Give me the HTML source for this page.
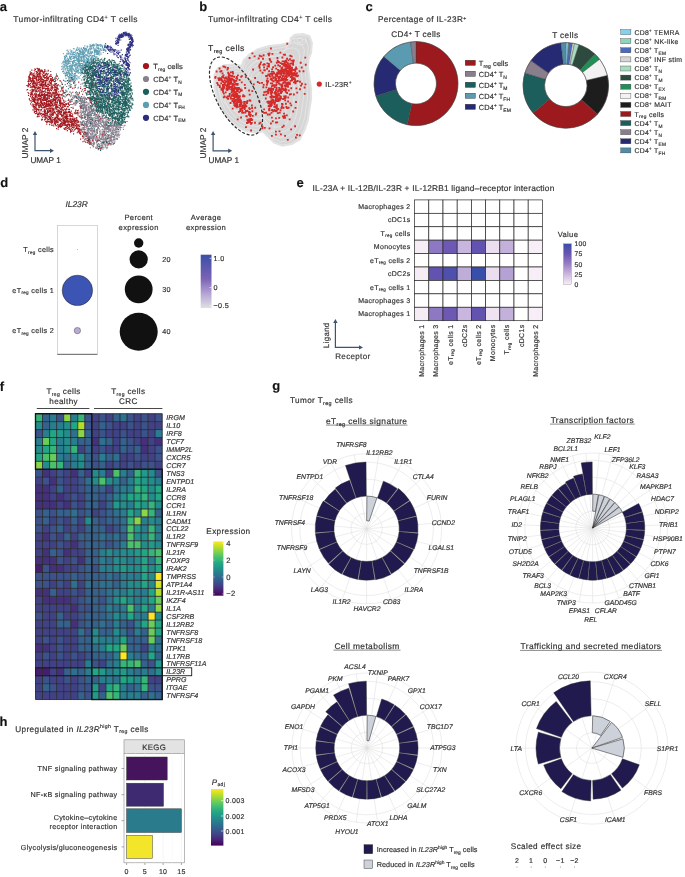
<!DOCTYPE html>
<html><head><meta charset="utf-8"><title>Figure</title>
<style>html,body{margin:0;padding:0;background:#fff;}svg{display:block;will-change:transform;text-rendering:geometricPrecision;}text{letter-spacing:0.045em;stroke:#333;stroke-width:0.18px;}text[font-style=italic]{letter-spacing:0;}</style></head>
<body><svg width="685" height="877" viewBox="0 0 685 877" font-family='"Liberation Sans", sans-serif' fill="#333333">
<rect width="685" height="877" fill="#fff"/>
<path d="M115.4 132.0h0M99.5 137.6h0M96.2 134.4h0M84.4 134.8h0M102.6 145.0h0M109.8 140.8h0M86.9 126.4h0M93.7 146.2h0M112.2 125.7h0M98.9 116.3h0M92.9 143.2h0M117.7 136.2h0M107.6 138.7h0M85.8 127.8h0M90.6 117.7h0M70.7 100.4h0M91.2 138.4h0M106.8 139.3h0M86.6 99.4h0M80.3 124.0h0M106.1 127.8h0M104.5 127.7h0M91.1 111.2h0M101.0 143.4h0M113.5 143.6h0M74.2 95.8h0M77.2 102.5h0M114.1 138.0h0M102.4 118.1h0M87.6 118.4h0M85.2 101.0h0M91.3 108.7h0M102.6 121.3h0M113.6 131.0h0M96.7 137.1h0M97.1 135.7h0M102.9 118.0h0M93.5 109.5h0M103.0 121.0h0M108.5 137.8h0M84.7 126.2h0M118.3 135.0h0M88.3 103.9h0M84.7 104.2h0M84.6 100.4h0M108.3 126.2h0M97.8 148.0h0M117.7 134.7h0M107.3 134.6h0M118.4 123.8h0M110.1 120.2h0M76.0 100.6h0M110.3 130.1h0M100.9 138.4h0M94.1 142.7h0M84.7 115.1h0M109.5 143.0h0M94.1 137.9h0M91.8 138.0h0M94.8 126.4h0M104.9 122.3h0M113.2 144.5h0M106.3 139.4h0M101.2 139.5h0M102.9 145.2h0M86.9 115.6h0M93.2 137.0h0M96.6 141.7h0M112.5 120.9h0M109.4 130.0h0M122.2 123.6h0M103.7 133.6h0M84.4 118.3h0M88.9 128.9h0M99.7 136.1h0M91.4 115.4h0M108.6 141.4h0M84.3 128.3h0M88.3 116.7h0M90.0 141.0h0M106.0 121.2h0M80.2 112.1h0M115.9 135.2h0M99.0 135.8h0M107.1 128.4h0M106.7 131.3h0M84.6 126.6h0M97.5 132.0h0M91.1 130.1h0M108.6 130.9h0M117.2 125.1h0M97.5 130.3h0M103.1 143.2h0M115.9 130.0h0M112.4 130.4h0M89.8 112.0h0M84.3 118.4h0" stroke="#8b7f8e" stroke-width="1.1" stroke-linecap="square" fill="none"/><path d="M98.2 64.7h0M121.2 111.9h0M98.1 140.3h0M117.9 82.3h0M108.7 70.7h0M80.8 117.8h0M112.2 78.6h0M124.9 117.8h0M114.8 103.6h0M131.4 98.1h0M103.9 113.4h0M126.0 108.9h0M103.2 126.4h0M81.5 96.5h0M92.9 83.3h0M111.4 79.6h0M114.9 121.8h0M118.5 101.2h0M88.7 65.1h0M123.4 102.4h0M113.3 100.3h0M125.9 105.6h0M126.7 94.1h0M107.8 68.9h0M95.0 92.7h0M90.5 98.6h0M110.4 106.6h0M100.9 80.6h0M108.5 93.0h0M104.1 115.4h0M117.7 77.7h0M128.2 101.6h0M106.9 98.5h0M98.1 79.6h0M91.5 98.9h0M89.7 92.5h0M100.9 102.2h0M124.7 109.9h0M107.5 143.2h0M118.8 119.1h0M114.5 118.1h0M127.1 104.4h0M120.7 116.7h0M95.3 110.8h0M98.9 146.4h0M105.3 129.0h0M114.0 113.5h0M128.5 91.9h0M123.8 85.4h0M132.5 98.8h0M88.3 73.4h0M91.3 64.5h0M100.0 95.8h0M118.4 90.6h0M121.0 71.1h0M109.6 110.1h0M64.9 92.6h0M92.6 92.4h0M109.1 97.1h0M101.5 96.7h0M126.5 98.9h0M113.7 81.4h0M120.0 116.2h0M90.5 77.5h0M119.0 118.3h0M120.9 75.8h0M87.7 117.9h0M103.0 80.3h0M98.7 143.8h0M106.7 94.4h0M103.1 74.3h0M120.2 75.2h0M124.3 119.6h0M92.4 86.9h0M87.0 79.5h0M88.5 75.5h0M102.5 103.5h0M127.1 75.4h0M98.0 86.4h0M56.5 75.2h0M121.4 70.2h0M97.8 94.7h0M104.9 58.7h0M102.7 103.0h0M113.8 70.2h0M92.4 60.0h0M123.7 108.5h0M122.3 113.4h0M87.1 64.5h0M105.5 105.9h0M89.6 77.3h0M112.0 102.2h0M116.3 92.4h0M119.8 69.9h0M122.9 68.5h0M112.8 69.4h0M95.3 86.9h0M98.0 99.2h0M92.6 105.9h0M115.5 121.1h0M99.4 64.9h0M82.3 73.3h0M120.2 74.1h0M93.3 104.6h0M122.1 92.6h0M118.7 121.2h0M113.0 96.5h0M118.3 72.9h0M106.3 69.7h0M122.0 91.3h0M130.7 97.2h0M91.7 59.8h0M87.5 69.6h0M94.7 65.9h0M76.3 97.7h0M123.7 92.7h0M110.4 114.0h0M99.2 64.7h0M110.2 98.5h0M106.9 77.6h0M113.5 64.7h0M104.0 115.1h0M131.3 96.0h0M122.7 100.3h0M98.0 66.0h0M91.0 68.8h0M126.4 76.1h0M128.2 90.0h0M99.4 79.5h0M124.3 98.2h0M120.7 114.9h0M91.7 86.3h0M117.9 75.5h0M120.3 112.3h0M98.6 73.7h0M114.9 118.8h0M112.3 115.6h0M124.7 108.4h0M92.0 91.4h0M82.4 68.6h0M92.3 67.4h0M67.4 83.6h0M99.4 107.7h0M130.2 106.6h0M124.2 94.6h0M110.0 92.3h0M100.4 65.5h0M110.9 111.3h0M100.2 94.8h0M120.2 104.5h0M104.9 86.3h0M109.9 115.0h0" stroke="#1d5f5e" stroke-width="1.1" stroke-linecap="square" fill="none"/><path d="M129.0 44.4h0M115.8 89.2h0M119.3 82.5h0M128.7 45.0h0M108.7 93.2h0M126.1 34.2h0M103.5 50.1h0M130.3 46.6h0M109.7 96.8h0M123.4 63.1h0M114.9 74.5h0M102.5 66.5h0M126.7 49.5h0M99.7 80.0h0M122.7 36.2h0M116.1 44.5h0M102.3 62.5h0M118.3 92.6h0M130.6 37.8h0M122.6 35.6h0M128.3 44.4h0M99.4 82.6h0M98.9 75.0h0M122.2 59.7h0M121.8 85.3h0M128.9 64.9h0M118.8 50.9h0M119.1 88.9h0M109.4 68.6h0M108.1 46.4h0M106.5 81.3h0M98.4 82.0h0M123.4 35.7h0M127.6 48.1h0M130.7 45.3h0M118.6 35.2h0M119.7 37.8h0M117.8 57.5h0M118.0 43.0h0M128.5 34.7h0M127.5 59.0h0M116.3 74.6h0M123.5 32.8h0M97.6 70.9h0M121.8 59.2h0M119.4 73.4h0M127.4 50.2h0M111.4 47.8h0M109.6 81.0h0M124.6 33.9h0M112.5 49.3h0M131.9 35.7h0" stroke="#2b2e80" stroke-width="1.1" stroke-linecap="square" fill="none"/><path d="M73.3 60.8h0M83.7 53.1h0M98.8 53.0h0M93.8 45.7h0M82.4 50.7h0M80.5 52.5h0M90.3 58.7h0M79.1 61.2h0M97.8 51.6h0M80.1 51.4h0M79.9 60.4h0M75.4 51.9h0M80.9 71.7h0M74.3 52.3h0M68.4 53.9h0M69.9 69.3h0M94.3 48.9h0M63.6 73.2h0M73.2 78.6h0M90.7 46.6h0M89.0 60.2h0M75.7 68.9h0M74.2 61.0h0M63.8 66.9h0M81.5 57.4h0M64.7 58.5h0M88.2 50.4h0M66.0 62.1h0M91.4 53.8h0M81.0 54.1h0M68.7 76.6h0M76.0 64.9h0M77.9 68.3h0M72.0 78.5h0M93.9 58.5h0M70.6 79.0h0M75.3 64.6h0M85.7 68.6h0M84.8 45.9h0M86.0 65.1h0M75.1 57.3h0M66.0 64.6h0M100.4 49.2h0M78.6 60.9h0M70.9 53.1h0" stroke="#5d9db2" stroke-width="1.1" stroke-linecap="square" fill="none"/><path d="M65.7 124.8h0M71.8 113.2h0M80.0 129.8h0M48.5 86.2h0M39.0 73.6h0M70.5 132.1h0M78.3 110.3h0M57.1 106.7h0M41.2 113.6h0M48.0 95.9h0M52.2 80.6h0M61.9 119.5h0M64.6 123.1h0M54.7 119.8h0M81.1 115.1h0M49.3 93.0h0M30.8 92.2h0M39.9 107.5h0M56.4 117.3h0M56.8 95.4h0M35.1 98.2h0M45.2 107.8h0M50.6 101.1h0M58.9 110.8h0M55.0 93.8h0M35.9 97.0h0M46.9 115.5h0M57.6 118.4h0M36.4 94.1h0M57.5 97.4h0M54.9 103.0h0M60.9 120.0h0M103.7 112.0h0M97.4 95.7h0M57.1 101.4h0M34.4 112.6h0M48.0 78.8h0M76.7 117.6h0M77.2 128.1h0M44.8 109.4h0M41.8 120.2h0M68.7 129.0h0M38.3 100.2h0M48.8 95.7h0M55.3 100.0h0M49.6 85.0h0M46.1 114.8h0M47.9 84.2h0M52.8 109.8h0M97.1 94.7h0M60.6 120.7h0M40.1 99.3h0M63.9 105.2h0M74.2 121.5h0M77.8 125.2h0M48.5 84.4h0M45.6 74.9h0M43.2 114.5h0M56.7 88.2h0M49.9 114.0h0M57.7 124.5h0M52.4 114.1h0M66.8 119.9h0M42.5 74.2h0M37.6 74.6h0M35.1 71.1h0M63.9 113.1h0M82.5 100.1h0M102.3 82.0h0M37.5 103.2h0M35.9 76.1h0M75.4 111.2h0M53.8 126.0h0M38.6 114.4h0M54.0 90.5h0M53.2 112.5h0M38.4 77.7h0M51.4 80.2h0M63.4 104.4h0M41.5 81.8h0M70.0 115.7h0M42.9 91.6h0M61.3 119.3h0M32.9 77.4h0M50.6 115.9h0M32.3 93.7h0M42.4 94.5h0M44.3 98.8h0M60.0 118.7h0M27.6 89.5h0M49.2 98.8h0M88.8 98.7h0M42.6 79.8h0M37.6 76.6h0M47.8 79.1h0M72.0 130.9h0M75.7 121.6h0M34.7 100.0h0M58.2 110.1h0M94.5 91.8h0M35.9 87.0h0M49.3 104.3h0M32.3 80.4h0M38.6 82.3h0M66.0 109.9h0M68.0 121.4h0M48.2 104.9h0M105.2 134.9h0M57.5 76.1h0M71.8 125.5h0M62.0 105.7h0M86.5 136.4h0M35.6 102.8h0M42.2 89.1h0M47.7 94.4h0M47.3 109.2h0M37.6 88.5h0M40.9 102.2h0M35.4 95.4h0M41.1 83.1h0M35.8 83.9h0M34.8 81.7h0M67.3 122.1h0M79.8 131.7h0M45.3 115.8h0M53.8 100.3h0M56.6 106.8h0M75.2 120.5h0M56.9 99.8h0M52.1 108.4h0M62.0 116.6h0M42.9 100.6h0M73.4 127.9h0M77.2 132.8h0M26.9 90.0h0M80.9 134.2h0M42.3 114.9h0M47.6 111.5h0M56.7 97.5h0M33.3 85.1h0M39.1 96.6h0M53.3 92.3h0M55.0 124.0h0M88.2 116.7h0M65.6 125.1h0M61.4 115.2h0M84.2 141.1h0M101.3 81.1h0M82.5 136.5h0M102.5 92.1h0M50.2 88.3h0M43.5 100.7h0M56.0 109.8h0M44.6 103.9h0" stroke="#a1161c" stroke-width="1.1" stroke-linecap="square" fill="none"/><path d="M90.9 122.4h0M88.8 141.5h0M86.1 110.9h0M107.2 136.7h0M82.3 102.2h0M117.5 128.5h0M80.5 104.7h0M103.9 131.1h0M85.3 134.9h0M97.9 137.7h0M81.9 122.1h0M85.4 112.3h0M112.0 137.2h0M86.6 132.2h0M85.4 132.4h0M102.4 131.3h0M90.2 138.1h0M102.5 136.7h0M93.3 140.5h0M108.3 123.4h0M116.2 122.6h0M119.9 128.8h0M84.2 104.1h0M86.6 108.0h0M89.6 132.4h0M118.3 122.0h0M93.5 125.9h0M98.2 140.7h0M111.0 123.1h0M98.0 126.1h0M89.3 126.1h0M89.3 117.4h0M107.9 139.9h0M88.8 109.8h0M90.9 113.1h0M101.9 122.1h0M92.4 124.2h0M97.3 147.5h0M91.8 131.8h0M99.1 116.9h0M76.4 101.5h0M93.1 111.7h0M91.4 114.1h0M83.7 128.8h0M99.3 117.0h0M117.4 138.9h0M88.0 131.9h0M102.6 120.9h0M91.7 124.6h0M91.2 134.6h0M105.9 123.6h0M94.2 113.3h0M117.5 125.5h0M82.3 101.0h0M85.9 133.4h0M102.9 149.1h0M115.8 138.9h0M82.1 100.2h0M91.6 117.4h0M75.9 104.7h0M104.9 118.5h0M88.8 107.4h0M118.9 127.3h0M118.9 131.0h0M104.6 124.5h0M83.6 104.1h0M89.3 110.7h0M82.2 128.3h0M113.6 125.9h0M92.7 119.3h0M99.3 116.7h0M99.6 123.3h0M107.9 126.7h0M113.4 128.8h0M88.0 129.6h0M87.3 105.8h0M106.6 122.3h0M80.9 98.9h0M120.4 129.9h0M83.0 98.1h0M82.6 115.6h0M94.3 123.1h0M105.7 139.5h0M85.8 108.9h0M92.4 123.6h0M90.2 130.7h0M91.1 134.3h0M115.2 130.2h0M106.1 143.1h0M99.4 146.3h0M99.0 121.1h0M84.3 101.9h0M110.5 140.5h0M93.8 136.4h0M100.1 138.7h0M104.6 139.0h0" stroke="#8b7f8e" stroke-width="1.1" stroke-linecap="square" fill="none"/><path d="M128.1 89.9h0M115.4 104.3h0M122.9 65.6h0M83.9 69.9h0M123.2 79.4h0M99.5 93.0h0M128.3 88.9h0M90.4 74.9h0M98.8 84.7h0M114.1 136.2h0M125.9 89.1h0M130.7 94.3h0M92.4 84.4h0M99.9 103.7h0M114.8 91.1h0M93.0 65.2h0M100.7 83.3h0M121.6 112.0h0M90.2 69.1h0M108.9 80.5h0M103.3 92.3h0M106.0 90.0h0M91.8 96.8h0M89.7 62.9h0M115.5 112.5h0M102.7 111.5h0M115.2 93.0h0M114.0 65.4h0M118.2 123.1h0M122.6 119.3h0M117.6 74.9h0M93.3 82.7h0M91.6 79.8h0M101.8 94.6h0M111.6 85.7h0M84.2 98.9h0M60.0 85.9h0M84.9 72.4h0M128.1 81.9h0M85.5 90.1h0M119.7 68.2h0M123.3 102.2h0M101.2 102.0h0M62.4 87.8h0M104.8 100.5h0M87.1 69.8h0M127.0 92.0h0M111.3 85.0h0M121.7 78.1h0M112.0 66.9h0M125.5 74.2h0M110.4 137.2h0M126.2 91.2h0M124.0 72.2h0M108.4 104.7h0M90.2 88.1h0M124.9 121.9h0M100.0 76.9h0M132.3 104.6h0M98.9 75.1h0M124.8 67.8h0M121.0 79.1h0M91.1 94.0h0M82.7 104.9h0M97.3 105.4h0M98.4 75.1h0M127.7 80.6h0M94.9 74.7h0M109.7 111.6h0M114.3 113.5h0M108.2 117.8h0M122.6 86.1h0M122.2 73.6h0M124.9 81.9h0M115.7 99.2h0M102.3 108.8h0M94.6 101.0h0M99.3 107.8h0M122.5 120.9h0M97.6 90.4h0M87.4 134.7h0M118.9 122.7h0M121.4 94.4h0M125.5 108.1h0M100.4 78.8h0M91.1 98.9h0M92.5 72.6h0M131.4 86.3h0M103.7 99.0h0M92.4 110.7h0M95.8 94.5h0M107.6 87.1h0M110.6 114.5h0M118.1 108.8h0M128.0 91.1h0M105.3 83.4h0M123.9 116.0h0M110.7 79.2h0M120.7 96.9h0M101.3 92.8h0M102.3 106.3h0M121.4 65.6h0M124.8 99.5h0M107.0 96.7h0M91.7 84.8h0M88.4 91.5h0M86.7 73.6h0M125.7 92.5h0M87.3 92.9h0M112.4 113.4h0M86.2 73.4h0M100.3 107.0h0M100.5 99.5h0M111.9 102.4h0M105.9 65.4h0M125.4 70.7h0M124.0 102.4h0M88.5 80.8h0M119.4 102.2h0M68.5 82.3h0M104.0 101.6h0M90.5 122.9h0M96.1 99.7h0M118.0 70.7h0M91.4 67.1h0M94.9 73.5h0M102.9 101.8h0M90.2 90.4h0M119.0 101.3h0M106.0 92.6h0M110.9 67.5h0M96.0 106.0h0M109.3 59.5h0M126.5 85.0h0M106.6 106.9h0M89.1 129.4h0M118.1 107.7h0M104.2 86.8h0M96.1 72.6h0M95.0 101.7h0M114.3 122.3h0M103.8 106.5h0M111.8 110.0h0M114.8 86.5h0M105.7 80.6h0M125.5 81.6h0M111.9 99.9h0M92.3 67.0h0M96.9 87.9h0" stroke="#1d5f5e" stroke-width="1.1" stroke-linecap="square" fill="none"/><path d="M101.6 76.9h0M118.8 39.6h0M113.0 50.1h0M104.2 89.3h0M113.4 76.5h0M119.3 37.6h0M106.9 80.8h0M99.8 70.9h0M95.8 75.4h0M128.3 60.2h0M95.9 78.3h0M124.1 62.2h0M127.1 54.1h0M120.2 36.6h0M121.2 50.1h0M111.1 69.5h0M132.3 44.9h0M115.6 41.7h0M102.8 92.5h0M104.6 83.8h0M94.9 69.6h0M122.3 81.1h0M128.2 67.5h0M118.4 39.3h0M125.4 59.5h0M118.0 42.8h0M131.1 36.5h0M124.7 35.0h0M130.6 49.5h0M100.5 65.7h0M113.3 91.0h0M127.9 33.8h0M99.7 89.2h0M128.8 56.9h0M117.0 55.5h0M126.6 74.0h0M117.4 72.9h0M121.1 56.1h0M126.9 35.6h0M109.4 87.2h0M115.8 89.6h0M110.5 85.8h0M126.4 69.5h0M120.2 36.7h0" stroke="#2b2e80" stroke-width="1.1" stroke-linecap="square" fill="none"/><path d="M100.9 53.0h0M90.4 59.6h0M97.1 54.2h0M91.2 58.1h0M77.5 53.3h0M94.8 54.6h0M72.8 58.2h0M67.8 50.2h0M96.4 50.8h0M94.2 50.7h0M88.6 62.0h0M87.0 64.5h0M91.5 53.7h0M77.3 52.5h0M78.6 73.1h0M86.5 64.7h0M94.8 58.3h0M74.2 77.3h0M77.2 67.6h0M67.9 74.0h0M80.8 60.4h0M79.9 54.0h0M64.9 57.4h0M71.1 56.6h0M70.2 50.0h0M81.0 67.6h0M64.6 81.0h0M70.0 66.0h0M65.6 57.8h0M90.4 49.7h0M83.0 56.4h0M80.6 53.8h0M92.4 45.9h0M68.0 62.4h0M87.7 66.0h0M69.6 56.6h0M83.1 69.1h0M100.9 48.7h0M77.2 71.3h0M83.4 51.7h0M94.4 53.2h0M71.7 51.0h0M77.2 53.1h0M71.5 75.5h0M86.8 49.9h0M88.5 63.2h0M82.5 60.8h0M65.4 73.5h0M80.2 72.7h0M73.0 79.5h0M65.5 60.2h0M64.9 57.4h0M83.0 100.6h0M63.5 71.3h0M74.1 61.5h0M70.8 74.4h0M91.1 48.9h0M65.2 68.2h0M77.9 58.7h0M96.2 47.8h0M98.6 47.7h0M77.5 70.3h0M76.3 50.0h0M86.4 49.7h0M101.0 54.2h0M86.1 64.0h0M65.7 69.0h0" stroke="#5d9db2" stroke-width="1.1" stroke-linecap="square" fill="none"/><path d="M36.3 76.1h0M37.3 116.6h0M44.9 110.5h0M83.2 121.5h0M45.8 113.2h0M34.3 86.9h0M50.9 79.9h0M85.7 134.2h0M107.8 98.7h0M49.0 100.6h0M39.9 104.3h0M44.1 107.8h0M49.3 95.9h0M54.7 97.6h0M46.8 88.5h0M35.1 87.2h0M38.3 74.7h0M56.2 92.3h0M34.3 107.0h0M54.9 102.7h0M33.2 85.9h0M38.4 80.2h0M71.9 121.9h0M32.5 99.2h0M52.3 93.1h0M96.4 83.9h0M55.1 100.7h0M54.5 118.9h0M46.2 105.6h0M63.2 93.2h0M71.2 126.9h0M46.5 105.9h0M53.4 109.8h0M56.7 106.8h0M39.2 77.5h0M55.8 97.8h0M36.5 90.8h0M66.6 95.8h0M38.4 90.9h0M29.6 81.2h0M61.7 89.0h0M42.3 99.7h0M32.0 90.8h0M33.6 86.4h0M61.8 88.9h0M64.3 121.3h0M34.9 106.5h0M39.5 79.0h0M43.0 99.9h0M53.7 99.9h0M48.5 77.8h0M63.7 114.8h0M63.6 107.3h0M43.8 84.6h0M45.9 113.8h0M41.8 92.3h0M74.7 124.9h0M109.2 83.4h0M108.1 144.9h0M40.6 71.6h0M68.6 127.6h0M71.0 121.7h0M41.5 94.5h0M93.0 82.7h0M56.4 104.4h0M55.7 113.1h0M50.7 75.2h0M53.0 101.5h0M45.6 77.5h0M49.9 115.0h0M54.2 120.2h0M45.0 99.7h0M44.5 71.7h0M38.5 95.1h0M36.8 85.6h0M36.1 74.1h0M68.8 123.8h0M62.4 107.0h0M46.8 106.3h0M55.6 117.3h0M74.3 122.8h0M48.9 110.7h0M55.7 80.4h0M73.0 117.1h0M39.8 106.5h0M48.7 100.4h0M48.5 103.1h0M36.1 107.9h0M52.5 77.5h0M59.5 102.8h0M71.8 78.8h0M40.7 95.6h0M108.6 143.8h0M63.8 123.4h0M39.8 112.7h0M56.1 78.5h0M36.6 109.3h0M85.7 102.7h0M54.0 87.7h0M33.1 106.6h0M41.9 90.8h0M111.2 141.2h0M70.1 115.7h0M38.9 116.2h0M47.4 99.2h0M59.9 118.1h0M43.5 84.6h0M49.8 121.8h0M51.2 84.8h0M63.1 118.0h0M57.2 102.9h0M29.4 99.2h0M67.1 112.8h0M42.5 71.1h0M33.7 100.4h0M43.2 97.0h0M54.3 81.7h0M57.8 117.1h0M29.4 77.5h0M40.4 100.0h0M32.2 84.8h0M43.4 105.3h0M27.9 85.4h0M43.6 107.6h0M43.5 105.1h0M42.6 104.1h0M49.8 108.0h0M59.4 101.4h0M44.7 91.3h0M31.8 92.1h0M64.9 122.6h0M58.4 116.0h0M110.1 118.8h0M54.6 81.5h0M44.6 112.4h0M84.5 90.3h0M49.0 89.7h0M68.3 111.9h0M31.9 73.1h0M33.9 83.2h0M67.8 107.0h0M43.4 105.7h0M102.1 79.3h0M39.3 79.5h0" stroke="#a1161c" stroke-width="1.1" stroke-linecap="square" fill="none"/><path d="M111.8 142.8h0M114.4 139.4h0M102.7 129.2h0M86.6 107.2h0M92.1 104.6h0M95.5 120.1h0M81.5 123.1h0M85.4 117.4h0M104.4 132.0h0M112.2 130.4h0M122.4 122.6h0M89.6 112.3h0M84.8 114.3h0M93.4 109.1h0M113.5 137.3h0M97.7 129.9h0M94.2 106.6h0M102.4 136.0h0M112.2 123.1h0M82.7 111.7h0M71.8 99.2h0M112.2 131.7h0M90.2 107.9h0M121.0 124.6h0M90.4 119.2h0M106.7 129.8h0M78.2 101.9h0M81.3 119.0h0M94.0 142.7h0M91.3 127.5h0M101.9 122.2h0M118.5 134.1h0M109.5 141.6h0M115.7 132.8h0M86.8 128.3h0M105.0 147.7h0M89.4 138.3h0M81.9 116.9h0M83.7 101.6h0M74.8 96.6h0M86.5 99.4h0M99.7 134.3h0M98.1 111.7h0M106.9 148.6h0M90.3 138.3h0M92.8 145.7h0M114.0 129.0h0M89.4 119.3h0M94.7 122.1h0M85.3 117.0h0M93.7 108.2h0M99.5 140.1h0M88.3 107.1h0M111.5 132.8h0M115.8 122.1h0M101.1 118.7h0M103.7 124.8h0M88.7 139.5h0M84.9 123.5h0M116.5 132.9h0M89.9 139.7h0M68.4 94.0h0M85.5 114.4h0M121.7 125.5h0M98.9 123.7h0M115.0 124.3h0M95.8 138.5h0M89.7 119.0h0M104.4 132.8h0M105.0 141.0h0M87.0 134.0h0M106.2 140.4h0M114.5 130.2h0M91.5 110.2h0M91.3 142.4h0M123.5 129.5h0M92.3 109.4h0M90.4 144.4h0M84.1 122.2h0M112.1 120.9h0M106.9 147.7h0M114.5 122.2h0M108.4 126.1h0M96.9 116.4h0M107.2 142.9h0M102.2 137.0h0M112.4 133.6h0M107.4 145.8h0" stroke="#8b7f8e" stroke-width="1.1" stroke-linecap="square" fill="none"/><path d="M93.4 59.9h0M118.3 112.8h0M124.4 79.3h0M118.7 118.9h0M106.4 74.3h0M125.0 79.2h0M118.5 129.4h0M94.9 63.8h0M96.6 111.0h0M104.5 95.8h0M101.8 105.0h0M120.3 80.7h0M125.8 99.4h0M96.0 81.0h0M101.1 71.4h0M104.8 73.1h0M127.1 108.7h0M91.5 60.4h0M93.3 111.0h0M82.6 89.8h0M102.4 61.0h0M104.3 79.5h0M120.7 83.6h0M119.8 92.9h0M115.4 88.4h0M120.7 101.8h0M125.5 85.3h0M127.9 94.2h0M75.5 92.7h0M78.2 96.1h0M103.3 107.6h0M122.4 116.5h0M124.8 75.0h0M96.3 101.1h0M125.0 89.7h0M113.7 115.2h0M124.1 110.5h0M117.8 95.1h0M102.1 82.6h0M98.2 58.4h0M90.4 83.3h0M125.8 80.9h0M95.0 66.3h0M101.5 102.2h0M100.5 98.0h0M90.8 79.3h0M108.9 100.9h0M103.5 115.8h0M98.4 60.8h0M97.2 110.0h0M109.6 115.6h0M117.3 78.2h0M109.5 112.0h0M90.0 71.5h0M114.0 105.5h0M127.8 78.3h0M115.4 72.4h0M122.3 103.9h0M109.4 99.4h0M107.8 62.8h0M101.0 105.7h0M127.3 84.7h0M126.0 79.7h0M87.9 70.7h0M116.3 74.7h0M122.5 114.2h0M87.7 65.3h0M116.8 90.0h0M128.5 105.3h0M122.4 87.3h0M100.5 110.1h0M100.0 98.4h0M97.4 145.1h0M92.5 75.5h0M115.8 81.3h0M119.9 78.4h0M88.1 97.5h0M94.0 100.7h0M114.2 113.1h0M122.3 98.0h0M88.4 94.2h0M113.2 72.9h0M106.3 79.8h0M99.8 67.5h0M87.5 72.5h0M66.8 104.1h0M104.1 102.5h0M91.9 70.6h0M116.5 95.9h0M125.6 93.8h0M92.7 81.1h0M127.9 108.8h0M118.5 79.8h0M109.4 93.9h0M92.2 91.8h0M99.8 61.3h0M81.8 70.7h0M97.6 69.7h0M98.0 101.6h0M114.2 102.0h0M119.3 63.7h0M122.4 86.5h0M85.1 78.3h0M122.8 93.4h0M125.1 92.0h0M126.0 97.4h0M117.6 124.5h0M124.6 102.3h0M118.5 70.9h0M110.8 61.5h0M117.7 65.1h0M125.5 100.9h0M88.1 83.3h0M88.6 82.7h0M128.5 111.3h0M126.8 107.5h0M85.1 70.2h0M97.9 72.5h0M102.1 73.6h0M99.8 99.4h0M110.9 88.2h0M110.0 83.8h0M95.0 105.2h0M115.0 108.8h0M122.5 84.4h0M95.7 73.0h0M104.2 62.9h0M96.0 71.0h0M76.5 100.5h0M104.6 62.6h0M102.9 147.6h0M104.6 108.3h0M104.3 106.7h0M132.6 98.4h0M117.4 113.1h0M99.9 107.1h0M91.8 76.1h0M109.3 141.8h0M106.7 117.4h0M122.2 115.0h0M104.7 100.4h0M115.0 65.1h0M93.4 96.5h0M97.4 93.1h0M96.5 72.7h0M110.4 61.3h0M118.7 107.2h0M115.7 134.3h0M94.7 79.9h0M109.3 108.6h0M71.1 84.5h0M108.6 115.0h0M126.7 89.5h0M92.2 83.5h0M125.1 90.0h0M114.9 98.2h0M112.0 61.0h0M97.6 112.4h0M93.0 85.7h0M79.6 103.5h0M82.1 72.6h0M96.0 107.1h0M120.9 96.7h0M97.3 89.9h0M95.9 66.0h0M128.4 88.7h0M108.1 112.9h0M123.8 114.4h0M85.3 83.9h0M106.8 82.7h0M106.7 86.9h0M116.1 108.9h0M103.4 94.0h0M95.9 98.5h0" stroke="#1d5f5e" stroke-width="1.1" stroke-linecap="square" fill="none"/><path d="M123.6 62.8h0M117.9 95.8h0M107.6 67.1h0M129.2 37.7h0M114.3 91.9h0M129.0 44.6h0M127.2 64.2h0M111.7 88.5h0M103.1 68.7h0M115.8 94.7h0M106.3 80.2h0M105.4 79.6h0M116.9 86.9h0M129.3 39.4h0M127.6 34.1h0M114.7 91.2h0M118.4 42.1h0M108.7 50.5h0M96.9 82.9h0M116.8 40.7h0M114.3 96.7h0M126.6 62.7h0M106.4 47.0h0M127.3 51.7h0M112.0 92.9h0M102.1 92.4h0M132.4 38.3h0M120.4 89.1h0M107.9 86.1h0M99.5 86.6h0M119.8 36.1h0M131.9 45.4h0M100.6 75.8h0M116.9 82.4h0M108.5 74.9h0M110.3 47.6h0M130.5 44.9h0M116.8 42.2h0M122.4 87.9h0M98.8 64.9h0M130.5 41.6h0M126.1 33.7h0M127.8 45.1h0M100.4 89.8h0M118.3 53.4h0M108.5 88.2h0M110.2 74.3h0M113.3 97.2h0M112.8 49.0h0M114.3 51.4h0M121.2 91.0h0" stroke="#2b2e80" stroke-width="1.1" stroke-linecap="square" fill="none"/><path d="M67.2 72.3h0M69.9 73.7h0M70.9 58.8h0M64.6 65.9h0M105.0 46.4h0M95.7 57.1h0M74.7 60.0h0M67.4 75.4h0M80.5 51.1h0M96.1 43.8h0M67.0 75.2h0M90.9 48.2h0M78.2 59.0h0M97.2 45.5h0M86.5 49.7h0M91.4 48.1h0M81.4 61.4h0M92.9 56.0h0M91.0 62.8h0M77.9 48.3h0M86.3 66.2h0M84.7 52.8h0M65.9 55.2h0M93.4 47.7h0M92.8 44.9h0M77.7 61.2h0M102.0 45.4h0M72.7 53.7h0M97.5 50.6h0M78.3 49.5h0M69.0 78.1h0M77.2 64.9h0M78.6 53.6h0M70.8 68.9h0M79.8 64.7h0M87.7 61.2h0M75.0 64.4h0M61.5 66.8h0M71.7 71.4h0M66.6 60.7h0M83.5 61.1h0M72.5 61.8h0M79.7 66.8h0M105.8 47.2h0M79.1 60.4h0M78.1 56.4h0M69.8 80.0h0M85.9 66.6h0M65.5 70.0h0M87.8 52.0h0M98.4 45.4h0M86.7 60.1h0M72.9 62.6h0M78.1 55.9h0M79.7 64.9h0M89.0 64.2h0M79.1 63.4h0M81.1 58.6h0M84.4 49.4h0" stroke="#5d9db2" stroke-width="1.1" stroke-linecap="square" fill="none"/><path d="M46.6 79.1h0M45.6 85.4h0M34.1 110.2h0M32.8 99.6h0M39.2 98.9h0M35.9 87.4h0M80.2 121.9h0M39.2 68.9h0M46.9 104.4h0M48.7 90.7h0M64.7 117.8h0M37.2 91.9h0M43.5 75.6h0M50.1 80.6h0M34.4 111.5h0M53.7 100.4h0M41.6 92.9h0M69.5 124.5h0M69.6 112.7h0M57.5 112.0h0M109.7 125.8h0M47.1 97.9h0M55.0 95.3h0M60.6 106.5h0M110.3 111.9h0M68.4 121.9h0M65.8 118.5h0M66.0 121.7h0M80.7 132.5h0M31.5 98.0h0M50.2 100.1h0M53.5 98.3h0M65.6 122.0h0M60.8 102.1h0M38.8 107.3h0M40.7 79.8h0M40.7 87.3h0M79.3 125.0h0M63.9 109.9h0M36.8 104.7h0M100.2 90.7h0M47.9 111.8h0M50.4 111.6h0M83.6 134.0h0M64.3 121.4h0M61.2 126.2h0M65.0 124.2h0M61.4 112.4h0M47.1 92.2h0M30.5 83.5h0M66.8 112.2h0M33.3 90.1h0M48.4 104.4h0M68.2 100.5h0M29.1 79.8h0M75.9 125.3h0M53.6 103.0h0M49.6 98.1h0M90.7 108.6h0M35.3 78.2h0M47.0 121.9h0M88.7 92.3h0M47.6 114.7h0M46.9 99.8h0M30.7 94.7h0M44.0 97.5h0M77.3 112.2h0M78.9 129.9h0M50.8 102.7h0M54.3 96.4h0M44.9 81.0h0M59.3 105.2h0M60.1 126.0h0M65.4 117.0h0M41.0 100.7h0M44.7 77.8h0M44.4 75.3h0M67.3 106.5h0M61.1 103.4h0M39.1 111.3h0M41.1 91.1h0M54.8 97.0h0M51.1 82.5h0M80.0 133.8h0M70.6 102.0h0M57.4 94.1h0M61.7 123.6h0M35.3 96.6h0M32.9 90.8h0M61.5 111.7h0M35.7 105.0h0M80.0 122.0h0M64.2 116.1h0M89.4 98.3h0M58.6 94.4h0M60.2 120.7h0M51.6 114.7h0M43.7 114.4h0M63.8 100.6h0M83.6 125.0h0M41.0 81.0h0M53.4 119.3h0M51.4 83.8h0M64.6 129.1h0M41.1 101.7h0M41.9 84.1h0M45.4 94.7h0M35.2 109.5h0M37.1 68.4h0M55.2 104.5h0M58.6 95.5h0M35.4 107.9h0M33.5 82.5h0M48.2 116.1h0M33.2 100.0h0M111.7 89.7h0M47.5 112.6h0M63.6 112.2h0M45.5 88.9h0M64.3 129.0h0M46.9 98.5h0M64.7 119.8h0M42.2 104.3h0M40.6 96.5h0M57.7 117.7h0M55.7 99.5h0M41.5 103.9h0M74.4 113.0h0" stroke="#a1161c" stroke-width="1.1" stroke-linecap="square" fill="none"/><path d="M81.9 107.3h0M119.6 123.5h0M105.1 134.9h0M91.7 115.7h0M85.5 119.4h0M93.3 136.5h0M98.9 139.0h0M87.6 121.7h0M82.5 112.4h0M117.8 126.4h0M109.2 125.2h0M86.9 133.2h0M99.3 119.6h0M92.3 110.1h0M114.7 124.5h0M82.1 101.7h0M97.0 110.3h0M124.9 125.4h0M87.2 110.8h0M91.8 104.2h0M98.0 140.5h0M81.6 102.6h0M109.8 134.8h0M112.5 122.5h0M84.6 107.5h0M110.3 137.2h0M114.2 136.2h0M75.1 101.1h0M101.0 119.7h0M98.4 127.9h0M96.9 148.2h0M87.2 115.6h0M76.1 101.9h0M76.4 96.9h0M111.9 127.3h0M117.2 134.6h0M99.4 136.3h0M100.6 126.9h0M100.1 130.2h0M102.1 120.6h0M110.8 138.9h0M110.3 144.2h0M92.6 128.2h0M100.2 133.3h0M88.4 135.0h0M93.0 133.2h0M93.3 146.8h0M115.7 123.4h0M90.6 128.5h0M94.3 125.3h0M85.4 116.3h0M102.2 117.9h0M92.2 134.1h0M82.7 98.4h0M81.2 124.9h0M105.2 146.0h0M84.8 131.3h0M90.2 136.9h0M91.4 128.1h0M80.1 106.0h0M98.6 116.2h0M116.6 131.5h0M102.8 133.3h0M102.2 147.4h0M104.5 133.1h0M71.5 93.1h0M94.4 136.6h0M113.4 132.5h0M111.5 132.8h0M83.5 107.8h0M96.2 131.7h0M95.3 122.0h0M94.9 127.3h0M87.7 120.7h0M98.7 148.6h0M97.5 146.7h0M112.3 136.5h0M81.1 100.0h0M87.7 137.9h0M95.6 134.1h0M79.7 96.2h0" stroke="#8b7f8e" stroke-width="1.1" stroke-linecap="square" fill="none"/><path d="M104.1 96.4h0M91.1 100.1h0M104.7 108.2h0M106.9 105.3h0M105.6 103.3h0M89.8 91.5h0M120.0 96.7h0M128.4 81.5h0M114.2 110.5h0M124.5 83.5h0M103.2 113.1h0M103.9 66.2h0M117.9 119.8h0M110.9 79.4h0M69.0 85.8h0M107.3 99.7h0M85.2 75.8h0M123.3 93.9h0M106.7 88.3h0M126.6 96.4h0M97.6 106.9h0M94.0 62.9h0M99.5 146.6h0M97.7 90.8h0M81.2 113.9h0M69.4 105.5h0M84.9 65.6h0M101.1 112.1h0M89.7 67.1h0M96.0 97.9h0M110.0 105.5h0M86.3 81.5h0M96.3 109.0h0M130.3 93.5h0M90.2 97.3h0M112.7 67.2h0M126.3 89.6h0M103.0 106.8h0M91.6 103.5h0M111.2 106.6h0M105.0 109.2h0M100.2 67.2h0M94.3 80.8h0M95.0 101.2h0M106.0 66.4h0M130.1 80.3h0M114.3 112.4h0M93.5 94.8h0M121.9 120.1h0M126.9 104.4h0M95.8 83.8h0M117.0 105.1h0M106.1 141.6h0M93.8 73.0h0M122.6 114.8h0M82.4 67.7h0M92.7 97.7h0M118.5 91.2h0M108.2 132.0h0M102.8 98.4h0M123.8 106.4h0M105.5 113.3h0M121.3 93.0h0M102.5 77.1h0M128.3 84.6h0M123.4 82.9h0M111.3 113.9h0M107.0 79.3h0M98.7 101.3h0M119.0 104.1h0M84.0 137.1h0M62.2 95.9h0M101.3 70.6h0M109.6 114.1h0M111.7 76.2h0M63.3 86.8h0M97.6 97.9h0M113.4 66.0h0M74.7 97.1h0M113.3 113.4h0M109.1 104.9h0M115.6 101.7h0M119.8 65.8h0M127.3 116.3h0M123.5 97.7h0M107.0 89.0h0M99.2 147.0h0M94.6 85.2h0M114.7 100.5h0M87.4 66.7h0M126.9 102.5h0M125.4 101.6h0M99.8 64.2h0M87.6 75.9h0M104.5 86.0h0M104.4 94.3h0M121.5 65.0h0M122.8 92.5h0M90.0 79.0h0M100.5 71.3h0M118.0 64.4h0M74.5 81.2h0M125.6 73.7h0M93.9 73.7h0M90.2 64.7h0M73.0 97.2h0M122.1 117.5h0M119.1 96.1h0M115.7 112.8h0M91.4 77.9h0M119.9 71.9h0M129.7 87.9h0M122.9 83.6h0M104.5 81.6h0M96.2 92.8h0M119.7 122.8h0M91.9 98.3h0M124.5 88.5h0M99.1 93.9h0M98.6 91.7h0M114.2 71.3h0M91.1 62.7h0M128.2 82.9h0M118.9 109.4h0M87.0 71.7h0M89.1 69.4h0M104.0 95.4h0M131.2 96.5h0M85.8 83.9h0M104.2 97.0h0M96.6 88.3h0M104.4 77.0h0M123.5 94.9h0M110.3 77.4h0M118.8 118.4h0M105.4 97.5h0M110.5 85.9h0M107.5 87.0h0M110.1 62.6h0M92.5 89.7h0M109.9 109.8h0M122.1 71.0h0M87.1 79.3h0M115.3 122.3h0M102.3 113.1h0M128.6 106.0h0M91.9 105.8h0M126.2 102.9h0M82.9 77.8h0M119.3 109.7h0M125.5 97.1h0M118.0 122.2h0M106.8 62.7h0M96.3 90.6h0M96.9 108.9h0M128.2 100.8h0M93.0 68.1h0M96.5 75.2h0M85.2 71.4h0M86.6 70.2h0M97.9 59.9h0M104.2 59.7h0M87.0 82.8h0M97.3 110.0h0M88.8 87.2h0" stroke="#1d5f5e" stroke-width="1.1" stroke-linecap="square" fill="none"/><path d="M97.2 77.4h0M115.1 49.8h0M109.3 78.7h0M102.7 84.4h0M100.5 84.7h0M102.7 68.8h0M126.7 32.2h0M115.7 78.6h0M126.7 71.3h0M115.5 81.5h0M121.0 88.7h0M127.0 65.3h0M102.1 92.7h0M95.5 66.9h0M122.4 54.6h0M119.9 55.9h0M97.7 82.9h0M104.5 84.8h0M131.9 43.5h0M105.0 92.7h0M117.8 79.1h0M129.0 65.8h0M104.4 82.6h0M121.8 81.1h0M115.9 54.1h0M116.7 96.0h0M117.0 56.2h0M119.3 73.6h0M104.8 63.8h0M127.9 35.0h0M131.8 45.6h0M118.2 90.7h0M114.6 94.0h0M106.3 80.1h0M100.7 72.7h0M128.0 57.6h0M127.8 67.4h0M128.8 68.5h0M126.5 33.8h0M99.6 81.0h0M117.7 79.8h0M133.1 40.0h0M115.0 71.9h0M114.4 73.0h0M126.5 72.3h0M113.7 72.6h0M107.9 90.8h0M114.1 75.9h0M128.6 50.7h0M96.8 72.8h0M110.5 49.7h0M107.0 91.8h0M128.0 57.8h0M116.0 43.2h0M108.1 85.3h0M98.5 86.5h0" stroke="#2b2e80" stroke-width="1.1" stroke-linecap="square" fill="none"/><path d="M76.9 60.1h0M72.2 75.1h0M92.9 44.9h0M84.3 69.1h0M98.4 53.2h0M101.3 50.5h0M90.5 55.4h0M87.6 55.9h0M92.1 55.5h0M72.5 65.4h0M87.2 47.8h0M62.8 68.0h0M72.6 62.6h0M78.4 57.8h0M100.8 44.6h0M104.7 47.0h0M70.5 69.6h0M64.4 61.8h0M79.3 53.3h0M70.7 77.3h0M84.1 61.3h0M69.6 66.4h0M73.8 60.5h0M104.3 45.3h0M85.4 63.2h0M94.0 58.0h0M88.8 53.5h0M105.1 46.2h0M79.8 78.3h0M74.4 70.7h0M71.5 66.8h0M92.5 56.0h0M74.3 71.1h0M80.6 73.3h0M79.2 48.1h0M84.4 55.5h0M83.2 53.2h0M92.1 52.4h0M73.0 63.7h0M75.4 67.8h0M75.7 64.1h0M83.5 56.6h0M63.5 53.7h0M72.0 67.2h0M81.3 70.5h0M65.4 61.1h0M78.0 78.2h0M77.1 63.6h0M74.8 75.5h0M69.3 77.4h0M70.5 59.8h0M70.4 86.5h0M75.3 55.5h0M81.0 69.0h0" stroke="#5d9db2" stroke-width="1.1" stroke-linecap="square" fill="none"/><path d="M71.2 131.4h0M87.7 142.0h0M50.1 85.5h0M62.3 94.3h0M71.0 120.1h0M63.5 123.6h0M96.8 95.9h0M32.8 76.0h0M33.6 83.7h0M73.4 123.3h0M55.6 100.3h0M58.1 118.6h0M40.6 78.1h0M41.8 84.4h0M36.1 79.4h0M66.0 115.0h0M51.9 105.7h0M70.0 116.4h0M64.9 92.6h0M84.4 129.8h0M44.4 95.3h0M81.6 105.3h0M36.9 99.0h0M40.8 76.7h0M59.3 112.9h0M33.9 83.6h0M49.4 118.4h0M43.0 91.8h0M34.9 82.7h0M36.9 112.6h0M32.7 83.5h0M50.8 101.8h0M31.2 81.9h0M58.9 96.2h0M47.0 121.4h0M55.6 106.9h0M38.2 94.9h0M61.1 107.9h0M50.3 122.0h0M28.2 85.9h0M41.8 84.2h0M67.7 126.2h0M74.0 121.4h0M48.4 116.7h0M39.6 84.9h0M67.4 128.4h0M66.4 104.5h0M48.2 97.2h0M35.0 94.1h0M103.5 122.3h0M41.5 109.6h0M50.7 78.5h0M49.3 104.5h0M53.3 108.6h0M43.7 100.4h0M35.8 91.9h0M67.5 118.4h0M52.5 87.2h0M46.4 88.6h0M69.8 111.8h0M41.5 107.2h0M38.6 103.8h0M39.2 103.3h0M30.2 71.8h0M55.1 85.0h0M80.6 88.4h0M72.0 118.6h0M58.4 99.6h0M40.9 97.8h0M43.8 85.2h0M51.5 94.0h0M37.9 88.2h0M51.5 103.3h0M62.8 103.8h0M51.1 100.1h0M77.9 129.8h0M54.7 112.6h0M45.1 78.1h0M47.0 99.4h0M39.9 91.7h0M85.7 138.7h0M96.7 129.7h0M39.7 81.9h0M51.3 120.7h0M69.7 119.7h0M38.7 109.8h0M74.8 129.7h0M32.1 105.1h0M36.7 79.5h0M43.9 82.2h0M74.3 120.7h0M44.1 97.9h0M54.3 123.7h0M38.0 104.6h0M43.7 94.5h0M41.3 84.3h0M34.7 83.0h0M47.3 95.8h0M37.5 82.2h0M49.0 117.5h0M77.9 112.0h0M37.3 109.5h0M42.7 81.9h0M44.9 100.4h0M42.1 85.7h0M56.0 125.6h0M54.6 104.0h0M84.3 104.9h0M56.6 102.2h0M78.2 126.3h0M71.8 121.4h0M39.6 98.4h0M85.4 142.2h0M40.1 98.9h0M32.9 78.0h0M44.7 84.7h0M71.0 124.3h0M53.1 80.2h0M44.6 112.8h0M40.8 76.2h0M40.0 70.2h0M34.9 104.3h0M52.0 122.9h0M47.1 115.3h0M94.8 98.4h0M56.8 105.7h0M56.2 120.8h0M37.3 72.3h0M57.5 115.5h0M58.4 119.0h0M69.7 125.6h0M57.0 109.6h0M82.6 94.3h0M110.5 99.0h0M60.5 109.4h0M36.1 103.1h0M65.1 113.9h0M88.4 137.6h0M50.0 93.2h0M32.9 76.3h0M72.8 124.1h0M63.9 96.0h0M34.6 78.5h0M39.3 105.4h0" stroke="#a1161c" stroke-width="1.1" stroke-linecap="square" fill="none"/><path d="M96.1 132.7h0M117.2 139.5h0M93.6 131.0h0M78.7 94.3h0M85.4 124.1h0M103.1 139.9h0M108.8 134.8h0M96.5 141.4h0M106.1 118.8h0M91.2 121.3h0M112.8 142.0h0M86.8 109.0h0M75.3 96.5h0M85.2 108.1h0M95.5 124.8h0M87.1 140.3h0M104.1 132.8h0M92.3 145.4h0M110.1 129.1h0M87.1 109.6h0M105.2 123.6h0M98.9 116.4h0M100.1 121.9h0M105.6 141.2h0M83.0 101.0h0M105.8 124.2h0M74.7 83.2h0M70.0 95.2h0M96.7 132.8h0M77.8 100.4h0M86.4 107.9h0M95.1 115.3h0M104.7 135.4h0M93.8 118.0h0M116.8 129.5h0M88.4 119.9h0M89.2 107.9h0M105.7 126.1h0M107.3 121.6h0M97.4 128.9h0M117.1 132.0h0M116.0 134.0h0M100.2 138.6h0M93.2 138.7h0M80.2 99.6h0M98.3 149.8h0M98.3 139.6h0M105.5 123.6h0M87.9 102.7h0M100.6 141.5h0M85.0 98.5h0M90.3 121.3h0M69.6 94.5h0M86.1 123.6h0M88.3 112.1h0M95.4 114.1h0M86.5 122.9h0M89.4 114.1h0M104.5 118.0h0M97.2 141.0h0M93.7 121.9h0M95.9 123.2h0M111.0 138.4h0M98.1 143.9h0M87.5 116.8h0M105.0 128.2h0M114.0 130.6h0M84.1 96.9h0M97.1 139.4h0" stroke="#8b7f8e" stroke-width="1.1" stroke-linecap="square" fill="none"/><path d="M122.1 106.7h0M48.1 71.3h0M98.7 74.6h0M127.7 88.6h0M122.1 108.3h0M90.1 105.7h0M112.1 90.1h0M110.8 72.0h0M100.4 73.8h0M98.1 101.8h0M102.3 86.6h0M106.1 112.6h0M131.0 106.6h0M111.0 81.1h0M108.3 111.0h0M64.5 93.0h0M109.9 80.2h0M89.4 136.8h0M111.9 119.2h0M120.5 71.9h0M98.1 90.6h0M116.1 106.0h0M111.5 63.1h0M128.8 90.2h0M96.3 101.6h0M103.0 66.4h0M84.8 116.4h0M111.4 99.9h0M89.9 62.5h0M129.0 108.8h0M111.5 84.1h0M93.8 64.3h0M94.6 135.0h0M71.2 107.5h0M93.3 75.4h0M93.9 110.8h0M100.3 107.1h0M94.5 72.3h0M91.5 123.3h0M90.6 119.2h0M120.3 109.2h0M117.5 68.5h0M98.5 110.7h0M110.0 70.6h0M85.6 71.5h0M126.2 89.6h0M112.8 120.0h0M122.8 95.6h0M101.7 105.7h0M128.7 107.1h0M124.3 77.4h0M101.8 85.2h0M121.3 78.6h0M112.3 68.6h0M93.1 81.0h0M129.1 94.4h0M123.3 91.2h0M127.1 94.2h0M102.3 71.7h0M119.4 119.9h0M122.8 103.8h0M124.3 73.3h0M105.2 73.7h0M96.1 102.5h0M93.8 84.3h0M132.0 90.1h0M103.0 79.2h0M103.3 100.6h0M94.6 70.7h0M87.9 83.1h0M99.6 88.5h0M126.2 112.4h0M105.9 106.2h0M115.5 117.1h0M106.5 101.0h0M102.7 94.2h0M128.0 99.1h0M107.3 103.6h0M68.6 99.3h0M88.1 69.1h0M65.2 84.7h0M92.1 101.3h0M94.0 86.7h0M125.8 86.3h0M99.7 88.9h0M92.0 81.4h0M131.9 103.7h0M95.4 85.3h0M107.4 103.0h0M103.9 77.9h0M125.7 105.4h0M85.2 76.3h0M85.5 82.2h0M123.1 110.7h0M114.7 64.8h0M90.8 84.0h0M91.1 66.6h0M107.6 90.6h0M108.1 108.2h0M92.1 119.3h0M119.5 116.6h0M122.4 120.6h0M106.1 73.4h0M120.1 104.3h0M89.9 70.6h0M105.5 99.3h0M120.8 121.8h0M129.4 84.5h0M118.3 96.0h0M108.6 86.5h0M92.3 139.7h0M98.2 98.6h0M93.4 136.7h0M122.7 91.7h0M93.6 86.0h0M114.1 67.8h0M111.6 63.4h0M92.6 113.1h0M100.7 74.4h0M107.5 80.7h0M118.3 87.6h0M81.9 72.4h0M106.7 78.9h0M100.8 105.9h0M130.3 97.6h0M118.1 97.5h0M96.8 102.4h0M106.9 61.6h0M99.3 107.1h0M92.8 85.3h0M95.5 92.0h0M123.2 84.2h0M94.3 128.7h0M94.7 65.6h0M123.2 111.5h0M118.6 73.5h0M109.5 104.3h0M98.6 91.4h0M101.9 106.4h0M128.9 83.3h0M104.0 102.4h0M94.9 91.3h0M110.4 115.6h0M113.3 90.2h0M89.2 76.4h0M94.0 78.9h0M128.8 80.4h0M97.0 110.5h0M117.5 113.8h0M93.4 70.7h0M109.1 113.6h0M91.9 64.0h0M112.0 110.1h0M115.8 112.5h0M96.0 118.4h0M111.2 113.7h0M104.7 104.7h0M113.5 105.9h0M125.8 99.1h0M91.0 76.7h0M95.3 74.9h0M107.1 110.6h0M125.8 102.0h0M128.2 86.5h0M98.9 104.3h0M127.3 93.9h0M98.5 101.5h0M101.2 107.9h0M118.0 117.8h0M102.7 98.1h0M116.4 70.7h0" stroke="#1d5f5e" stroke-width="1.1" stroke-linecap="square" fill="none"/><path d="M107.6 95.0h0M105.6 72.3h0M131.7 42.6h0M128.8 48.2h0M112.6 90.3h0M123.7 63.4h0M107.3 88.4h0M116.2 93.8h0M105.9 80.9h0M132.6 39.0h0M107.2 81.0h0M114.3 86.4h0M107.2 67.5h0M115.8 38.3h0M129.5 53.0h0M127.9 35.0h0M129.8 43.0h0M104.7 77.8h0M107.5 46.4h0M124.8 61.6h0M111.4 85.2h0M104.0 67.0h0M128.4 37.0h0M127.6 50.8h0M98.8 88.6h0M100.4 77.7h0M115.8 71.3h0M131.8 43.9h0M125.4 32.3h0M128.6 45.7h0M125.5 59.7h0M118.0 39.2h0M130.7 38.1h0M132.7 41.3h0M106.7 72.7h0M130.5 72.9h0M103.8 91.6h0M126.2 72.2h0M113.9 53.0h0M130.9 38.0h0M103.4 84.9h0M115.6 74.4h0M128.2 49.0h0M123.4 36.8h0M120.1 61.6h0M117.8 40.0h0M120.6 34.9h0M127.5 74.5h0M105.7 67.5h0M131.6 37.6h0M124.8 35.7h0M122.2 37.3h0M113.6 50.3h0M118.7 89.5h0M130.0 47.6h0M117.8 53.7h0M111.2 80.3h0M119.2 36.3h0" stroke="#2b2e80" stroke-width="1.1" stroke-linecap="square" fill="none"/><path d="M76.9 59.1h0M86.3 55.7h0M82.6 49.8h0M91.7 58.5h0M90.6 61.3h0M72.4 66.9h0M88.9 63.1h0M79.7 69.1h0M92.2 61.7h0M67.1 66.4h0M85.4 60.0h0M70.0 57.7h0M83.9 62.2h0M94.2 55.2h0M67.9 76.7h0M79.1 58.9h0M90.8 58.9h0M76.2 64.6h0M70.0 74.2h0M88.3 58.5h0M74.4 57.6h0M84.1 57.2h0M95.2 50.0h0M81.6 58.0h0M61.6 69.2h0M89.2 46.3h0M76.6 71.7h0M86.2 58.2h0M103.3 52.5h0M90.6 46.8h0M82.4 72.6h0M83.2 57.4h0M72.7 78.7h0M91.1 62.8h0M72.2 56.0h0M104.7 49.9h0M76.3 57.4h0M69.2 78.3h0M71.9 54.4h0M86.1 55.4h0M81.4 57.4h0M85.1 48.7h0M100.0 50.8h0M67.0 53.4h0M66.9 59.7h0M72.2 72.2h0M69.5 75.4h0M74.4 76.9h0M67.5 68.7h0M88.8 50.4h0M69.3 53.0h0M87.3 62.5h0M72.2 56.3h0M75.2 57.0h0M64.9 59.7h0M91.5 60.6h0M104.0 50.1h0M93.4 60.4h0M76.2 66.0h0M78.0 63.1h0M67.6 60.6h0" stroke="#5d9db2" stroke-width="1.1" stroke-linecap="square" fill="none"/><path d="M79.3 129.7h0M75.2 87.5h0M105.4 134.8h0M55.4 81.7h0M48.2 73.8h0M56.9 122.8h0M36.3 78.3h0M57.3 97.2h0M43.3 116.8h0M38.1 86.9h0M55.1 95.6h0M51.7 103.5h0M57.2 115.8h0M58.9 97.3h0M51.9 78.6h0M41.2 81.1h0M57.4 107.1h0M42.9 95.3h0M96.5 102.8h0M91.6 84.1h0M48.6 109.7h0M56.2 114.7h0M57.2 115.3h0M50.6 79.3h0M45.6 106.5h0M40.9 110.9h0M63.4 113.0h0M42.6 86.5h0M31.3 81.4h0M65.3 112.1h0M76.4 127.0h0M61.6 126.6h0M43.6 96.3h0M86.7 133.4h0M47.9 96.6h0M41.2 98.2h0M62.0 110.2h0M45.2 84.9h0M41.2 81.5h0M45.7 98.9h0M35.8 113.5h0M61.8 108.7h0M61.8 116.3h0M69.9 102.2h0M45.8 106.5h0M39.0 114.2h0M47.0 80.5h0M53.8 110.2h0M49.3 83.0h0M49.5 116.6h0M43.0 75.9h0M50.6 118.9h0M98.9 76.7h0M30.3 96.2h0M49.2 104.9h0M71.8 125.4h0M55.1 104.1h0M43.4 73.2h0M82.6 117.5h0M40.1 87.9h0M55.7 121.4h0M78.9 130.5h0M28.5 95.4h0M57.4 94.5h0M48.0 93.9h0M38.7 71.3h0M45.8 82.6h0M58.4 110.5h0M64.6 113.6h0M45.6 113.4h0M44.5 94.3h0M79.9 133.1h0M63.0 87.5h0M69.9 121.0h0M34.2 106.5h0M38.9 94.4h0M65.3 118.8h0M80.3 129.8h0M46.6 107.0h0M45.1 110.8h0M40.1 109.7h0M47.7 88.5h0M54.7 93.9h0M52.9 92.3h0M56.8 89.4h0M35.3 99.7h0M47.4 119.9h0M57.6 88.6h0M64.8 106.2h0M105.2 117.5h0M39.2 87.2h0M78.3 131.4h0M48.2 70.4h0M28.5 83.9h0M56.0 120.4h0M40.3 85.4h0M47.7 89.7h0M87.0 135.3h0M48.2 78.3h0M47.4 74.9h0M53.7 111.0h0M67.1 125.7h0M31.4 102.2h0M43.2 91.8h0M40.2 75.0h0M45.2 119.1h0M48.1 112.4h0M47.6 106.4h0M44.4 102.7h0M44.6 88.2h0M55.1 99.9h0M61.0 103.0h0M52.2 110.4h0M62.6 124.2h0M39.4 82.9h0M50.7 110.4h0M56.4 121.9h0M46.5 80.7h0M31.0 74.3h0M38.7 82.2h0M32.2 86.7h0M77.3 110.5h0M42.4 82.5h0M42.6 94.7h0M30.7 96.8h0M47.9 74.0h0M51.2 120.1h0M60.2 97.3h0M72.3 126.1h0M52.4 113.9h0M44.2 75.2h0M54.7 122.8h0M30.1 85.5h0M71.1 116.4h0M50.8 111.4h0M52.0 107.3h0M45.4 83.6h0M46.3 109.2h0M89.8 142.2h0M70.4 115.7h0M86.1 140.0h0" stroke="#a1161c" stroke-width="1.1" stroke-linecap="square" fill="none"/><path d="M111.6 124.1h0M87.6 130.5h0M103.4 143.7h0M110.9 126.1h0M91.6 144.4h0M100.4 134.1h0M85.4 107.1h0M102.1 119.7h0M96.4 137.9h0M84.4 133.0h0M94.2 113.5h0M92.6 128.8h0M86.9 123.4h0M94.9 112.7h0M111.8 135.5h0M92.4 125.2h0M92.1 138.8h0M119.4 125.1h0M116.8 135.9h0M84.5 105.0h0M88.1 116.4h0M110.8 130.9h0M90.3 130.6h0M113.2 127.3h0M89.6 121.6h0M99.6 120.5h0M90.5 111.5h0M85.1 132.0h0M91.0 115.2h0M87.8 124.5h0M90.2 106.6h0M85.4 111.9h0M90.7 115.9h0M91.5 114.1h0M109.5 138.8h0M103.8 135.2h0M110.3 130.3h0M83.7 121.1h0M98.9 115.1h0M88.6 112.5h0M98.6 125.0h0M71.4 93.7h0M88.8 121.0h0M91.7 111.0h0M97.0 137.0h0M103.6 118.9h0M120.5 127.2h0M84.4 101.7h0M86.3 135.9h0M80.1 97.9h0M103.1 147.0h0M87.9 138.4h0M80.7 103.2h0M88.9 113.9h0M89.7 111.7h0M89.2 139.3h0M103.7 123.8h0M83.9 111.7h0M92.5 122.7h0M91.2 111.3h0M91.4 135.9h0M110.7 133.2h0M102.1 129.6h0M81.7 101.9h0M115.6 126.3h0M113.2 136.7h0M93.0 134.7h0M89.0 123.1h0M90.4 133.6h0M89.6 140.6h0M99.4 113.8h0M109.8 126.6h0M101.8 118.5h0M89.0 119.1h0M117.9 130.0h0M96.9 130.8h0M111.3 137.4h0M71.2 87.3h0M105.8 131.1h0M102.9 139.5h0M116.5 138.6h0M84.1 121.2h0M110.8 125.8h0M116.4 136.0h0M80.5 99.3h0" stroke="#8b7f8e" stroke-width="1.1" stroke-linecap="square" fill="none"/><path d="M117.5 102.7h0M113.1 66.3h0M104.8 95.7h0M93.4 79.9h0M98.9 110.4h0M125.0 74.6h0M107.1 99.5h0M113.2 134.5h0M89.0 82.1h0M105.5 112.0h0M120.9 101.9h0M118.9 120.3h0M93.6 100.6h0M116.3 127.1h0M123.2 121.8h0M68.4 88.8h0M89.4 68.0h0M94.3 100.7h0M123.8 82.3h0M114.0 98.0h0M113.7 140.0h0M97.1 58.7h0M128.7 107.0h0M97.3 95.6h0M93.3 83.8h0M99.0 95.0h0M114.1 113.6h0M116.1 66.6h0M123.7 113.4h0M93.4 89.6h0M96.3 96.5h0M96.1 98.4h0M96.9 68.4h0M129.0 116.7h0M109.4 101.1h0M103.3 72.2h0M86.4 70.8h0M122.5 66.4h0M117.2 88.9h0M125.3 114.1h0M98.5 103.2h0M100.7 64.2h0M116.1 90.4h0M92.4 99.2h0M117.4 118.6h0M89.7 84.7h0M113.8 105.1h0M124.7 96.0h0M86.5 62.6h0M111.5 77.4h0M107.2 98.1h0M92.4 126.3h0M115.8 63.7h0M91.0 68.8h0M100.8 82.1h0M113.8 107.1h0M90.8 88.2h0M117.3 100.6h0M98.3 96.9h0M93.2 76.7h0M89.4 91.6h0M126.0 94.5h0M118.8 66.3h0M108.4 84.5h0M88.5 69.4h0M92.2 83.4h0M116.6 106.1h0M106.2 128.2h0M114.4 71.3h0M100.7 101.9h0M107.3 61.2h0M120.2 97.6h0M122.3 100.1h0M108.9 77.8h0M117.5 93.3h0M92.8 70.8h0M118.8 113.4h0M95.4 62.1h0M90.3 108.0h0M101.8 81.1h0M102.4 125.7h0M126.3 103.9h0M107.8 63.3h0M100.7 64.1h0M122.4 109.6h0M115.9 121.4h0M107.7 98.2h0M128.7 88.9h0M105.7 65.0h0M118.9 72.1h0M121.9 112.5h0M104.3 110.0h0M106.6 64.2h0M118.3 100.4h0M95.7 82.4h0M95.1 104.6h0M103.8 88.3h0M63.4 90.2h0M92.9 71.7h0M106.6 107.3h0M93.9 97.9h0M88.4 74.6h0M61.4 87.3h0M105.1 103.2h0M114.7 96.2h0M103.4 63.5h0M98.4 96.1h0M120.8 118.2h0M111.6 80.2h0M87.5 66.0h0M104.8 76.5h0M116.3 101.4h0M124.8 72.6h0M125.9 102.5h0M116.7 108.3h0M110.2 104.3h0M102.0 110.1h0M118.0 100.9h0M121.4 121.1h0M112.3 76.9h0M73.0 107.3h0M86.5 86.0h0M130.7 106.0h0M107.7 94.7h0M108.1 74.7h0M85.5 64.3h0M112.0 113.9h0M124.0 69.3h0M110.4 72.7h0M129.3 107.5h0M123.3 92.3h0M102.8 106.1h0M122.2 94.1h0M110.2 115.8h0M127.7 75.7h0M89.4 73.0h0M111.8 72.9h0M102.1 111.5h0M87.2 72.5h0M125.8 98.4h0M85.8 73.6h0M93.4 79.2h0M105.1 87.9h0M89.2 85.3h0M118.2 105.1h0M112.0 89.4h0M84.7 82.4h0M122.4 117.2h0M93.4 109.9h0M121.2 116.0h0M93.0 66.2h0M92.5 99.5h0M91.5 86.1h0M112.8 116.9h0M102.4 77.1h0" stroke="#1d5f5e" stroke-width="1.1" stroke-linecap="square" fill="none"/><path d="M119.3 39.3h0M99.9 68.5h0M114.4 87.0h0M126.1 65.2h0M114.0 53.8h0M115.3 73.1h0M126.4 33.8h0M124.9 33.9h0M118.6 37.8h0M126.4 64.1h0M115.1 70.1h0M129.9 47.2h0M123.1 33.6h0M128.3 34.9h0M121.5 76.2h0M129.1 73.1h0M111.8 49.4h0M116.7 92.7h0M115.6 74.8h0M129.3 46.2h0M125.7 34.1h0M99.2 75.0h0M132.2 41.3h0M104.5 47.1h0M115.1 79.7h0M131.6 40.1h0M98.9 69.5h0M118.8 82.4h0M120.3 56.2h0M106.1 84.1h0M108.0 96.8h0M96.8 70.9h0M103.6 90.7h0M115.6 87.8h0M125.0 32.4h0M107.6 46.9h0M125.4 73.7h0M111.0 52.3h0M129.3 75.1h0M101.3 71.2h0M127.2 62.6h0M108.1 75.0h0M99.0 75.6h0M127.8 75.1h0M116.3 70.4h0M96.9 76.2h0M110.9 79.2h0M94.9 75.5h0M108.1 47.6h0M103.5 78.7h0M127.2 54.5h0M124.9 62.8h0M101.9 82.1h0M119.5 35.9h0M130.8 38.4h0" stroke="#2b2e80" stroke-width="1.1" stroke-linecap="square" fill="none"/><path d="M68.7 59.3h0M68.4 76.6h0M87.5 59.6h0M83.3 68.6h0M85.2 62.4h0M83.1 51.1h0M66.9 50.3h0M70.0 55.1h0M73.1 52.1h0M75.1 79.3h0M83.8 47.5h0M70.8 67.0h0M72.7 68.2h0M71.6 77.9h0M74.3 65.9h0M72.0 71.3h0M76.2 50.4h0M83.3 58.8h0M96.5 50.6h0M65.9 63.5h0M79.0 55.9h0M102.5 46.6h0M71.6 72.9h0M86.0 48.7h0M75.1 66.5h0M79.2 51.8h0M67.1 67.2h0M67.5 61.2h0M85.0 56.5h0M68.4 59.5h0M87.6 64.9h0M74.2 79.8h0M74.2 48.7h0M80.4 54.0h0M102.1 46.7h0M73.2 69.9h0M87.1 58.3h0M73.3 54.3h0M90.0 53.6h0M86.7 54.8h0M66.2 66.7h0M83.0 56.3h0M97.1 45.3h0M72.7 73.6h0M79.1 76.8h0M82.8 69.0h0M74.4 78.2h0M83.8 51.8h0M88.3 51.7h0M67.1 54.4h0M76.9 54.5h0M67.4 64.2h0M74.6 58.3h0" stroke="#5d9db2" stroke-width="1.1" stroke-linecap="square" fill="none"/><path d="M89.2 141.4h0M49.9 94.0h0M61.9 103.9h0M50.8 80.5h0M81.3 131.0h0M36.3 94.3h0M35.2 78.1h0M73.8 119.7h0M33.1 89.6h0M44.6 112.3h0M108.1 125.9h0M44.3 114.8h0M58.4 113.2h0M65.8 113.0h0M39.9 100.0h0M57.6 118.7h0M50.6 118.7h0M46.8 76.1h0M57.2 85.7h0M66.9 119.5h0M39.5 72.9h0M63.4 119.1h0M36.6 111.4h0M50.5 105.1h0M63.5 96.0h0M44.9 86.4h0M68.3 106.8h0M48.7 112.3h0M28.1 86.8h0M65.9 109.7h0M71.5 125.8h0M99.0 101.2h0M51.0 120.3h0M66.1 129.8h0M36.4 77.4h0M78.2 128.2h0M48.0 83.0h0M39.6 76.0h0M45.0 104.0h0M47.6 90.6h0M50.4 103.1h0M57.0 114.7h0M42.7 95.4h0M60.6 114.2h0M57.4 114.0h0M58.1 100.3h0M59.1 110.3h0M36.8 72.8h0M46.6 73.3h0M44.9 70.0h0M99.3 116.6h0M45.8 103.9h0M76.2 113.0h0M44.9 114.5h0M30.4 78.6h0M29.5 76.9h0M42.8 71.5h0M38.6 88.5h0M43.1 94.7h0M84.4 132.3h0M55.5 118.4h0M65.7 117.1h0M56.1 92.3h0M33.6 105.1h0M97.4 72.8h0M44.0 76.9h0M83.7 133.6h0M46.1 115.8h0M60.9 111.3h0M35.0 106.2h0M48.8 104.6h0M39.9 87.9h0M79.9 116.9h0M75.1 120.9h0M65.8 105.0h0M36.9 91.0h0M60.1 102.3h0M74.3 130.0h0M74.1 127.6h0M28.5 83.0h0M51.4 116.1h0M59.8 105.6h0M34.9 90.7h0M84.2 88.5h0M64.1 123.9h0M33.9 100.6h0M87.5 142.8h0M65.7 122.8h0M49.8 76.2h0M55.9 87.2h0M60.8 125.6h0M64.8 112.3h0M64.4 112.8h0M42.2 95.3h0M36.5 71.5h0M49.9 111.3h0M60.6 123.6h0M61.3 109.0h0M47.7 80.8h0M34.6 93.9h0M66.0 121.2h0M52.0 108.7h0M41.5 85.3h0M68.6 104.7h0M53.9 85.0h0M78.7 128.2h0M44.8 77.9h0M38.8 73.3h0M32.4 91.1h0M49.6 111.7h0M58.5 96.8h0M42.6 87.8h0M43.3 85.9h0M73.1 120.2h0M80.7 134.1h0M70.2 118.2h0M44.6 93.6h0M56.7 90.1h0M53.3 113.2h0M47.4 84.7h0M36.6 79.8h0M36.0 105.3h0M67.6 124.7h0M87.6 71.1h0M54.8 99.4h0M41.8 84.7h0M40.9 73.8h0M46.3 74.0h0M73.3 124.5h0M42.0 102.9h0M99.3 74.9h0M73.3 131.2h0M62.1 103.3h0M85.4 98.0h0M37.8 115.7h0M57.3 117.7h0M60.9 100.9h0M59.7 103.1h0M77.2 128.8h0M60.5 103.5h0M34.1 85.8h0M52.1 104.8h0M78.0 132.1h0M46.9 103.6h0M56.8 114.9h0M56.1 104.8h0M35.1 107.8h0M78.6 125.2h0M39.9 113.6h0M64.8 104.5h0M37.7 103.7h0M43.8 98.7h0" stroke="#a1161c" stroke-width="1.1" stroke-linecap="square" fill="none"/><path d="M100.6 147.1h0M91.0 117.6h0M101.7 143.3h0M106.1 119.9h0M95.3 135.5h0M104.3 131.5h0M84.8 99.0h0M110.0 139.8h0M88.3 136.8h0M104.2 130.0h0M102.6 116.4h0M98.2 115.9h0M120.9 125.8h0M91.3 109.1h0M87.9 129.2h0M91.1 126.2h0M85.7 129.5h0M108.8 131.4h0M82.4 117.5h0M103.7 115.0h0M97.1 120.6h0M84.9 117.5h0M104.6 134.6h0M104.6 144.8h0M89.6 103.0h0M86.1 135.2h0M99.7 148.0h0M98.8 128.7h0M105.5 122.8h0M108.4 137.4h0M85.0 98.0h0M82.7 121.1h0M87.3 117.1h0M119.8 134.3h0M96.8 142.2h0M94.9 112.5h0M102.9 142.7h0M117.0 138.1h0M99.9 147.3h0M118.8 125.5h0M105.2 140.5h0M98.3 116.2h0M92.6 111.3h0M97.2 116.9h0M99.3 119.0h0M94.8 121.4h0M106.2 125.4h0M103.9 121.0h0M98.4 118.4h0M102.8 125.6h0M93.6 138.8h0M92.0 123.7h0M93.0 118.0h0M87.7 137.8h0M93.4 141.8h0M70.3 85.7h0M83.3 125.0h0M101.8 126.2h0M81.4 107.4h0M98.0 120.1h0M95.8 111.0h0M82.5 106.3h0M114.1 136.8h0M122.0 125.2h0M100.8 124.0h0M100.8 119.0h0M85.2 113.0h0M106.4 133.1h0M95.1 126.6h0M86.4 114.4h0M113.1 143.9h0M81.1 124.1h0M103.5 143.2h0M114.8 139.6h0M103.1 144.0h0M111.9 136.6h0M83.2 102.9h0M82.9 117.5h0" stroke="#8b7f8e" stroke-width="1.1" stroke-linecap="square" fill="none"/><path d="M91.6 82.7h0M112.1 60.0h0M98.9 101.7h0M103.3 104.2h0M126.2 101.7h0M105.5 101.4h0M93.3 76.3h0M116.8 104.1h0M125.7 108.7h0M106.5 90.9h0M98.8 72.6h0M88.0 73.6h0M112.7 120.4h0M112.8 108.6h0M95.1 82.9h0M112.2 121.8h0M97.5 87.0h0M86.2 72.9h0M114.6 67.5h0M124.1 95.9h0M103.8 85.9h0M80.8 69.9h0M110.3 68.4h0M112.7 85.7h0M104.1 101.1h0M99.2 67.8h0M85.8 92.7h0M109.3 94.9h0M117.8 116.0h0M114.0 97.5h0M91.1 94.0h0M117.9 95.0h0M102.2 108.2h0M113.1 87.3h0M90.3 85.3h0M99.9 112.1h0M131.0 89.2h0M111.0 118.3h0M124.2 117.8h0M129.5 78.7h0M121.0 88.0h0M121.0 123.0h0M123.2 113.7h0M106.9 102.2h0M99.4 106.2h0M100.2 109.1h0M126.2 116.6h0M79.4 92.2h0M115.7 112.3h0M93.6 80.4h0M89.9 100.0h0M122.3 72.1h0M118.9 83.4h0M89.1 77.6h0M69.7 81.7h0M90.6 88.8h0M86.7 95.0h0M124.8 112.1h0M104.6 92.8h0M112.3 114.6h0M90.2 67.8h0M119.8 103.9h0M65.7 101.3h0M123.8 74.6h0M123.7 75.5h0M104.3 71.7h0M126.3 82.4h0M119.0 120.9h0M113.6 60.5h0M103.4 142.6h0M101.4 105.4h0M113.2 99.9h0M94.8 101.1h0M81.7 80.0h0M106.8 109.9h0M102.2 107.6h0M100.6 89.7h0M96.0 103.9h0M95.6 83.6h0M114.7 84.5h0M93.9 93.1h0M83.3 69.3h0M123.4 112.6h0M110.8 99.3h0M122.3 105.8h0M123.7 79.9h0M114.3 83.5h0M96.6 93.5h0M122.3 92.7h0M108.1 89.7h0M82.3 72.1h0M95.0 103.4h0M116.0 89.1h0M119.8 117.3h0M103.0 68.4h0M98.9 107.7h0M105.8 116.1h0M88.8 91.3h0M93.3 68.6h0M112.1 115.5h0M108.6 104.2h0M95.7 89.1h0M112.7 106.3h0M114.0 134.0h0M115.8 75.9h0M129.5 105.7h0M106.6 79.2h0M109.2 107.6h0M117.2 118.2h0M113.9 89.8h0M93.5 60.2h0M118.9 97.9h0M100.4 91.6h0M128.3 85.8h0M97.3 96.8h0M86.7 119.7h0M116.3 97.0h0M108.9 96.3h0M123.8 84.6h0M109.3 109.3h0M96.7 62.3h0M87.2 66.3h0M117.0 104.3h0M93.8 62.9h0M94.3 78.6h0M124.0 75.3h0M112.4 81.2h0M89.8 67.9h0M106.6 110.7h0M107.2 93.3h0M128.6 98.2h0M87.7 97.7h0M104.8 105.3h0M91.6 78.9h0M111.5 113.0h0M93.1 94.0h0M123.0 103.9h0M108.4 103.4h0M115.7 66.1h0M117.5 74.6h0M115.2 97.6h0M93.0 89.6h0M104.7 65.8h0M123.0 70.7h0M100.4 104.8h0M92.8 75.0h0M93.7 65.6h0M89.4 63.2h0M109.8 116.1h0M131.4 107.7h0M126.4 90.9h0M112.8 74.5h0M123.2 84.5h0M123.8 103.5h0M117.8 115.0h0M70.0 92.1h0M132.0 108.2h0M123.0 101.4h0M113.3 93.3h0M85.1 83.0h0M120.8 83.7h0M98.2 62.8h0M124.7 102.8h0M107.1 105.5h0M131.1 95.6h0M125.4 104.9h0M90.1 114.6h0M121.7 112.3h0M116.4 127.5h0M96.8 93.0h0M106.3 92.2h0M116.8 114.5h0M94.2 61.3h0M91.3 100.2h0M119.0 70.2h0M116.2 117.3h0M97.0 92.6h0M122.9 104.9h0M119.0 86.1h0" stroke="#1d5f5e" stroke-width="1.1" stroke-linecap="square" fill="none"/><path d="M102.7 77.9h0M130.0 42.9h0M114.2 82.7h0M104.1 84.5h0M120.3 36.6h0M100.6 72.1h0M110.3 46.3h0M125.0 70.9h0M98.9 77.4h0M101.1 68.0h0M130.5 35.6h0M129.2 36.7h0M125.3 59.3h0M101.4 89.0h0M132.1 39.5h0M96.3 66.3h0M107.6 80.7h0M120.9 74.7h0M94.2 69.5h0M107.1 75.5h0M106.7 84.6h0M119.6 72.3h0M130.1 50.2h0M116.0 80.0h0M115.9 94.5h0M126.2 54.8h0M117.6 85.9h0M107.2 95.5h0M118.1 45.4h0M130.8 34.8h0M123.7 60.2h0M130.7 36.3h0M119.0 52.6h0M130.0 47.0h0M116.9 50.3h0M103.9 71.3h0M106.0 47.8h0M107.8 48.2h0M129.4 74.9h0M116.5 89.9h0M120.3 77.7h0M118.3 36.8h0M125.2 61.6h0M114.8 92.7h0M131.0 34.7h0M120.0 37.0h0M115.3 91.4h0M108.3 72.1h0" stroke="#2b2e80" stroke-width="1.1" stroke-linecap="square" fill="none"/><path d="M62.6 71.6h0M79.6 56.1h0M84.9 50.7h0M67.9 58.7h0M83.1 56.9h0M63.1 69.7h0M71.0 57.3h0M92.3 52.4h0M91.4 58.3h0M70.6 58.4h0M86.2 48.9h0M79.1 59.7h0M93.8 44.4h0M80.6 75.3h0M67.0 75.6h0M86.0 57.5h0M72.3 54.7h0M97.3 44.6h0M83.6 54.4h0M78.6 63.1h0M99.7 51.6h0M74.8 82.8h0M71.1 81.2h0M68.7 71.9h0M66.8 56.2h0M89.1 56.2h0M62.4 66.0h0M65.8 73.7h0M81.9 58.7h0M66.0 74.1h0M96.2 53.7h0M78.7 62.3h0M80.8 51.6h0M83.1 66.4h0M81.1 56.1h0M80.2 64.6h0M70.5 54.1h0M76.8 70.0h0M65.0 73.9h0M98.7 54.6h0M73.2 80.0h0M89.0 57.2h0M98.6 45.0h0M91.7 45.9h0M74.2 52.6h0M68.6 73.1h0M77.4 66.2h0M86.6 63.6h0M83.7 59.9h0M90.4 66.2h0M69.6 63.1h0M82.6 65.0h0M71.7 51.1h0M64.6 64.2h0M66.2 71.9h0M95.3 52.2h0M67.2 58.1h0M94.4 52.1h0" stroke="#5d9db2" stroke-width="1.1" stroke-linecap="square" fill="none"/><path d="M37.9 88.0h0M76.5 127.5h0M61.6 95.0h0M64.5 120.1h0M49.0 101.0h0M74.8 122.6h0M57.8 100.7h0M40.2 92.6h0M40.7 71.0h0M102.0 134.4h0M65.4 112.0h0M56.1 87.6h0M47.5 78.5h0M46.9 86.1h0M48.8 104.7h0M51.1 87.1h0M107.2 105.4h0M55.8 91.8h0M76.7 118.1h0M59.2 124.7h0M41.2 106.5h0M55.8 118.9h0M61.2 121.3h0M56.3 111.5h0M43.4 84.1h0M72.8 92.3h0M63.3 100.0h0M79.0 131.9h0M54.0 93.7h0M33.5 106.7h0M50.7 89.6h0M87.5 78.5h0M77.2 122.9h0M45.2 107.3h0M90.6 142.8h0M76.4 124.6h0M69.0 100.2h0M46.9 118.1h0M36.8 89.2h0M100.1 120.0h0M40.5 104.5h0M37.1 108.8h0M46.1 99.6h0M52.4 104.7h0M50.6 101.9h0M42.6 79.6h0M98.0 107.6h0M32.7 79.2h0M46.6 117.8h0M57.1 104.3h0M48.0 121.2h0M40.6 114.2h0M65.9 120.9h0M41.1 83.8h0M48.0 104.8h0M82.0 124.5h0M40.8 95.3h0M101.1 107.4h0M59.4 126.4h0M49.9 121.1h0M55.8 77.8h0M38.0 75.0h0M36.9 73.4h0M72.0 123.8h0M73.9 124.3h0M36.1 84.0h0M59.9 99.9h0M48.6 92.6h0M56.9 125.7h0M52.0 84.8h0M45.0 104.9h0M30.8 73.4h0M59.2 120.0h0M55.0 93.7h0M59.0 105.1h0M59.7 113.0h0M36.5 91.5h0M50.3 93.2h0M60.6 114.2h0M52.8 80.6h0M34.5 99.1h0M44.2 114.2h0M110.9 143.5h0M44.5 107.4h0M47.0 116.7h0M37.6 75.8h0M39.1 76.4h0M29.4 98.9h0M47.5 101.6h0M54.0 105.5h0M35.9 93.7h0M51.5 96.0h0M32.8 90.4h0M41.3 109.7h0M55.2 84.6h0M66.0 103.8h0M50.3 110.1h0M51.9 86.1h0M51.7 97.5h0M41.8 99.9h0M72.6 119.1h0M56.7 90.7h0M41.0 105.7h0M74.8 119.2h0M45.3 80.6h0M29.8 75.4h0M55.0 123.2h0M37.9 76.5h0M31.9 89.2h0M54.7 86.9h0M41.5 97.0h0M38.7 95.4h0M48.3 88.9h0M78.3 122.1h0M78.8 113.1h0M49.6 124.8h0M106.8 77.8h0M32.5 91.7h0M59.0 111.1h0M51.8 112.2h0M30.2 77.6h0M58.3 127.5h0M38.0 101.9h0M57.2 104.0h0M90.9 143.6h0M71.3 111.1h0M55.5 84.0h0M45.3 95.7h0M35.5 90.1h0M49.1 104.1h0M60.6 109.6h0M40.4 99.9h0M74.0 123.4h0M64.8 113.6h0M73.6 83.1h0M76.7 113.8h0M60.3 124.1h0" stroke="#a1161c" stroke-width="1.1" stroke-linecap="square" fill="none"/><path d="M86.6 134.7h0M94.6 117.7h0M105.0 128.2h0M88.6 115.9h0M95.5 116.8h0M91.1 130.8h0M91.9 143.5h0M103.4 122.9h0M109.8 141.1h0M98.3 111.3h0M87.6 120.5h0M103.7 138.8h0M90.4 140.8h0M109.2 137.4h0M89.6 139.4h0M92.5 140.1h0M92.1 124.6h0M88.0 122.6h0M112.7 125.6h0M88.7 129.4h0M102.9 135.9h0M96.8 146.3h0M116.4 125.4h0M109.7 135.7h0M88.6 107.3h0M106.9 129.8h0M93.2 138.0h0M82.0 108.0h0M90.4 124.8h0M102.8 136.7h0M80.5 110.0h0M120.0 123.0h0M91.8 109.7h0M82.3 112.2h0M101.8 125.1h0M109.3 120.2h0M81.8 110.9h0M110.3 124.8h0M111.8 133.0h0M71.0 101.6h0M83.0 124.4h0M106.8 145.0h0M113.7 137.7h0M90.6 138.2h0M80.6 101.3h0M96.2 148.4h0M112.5 128.0h0M111.3 139.6h0M80.1 101.5h0M107.1 127.4h0M88.6 106.3h0M98.4 117.5h0M88.0 137.0h0M86.5 105.6h0M111.6 123.4h0M118.1 133.3h0M102.1 116.7h0M98.4 149.2h0M85.1 114.6h0M88.3 138.1h0M99.9 148.2h0M106.8 122.0h0M99.3 126.3h0M104.9 122.1h0M121.1 124.1h0M71.1 86.4h0M84.2 132.4h0M81.7 118.5h0M104.3 132.4h0M90.6 134.2h0M82.0 112.9h0M88.3 113.1h0M102.4 147.4h0M95.5 139.7h0M107.6 119.6h0M88.0 134.3h0M85.5 107.1h0M89.1 122.3h0M87.1 130.8h0M89.7 129.3h0" stroke="#8b7f8e" stroke-width="1.1" stroke-linecap="square" fill="none"/><path d="M106.8 107.0h0M106.9 69.1h0M127.0 81.4h0M94.7 100.3h0M110.0 110.0h0M127.1 83.3h0M81.9 117.6h0M103.2 86.3h0M103.8 73.5h0M92.6 73.6h0M103.3 75.9h0M117.6 68.7h0M121.0 115.2h0M114.7 122.0h0M126.9 87.9h0M120.0 116.3h0M81.5 106.1h0M106.8 97.4h0M100.9 95.3h0M108.8 60.2h0M91.6 85.9h0M93.3 66.7h0M100.8 102.1h0M90.5 79.6h0M93.6 79.3h0M101.2 99.7h0M120.4 113.7h0M92.7 68.7h0M105.9 76.6h0M101.9 105.2h0M115.3 85.4h0M100.8 102.2h0M115.6 86.3h0M118.5 113.9h0M122.0 109.7h0M121.2 68.5h0M108.3 104.9h0M58.4 78.3h0M123.1 99.8h0M119.2 103.4h0M120.4 87.2h0M89.9 87.1h0M122.8 120.1h0M129.8 94.0h0M125.2 105.0h0M123.3 113.0h0M98.0 140.7h0M96.7 85.0h0M118.3 102.7h0M86.3 69.3h0M56.5 74.0h0M90.9 73.4h0M90.9 92.4h0M94.7 84.3h0M90.0 100.9h0M108.0 129.3h0M91.0 88.3h0M98.5 98.5h0M105.1 103.6h0M95.4 94.1h0M99.9 83.2h0M90.5 94.5h0M94.0 98.9h0M92.2 89.3h0M96.6 104.8h0M85.5 67.9h0M117.6 99.1h0M119.9 103.5h0M109.8 119.0h0M100.3 92.5h0M117.1 109.4h0M98.4 74.1h0M101.8 98.5h0M113.1 108.7h0M103.4 82.1h0M99.4 100.3h0M120.2 114.2h0M80.8 100.3h0M122.9 115.1h0M90.6 75.5h0M90.0 84.3h0M91.8 86.1h0M127.9 89.4h0M124.6 119.4h0M109.6 104.8h0M114.1 99.2h0M100.9 76.4h0M97.3 71.4h0M67.4 80.6h0M121.6 108.6h0M130.0 90.0h0M126.3 68.3h0M92.7 98.4h0M100.7 104.9h0M118.3 68.2h0M101.8 88.3h0M123.5 103.7h0M114.7 125.6h0M97.6 103.2h0M118.3 111.3h0M123.5 99.0h0M109.7 78.3h0M114.4 143.3h0M114.3 117.2h0M94.1 109.3h0M118.2 74.8h0M111.1 78.4h0M94.2 89.2h0M125.0 92.9h0M92.0 63.3h0M87.0 94.6h0M120.5 101.5h0M100.9 145.3h0M87.4 87.5h0M92.6 76.9h0M122.7 109.5h0M87.8 91.1h0M107.6 66.9h0M95.3 74.1h0M117.5 81.1h0M91.7 61.7h0M117.6 100.9h0M123.9 86.4h0M114.0 95.7h0M109.6 109.2h0M65.0 96.9h0M111.0 110.7h0M91.9 76.9h0M81.8 105.5h0M127.3 103.0h0M127.2 86.5h0M108.2 71.6h0M106.5 64.1h0M98.6 108.5h0M86.8 80.9h0M85.7 83.6h0M89.1 88.0h0M131.3 90.9h0M98.6 108.4h0M107.8 62.6h0M118.3 81.7h0M83.8 76.6h0M116.3 118.3h0M118.9 109.4h0M127.2 99.2h0M115.9 118.2h0M112.0 98.8h0M90.5 90.6h0M101.0 103.7h0M119.6 101.0h0M125.5 102.6h0M114.7 121.9h0M86.5 134.3h0M98.0 102.9h0M100.6 86.2h0M100.3 81.6h0M110.7 93.5h0M90.1 97.4h0M91.7 68.3h0M117.4 122.9h0M94.7 131.4h0M119.2 76.8h0M84.1 113.9h0M116.8 74.8h0M115.6 112.2h0M127.5 88.8h0M91.9 67.7h0M113.4 98.7h0M132.0 92.8h0M108.6 99.3h0M89.5 70.9h0M83.2 73.2h0M120.9 106.0h0M97.9 99.2h0M119.6 96.0h0M127.3 84.3h0M133.1 100.1h0M117.7 84.2h0M93.0 93.3h0M102.9 80.1h0M83.8 67.8h0M122.2 88.9h0M122.6 104.5h0M110.4 112.6h0" stroke="#1d5f5e" stroke-width="1.1" stroke-linecap="square" fill="none"/><path d="M121.7 35.5h0M132.8 40.8h0M103.9 72.0h0M107.6 64.4h0M122.8 87.7h0M117.1 38.2h0M103.2 84.9h0M126.8 34.6h0M123.6 33.0h0M125.9 68.9h0M129.9 34.3h0M94.1 70.3h0M120.4 73.9h0M127.5 65.5h0M104.5 78.2h0M114.7 72.4h0M111.3 95.8h0M118.7 42.0h0M126.9 48.5h0M116.5 42.7h0M130.0 41.9h0M105.8 51.0h0M127.6 49.5h0M132.2 46.7h0M99.2 63.3h0M97.9 79.3h0M128.1 49.4h0M125.6 60.2h0M128.6 64.4h0M107.6 53.5h0M131.0 45.1h0M108.1 89.4h0M104.1 80.3h0M119.5 37.7h0M129.0 61.7h0M129.0 33.4h0M118.1 53.4h0M122.7 61.0h0" stroke="#2b2e80" stroke-width="1.1" stroke-linecap="square" fill="none"/><path d="M77.6 59.0h0M71.5 75.6h0M87.7 53.3h0M70.1 68.9h0M62.9 68.2h0M73.2 54.0h0M84.6 56.8h0M88.3 59.6h0M62.0 63.7h0M81.6 74.0h0M72.2 65.8h0M85.3 50.8h0M71.0 75.7h0M75.5 73.2h0M77.9 61.2h0M74.5 75.3h0M80.1 65.3h0M83.3 55.7h0M90.7 46.4h0M95.8 51.7h0M96.1 57.1h0M96.2 51.0h0M86.9 67.3h0M100.8 49.5h0M78.4 71.3h0M65.6 61.4h0M68.2 60.7h0M88.7 64.9h0M73.6 56.4h0M76.4 68.1h0M78.8 66.7h0M82.9 64.2h0M70.4 71.0h0M74.9 73.9h0M86.1 62.5h0M76.6 55.9h0M66.6 75.1h0M69.4 67.9h0M90.7 51.8h0M85.0 52.0h0M83.4 48.3h0M103.9 48.6h0M91.6 48.7h0M68.2 52.0h0M76.9 68.1h0M84.7 59.9h0M83.5 56.4h0M63.9 66.3h0M93.7 55.5h0M66.6 56.3h0M97.7 48.3h0M90.0 44.7h0M86.0 49.5h0M90.8 52.6h0M75.4 60.5h0" stroke="#5d9db2" stroke-width="1.1" stroke-linecap="square" fill="none"/><path d="M46.6 104.0h0M43.2 82.5h0M78.7 82.1h0M64.7 124.2h0M44.7 71.4h0M52.5 101.4h0M45.4 105.5h0M54.1 122.0h0M41.2 85.1h0M58.4 84.9h0M43.3 79.6h0M37.2 97.5h0M48.6 121.5h0M47.3 113.3h0M37.9 89.3h0M43.9 103.9h0M57.6 79.7h0M68.3 120.3h0M45.5 111.1h0M67.2 116.3h0M60.4 104.3h0M42.7 105.1h0M41.4 79.4h0M64.0 111.8h0M100.6 118.4h0M63.1 114.4h0M45.3 95.3h0M87.0 126.1h0M50.4 102.6h0M34.1 78.5h0M44.0 72.6h0M34.2 108.9h0M39.4 98.4h0M34.4 87.5h0M50.9 117.1h0M37.2 83.5h0M45.8 83.2h0M50.1 111.5h0M52.4 121.2h0M73.5 119.0h0M56.1 95.4h0M64.1 104.7h0M48.1 88.1h0M70.8 131.4h0M60.5 105.3h0M66.9 115.9h0M45.4 118.9h0M74.6 118.2h0M31.8 70.1h0M53.4 125.0h0M42.1 70.4h0M40.8 76.6h0M38.5 80.5h0M55.4 102.8h0M50.8 95.9h0M32.0 93.2h0M53.9 112.6h0M47.8 122.1h0M71.4 122.1h0M71.0 119.9h0M76.5 128.5h0M33.3 99.3h0M58.7 91.9h0M82.9 135.6h0M100.2 77.1h0M60.2 99.0h0M98.4 148.5h0M30.2 90.2h0M58.6 119.4h0M41.9 78.5h0M41.6 101.8h0M81.6 91.3h0M64.0 121.3h0M34.3 75.3h0M38.8 70.3h0M46.8 104.6h0M36.5 110.4h0M55.1 122.1h0M52.2 87.9h0M32.8 101.4h0M91.2 130.0h0M83.1 136.8h0M52.0 120.7h0M63.1 114.6h0M35.5 69.5h0M50.1 122.4h0M54.6 99.9h0M56.1 76.4h0M32.8 74.4h0M40.5 85.5h0M40.3 105.5h0M39.2 79.2h0M36.2 96.3h0M55.2 96.8h0M56.2 107.2h0M50.6 119.3h0M54.2 121.0h0M75.3 118.3h0M66.5 116.6h0M75.7 110.8h0M53.1 99.1h0M90.3 101.0h0M63.5 120.0h0M54.7 89.8h0M50.2 118.9h0M36.8 84.8h0M83.8 127.5h0M49.0 93.6h0M34.4 102.1h0M30.1 100.6h0M54.3 111.6h0M69.7 122.0h0M50.5 92.7h0M40.1 95.9h0M72.6 119.6h0M67.4 126.6h0M66.5 108.2h0M70.5 114.8h0M47.4 98.9h0M45.0 90.8h0M65.0 106.4h0M45.5 92.1h0M94.1 75.0h0M33.5 101.5h0M30.3 80.2h0M52.5 104.2h0M73.6 133.9h0M92.6 140.6h0M41.4 115.9h0M59.6 101.4h0M42.2 87.9h0M102.7 134.9h0M81.6 129.9h0M54.6 89.1h0M42.5 88.6h0M80.6 139.1h0M84.7 73.0h0M70.6 130.2h0M31.6 93.8h0M56.6 98.5h0M38.0 88.2h0M34.5 100.4h0M39.8 87.3h0" stroke="#a1161c" stroke-width="1.1" stroke-linecap="square" fill="none"/><path d="M93.9 125.1h0M84.9 99.1h0M101.9 142.0h0M85.3 136.4h0M82.8 118.5h0M108.6 141.8h0M116.3 131.0h0M110.7 125.9h0M116.2 121.6h0M93.7 115.4h0M93.1 145.2h0M82.0 106.1h0M84.4 104.7h0M73.2 95.9h0M88.1 138.0h0M86.2 109.7h0M98.6 122.1h0M87.5 114.6h0M99.3 125.6h0M112.9 124.1h0M82.6 127.7h0M110.9 128.8h0M124.1 125.9h0M107.5 124.9h0M79.5 100.6h0M86.2 105.3h0M93.0 125.3h0M83.6 115.0h0M86.4 99.4h0M97.2 138.8h0M95.6 121.3h0M106.1 121.8h0M86.4 99.0h0M108.1 129.4h0M97.2 144.6h0M105.2 134.8h0M88.6 130.2h0M118.4 131.8h0M109.0 131.9h0M87.5 113.4h0M114.7 142.2h0M80.8 122.5h0M97.8 117.2h0M107.8 128.8h0M111.4 137.4h0M114.8 135.7h0M91.6 111.4h0M94.1 133.0h0M111.1 140.0h0M100.8 122.9h0M117.5 129.1h0M77.4 95.2h0M91.3 115.0h0M103.1 127.1h0M98.7 123.2h0M85.7 138.3h0M100.4 119.4h0M105.8 144.3h0M90.1 135.7h0M67.1 91.8h0M96.6 130.7h0M95.6 147.3h0M93.8 142.0h0M88.7 109.9h0M87.0 135.7h0M84.4 122.9h0M102.1 132.7h0M111.4 126.6h0M83.5 111.3h0M90.9 130.6h0M101.4 138.4h0M114.9 141.0h0M100.1 119.7h0" stroke="#8b7f8e" stroke-width="1.1" stroke-linecap="square" fill="none"/><path d="M89.4 117.7h0M88.9 77.6h0M119.4 80.5h0M104.8 104.5h0M113.2 102.2h0M126.9 95.0h0M111.8 102.0h0M115.3 75.8h0M125.8 88.3h0M85.4 67.0h0M101.4 147.7h0M112.9 64.8h0M126.1 103.0h0M126.4 78.3h0M111.5 62.5h0M117.0 64.9h0M85.1 67.4h0M103.0 99.4h0M125.6 88.4h0M107.8 138.5h0M102.7 90.3h0M124.7 113.5h0M105.4 79.6h0M127.9 82.4h0M92.9 75.1h0M125.9 114.0h0M94.0 86.7h0M118.9 99.9h0M115.0 98.1h0M103.9 107.8h0M121.6 71.1h0M90.0 67.6h0M122.1 115.3h0M128.7 95.3h0M106.1 64.3h0M124.3 83.5h0M105.3 62.9h0M97.7 62.3h0M106.0 116.7h0M132.8 104.6h0M93.9 70.6h0M118.5 110.3h0M101.8 95.7h0M118.4 106.7h0M91.6 76.2h0M86.5 110.0h0M117.6 115.6h0M129.9 90.1h0M93.6 77.1h0M124.4 86.4h0M107.6 111.4h0M94.8 99.4h0M125.2 105.5h0M99.4 77.8h0M95.9 99.2h0M102.3 105.0h0M93.6 88.0h0M108.7 64.9h0M128.3 78.1h0M89.2 86.4h0M112.3 116.5h0M100.3 108.9h0M100.4 91.4h0M108.6 98.3h0M99.3 68.6h0M90.5 73.8h0M91.6 75.1h0M99.0 99.7h0M128.1 75.3h0M90.5 89.1h0M124.1 104.6h0M107.7 102.8h0M100.5 95.6h0M124.5 110.9h0M120.4 68.6h0M111.8 89.1h0M98.0 79.8h0M111.0 73.1h0M120.8 92.3h0M126.8 90.9h0M98.1 79.8h0M126.0 77.3h0M108.1 126.7h0M91.3 83.0h0M127.2 85.2h0M108.3 66.5h0M87.9 81.1h0M90.1 66.1h0M113.4 118.0h0M124.9 121.7h0M116.4 67.4h0M101.4 83.6h0M119.4 106.2h0M128.5 105.0h0M106.9 107.8h0M107.0 72.7h0M105.3 63.7h0M109.2 64.0h0M117.7 116.0h0M115.1 118.1h0M93.6 138.2h0M86.2 69.9h0M102.7 110.1h0M105.5 112.6h0M91.9 81.0h0M112.9 113.2h0M96.5 88.3h0M124.8 101.0h0M97.4 99.2h0M84.5 102.7h0M125.0 89.9h0M101.9 71.4h0M127.2 100.6h0M94.4 102.6h0M95.8 124.9h0M110.7 94.8h0M107.2 112.9h0M97.9 99.3h0M116.0 84.5h0M127.8 92.1h0M101.0 94.2h0M86.1 85.6h0M118.7 104.3h0M84.9 72.8h0M123.0 94.9h0M115.4 68.3h0M82.0 68.5h0M96.1 87.4h0M125.2 122.7h0M89.8 98.1h0M117.2 109.1h0M108.3 101.8h0M99.4 92.4h0M110.7 67.6h0M118.7 102.7h0M95.5 76.2h0M126.1 94.1h0M96.9 110.7h0M93.1 62.2h0M115.0 100.4h0M107.8 106.8h0M103.7 87.7h0M82.8 65.9h0M116.0 119.0h0M114.6 123.3h0M98.1 127.8h0M105.0 111.7h0M117.1 73.0h0M114.2 113.2h0M96.7 74.4h0M100.9 97.7h0M124.3 84.7h0M122.6 93.5h0M65.9 94.8h0M115.7 87.9h0M114.9 119.1h0M111.9 93.3h0M120.5 72.5h0M99.0 110.6h0M96.7 70.8h0M90.2 98.9h0M116.4 64.9h0M129.3 87.6h0M121.2 116.6h0M90.7 82.4h0M106.2 106.0h0M115.5 109.2h0M99.3 97.0h0M85.7 69.9h0M106.3 108.1h0M92.1 96.3h0" stroke="#1d5f5e" stroke-width="1.1" stroke-linecap="square" fill="none"/><path d="M126.4 52.1h0M116.6 78.6h0M100.3 80.4h0M121.6 35.1h0M105.8 85.9h0M102.6 91.2h0M97.9 80.5h0M121.4 33.8h0M103.9 64.4h0M108.9 49.4h0M120.7 86.9h0M131.6 43.7h0M125.6 35.7h0M128.3 50.0h0M128.1 72.1h0M119.3 73.7h0M112.6 69.7h0M125.1 68.8h0M126.4 65.1h0M122.0 78.2h0M111.9 70.5h0M113.9 89.0h0M96.1 76.1h0M111.7 94.8h0M117.9 42.2h0M116.7 75.1h0M109.2 46.7h0M132.2 39.1h0M131.3 43.3h0M105.7 92.6h0M115.6 43.5h0M125.2 64.3h0M96.5 76.7h0M129.1 34.6h0M111.4 85.2h0M108.1 88.8h0M126.8 68.6h0M116.5 86.2h0M120.7 35.2h0M128.9 48.3h0M132.2 42.4h0M120.5 57.6h0M131.6 39.5h0M107.1 72.1h0M109.2 72.5h0M100.4 76.3h0M127.0 74.0h0M96.9 74.9h0M131.2 39.0h0M132.2 37.8h0M115.0 49.9h0M119.9 73.4h0M118.5 90.6h0M126.9 60.3h0M122.3 35.1h0M116.1 79.8h0M128.7 52.3h0" stroke="#2b2e80" stroke-width="1.1" stroke-linecap="square" fill="none"/><path d="M83.3 61.5h0M83.7 47.5h0M77.2 72.6h0M83.5 69.3h0M84.1 52.9h0M98.1 46.8h0M73.4 80.9h0M64.9 59.6h0M67.4 66.8h0M70.5 68.0h0M87.3 46.6h0M88.4 51.7h0M82.5 54.1h0M97.2 54.3h0M70.3 71.0h0M71.2 74.1h0M81.6 57.1h0M81.2 68.3h0M82.8 51.6h0M91.9 48.8h0M83.0 54.5h0M76.5 58.7h0M67.2 69.8h0M91.9 52.0h0M70.3 77.4h0M81.5 65.6h0M88.6 49.6h0M70.6 65.4h0M87.7 65.9h0M69.7 71.0h0M69.6 72.8h0M84.3 61.2h0M88.6 56.6h0M71.7 56.6h0M79.0 49.5h0M85.0 48.5h0M88.7 62.5h0M86.9 66.6h0M85.7 63.1h0M80.3 67.4h0M68.9 60.6h0M94.5 51.6h0M68.4 62.7h0M73.5 76.4h0M76.4 91.5h0M73.5 69.5h0M84.0 66.4h0M83.8 50.2h0M104.4 49.8h0M70.9 80.0h0M98.8 53.3h0M68.0 60.8h0M81.9 59.9h0M79.3 65.6h0M105.7 50.1h0M96.2 51.9h0M76.3 63.1h0M99.3 48.7h0M78.5 70.5h0M84.5 61.8h0M63.7 61.1h0M71.4 79.2h0M81.8 52.4h0M77.2 76.0h0" stroke="#5d9db2" stroke-width="1.1" stroke-linecap="square" fill="none"/><path d="M59.5 94.2h0M45.7 111.5h0M44.6 102.6h0M70.2 87.4h0M52.0 86.3h0M55.6 101.9h0M51.5 96.7h0M32.8 97.5h0M34.3 86.8h0M57.7 106.9h0M47.4 113.1h0M35.7 113.8h0M111.3 114.0h0M32.0 82.8h0M73.6 103.2h0M47.9 102.0h0M70.1 112.7h0M33.3 105.2h0M65.8 90.3h0M48.7 98.2h0M38.7 98.5h0M68.1 116.2h0M65.4 117.6h0M34.7 102.1h0M79.6 126.5h0M75.5 128.9h0M44.2 114.9h0M69.3 124.5h0M43.8 76.7h0M84.7 139.3h0M70.0 122.0h0M50.0 114.2h0M44.3 114.0h0M45.5 100.5h0M51.4 123.7h0M52.1 103.1h0M75.3 125.6h0M79.2 116.1h0M46.5 106.0h0M33.8 87.2h0M68.3 104.1h0M57.0 86.2h0M40.6 78.7h0M68.7 109.7h0M42.1 84.9h0M61.7 114.9h0M35.1 104.7h0M58.5 98.0h0M31.2 100.9h0M30.7 79.0h0M62.0 125.5h0M34.7 82.8h0M60.8 111.6h0M43.3 88.4h0M54.5 120.3h0M49.0 108.5h0M56.7 105.8h0M44.2 98.0h0M48.9 101.6h0M46.7 94.5h0M50.2 96.5h0M48.9 77.1h0M35.6 111.4h0M34.1 98.3h0M74.7 113.0h0M56.4 108.7h0M36.9 84.9h0M55.1 119.3h0M41.0 102.4h0M48.8 105.5h0M67.6 94.6h0M58.0 115.9h0M66.3 124.8h0M36.7 85.2h0M39.5 93.1h0M46.9 95.2h0M37.9 100.9h0M56.9 85.8h0M57.2 85.6h0M68.9 125.2h0M34.3 70.2h0M70.2 114.6h0M67.6 124.2h0M36.3 77.6h0M85.4 88.5h0M76.8 119.6h0M41.1 77.6h0M56.5 83.5h0M33.5 101.3h0M50.7 106.4h0M69.7 121.3h0M52.0 121.9h0M44.6 93.3h0M79.4 93.2h0M63.3 125.0h0M33.8 97.7h0M47.2 104.4h0M75.3 113.6h0M42.2 99.6h0M71.8 115.9h0M32.0 87.2h0M36.2 108.7h0M30.6 86.0h0M44.3 106.6h0M62.3 98.6h0M49.0 92.7h0M89.6 144.3h0M79.0 128.2h0M49.4 95.3h0M68.4 124.6h0M57.1 87.7h0M46.4 102.4h0M40.0 103.1h0M79.1 129.0h0M31.5 81.1h0M67.3 120.1h0M67.8 116.8h0M44.8 80.2h0M46.1 100.5h0M66.7 125.6h0M40.7 96.0h0M62.6 90.9h0M43.0 76.0h0M32.8 79.9h0M39.9 89.9h0M55.3 101.2h0M36.4 105.9h0M66.1 121.9h0M68.0 109.2h0M62.3 97.7h0M60.3 100.7h0M85.4 132.9h0M33.8 76.2h0M76.9 121.4h0M66.5 117.6h0" stroke="#a1161c" stroke-width="1.1" stroke-linecap="square" fill="none"/><path d="M114.7 135.6h0M84.7 114.1h0M108.7 128.7h0M116.7 127.8h0M109.8 123.4h0M73.8 98.6h0M74.1 88.1h0M107.9 137.5h0M90.4 106.1h0M85.1 105.9h0M111.3 135.0h0M92.8 135.0h0M93.7 126.7h0M111.5 144.8h0M91.5 115.1h0M77.1 93.0h0M113.1 133.1h0M91.5 130.5h0M71.6 95.0h0M80.1 103.2h0M87.0 135.2h0M102.0 142.4h0M77.5 93.0h0M81.3 125.7h0M81.7 96.8h0M104.8 132.2h0M111.2 125.4h0M103.7 122.2h0M104.6 141.8h0M96.7 122.6h0M110.0 129.4h0M75.2 77.7h0M76.1 94.3h0M105.3 127.3h0M117.6 126.0h0M87.5 133.6h0M99.8 131.9h0M96.1 148.2h0M101.8 137.1h0M96.6 126.4h0M106.5 140.0h0M93.5 144.4h0M86.5 102.2h0M80.8 84.3h0M104.6 125.5h0M83.5 107.7h0M101.1 124.4h0M78.3 96.8h0M88.2 128.3h0M85.4 105.0h0M93.8 136.1h0M96.1 118.8h0M81.2 101.7h0M94.1 129.9h0M90.6 138.7h0M93.7 138.4h0M96.9 124.0h0M84.3 106.4h0M117.0 131.8h0M119.0 137.3h0M84.6 131.5h0M80.7 108.0h0M68.7 79.8h0M116.0 125.6h0M94.3 135.9h0M105.5 145.1h0M66.6 86.5h0M103.5 137.7h0M81.5 103.5h0M116.5 126.5h0M92.4 133.1h0M92.4 130.8h0M80.6 112.1h0M88.1 135.2h0M98.3 125.6h0M96.7 120.3h0M92.5 129.3h0M74.1 95.9h0M96.8 142.0h0M91.1 121.2h0M118.0 125.2h0M114.7 132.3h0M104.1 134.2h0" stroke="#8b7f8e" stroke-width="1.1" stroke-linecap="square" fill="none"/><path d="M111.3 99.4h0M93.8 63.1h0M61.6 82.7h0M92.7 65.7h0M93.4 97.8h0M129.4 103.8h0M113.1 65.9h0M90.1 112.2h0M123.2 106.6h0M127.0 72.9h0M107.2 94.7h0M86.9 74.7h0M122.8 123.3h0M98.7 106.0h0M86.2 64.9h0M97.2 99.7h0M118.3 98.3h0M92.6 96.6h0M105.1 86.6h0M105.7 65.5h0M125.7 85.8h0M119.8 102.3h0M92.7 73.5h0M127.9 99.3h0M126.9 81.3h0M101.9 102.9h0M97.5 87.0h0M115.3 67.5h0M90.8 89.7h0M97.8 84.2h0M126.0 87.4h0M121.9 115.7h0M90.9 99.4h0M114.1 101.8h0M128.3 100.1h0M123.7 80.3h0M119.2 115.8h0M106.4 124.0h0M112.7 78.0h0M128.0 76.8h0M113.4 78.7h0M100.7 73.3h0M90.6 67.3h0M96.3 86.7h0M92.7 99.4h0M91.8 110.4h0M111.6 76.8h0M92.3 87.2h0M111.1 70.7h0M115.6 102.4h0M91.9 84.5h0M119.3 104.0h0M124.3 94.9h0M86.3 85.6h0M92.6 79.3h0M114.0 76.7h0M97.4 66.1h0M129.6 101.0h0M90.7 105.7h0M92.1 99.5h0M91.4 68.2h0M120.4 96.9h0M121.1 116.4h0M88.4 68.5h0M106.2 97.8h0M93.9 78.7h0M91.4 97.7h0M90.9 66.2h0M54.7 78.1h0M90.7 66.0h0M123.2 95.7h0M116.1 113.0h0M88.3 78.2h0M123.1 79.4h0M117.2 72.6h0M130.1 90.3h0M72.8 79.5h0M102.2 104.6h0M107.9 117.7h0M89.3 74.8h0M121.5 115.7h0M119.8 69.1h0M122.2 109.6h0M91.4 119.3h0M105.0 70.9h0M128.3 107.0h0M116.2 80.6h0M86.2 77.6h0M128.1 84.0h0M126.6 86.7h0M96.0 91.0h0M122.7 95.0h0M121.5 112.6h0M125.3 102.6h0M109.0 103.1h0M125.0 74.9h0M90.1 93.5h0M113.8 62.8h0M90.9 78.2h0M111.4 73.3h0M126.9 79.5h0M105.7 96.4h0M112.2 111.1h0M127.0 105.6h0M108.5 101.3h0M104.1 106.5h0M113.3 84.2h0M130.6 88.4h0M100.0 61.1h0M95.7 120.9h0M96.5 108.9h0M117.6 99.1h0M111.8 116.6h0M90.5 98.4h0M101.2 95.4h0M129.5 80.0h0M97.9 88.4h0M85.1 70.6h0M120.3 97.0h0M85.9 66.7h0M124.3 76.2h0M104.7 99.0h0M105.7 95.9h0M109.8 108.7h0M123.9 73.1h0M109.9 106.5h0M95.0 59.1h0M89.2 69.0h0M107.9 71.6h0M94.1 130.6h0M107.5 109.9h0M121.3 108.0h0M120.9 71.0h0M100.8 65.9h0M107.2 63.3h0M107.5 61.3h0M121.1 65.3h0M98.0 104.4h0M125.7 102.5h0M88.9 83.7h0M92.4 62.1h0M113.7 110.1h0M98.9 102.2h0M119.3 117.2h0M86.7 99.3h0M104.1 86.8h0M99.7 82.1h0M130.1 98.2h0M103.9 70.5h0M124.6 115.5h0M129.6 100.8h0M129.9 109.9h0M103.8 90.5h0M130.7 89.8h0M108.9 114.7h0M118.1 108.6h0M123.4 83.0h0M118.5 98.8h0M113.1 60.6h0M94.2 97.2h0M96.5 99.8h0M122.1 79.9h0M120.1 127.8h0" stroke="#1d5f5e" stroke-width="1.1" stroke-linecap="square" fill="none"/><path d="M119.0 40.0h0M124.2 62.0h0M114.5 92.1h0M98.0 79.4h0M127.8 70.3h0M129.7 35.8h0M119.1 71.7h0M125.8 33.0h0M128.8 34.0h0M96.4 64.0h0M94.6 70.1h0M98.7 65.7h0M106.7 47.9h0M125.4 54.5h0M118.9 37.8h0M129.5 55.7h0M99.1 76.9h0M107.8 89.8h0M95.3 71.7h0M114.1 67.4h0M114.8 50.3h0M129.7 39.4h0M127.8 49.6h0M116.7 97.3h0M131.5 42.2h0M130.2 55.1h0M117.6 41.4h0M113.1 78.1h0M109.1 88.4h0M121.2 86.5h0M101.2 70.1h0M129.3 46.9h0M123.0 60.8h0M121.4 92.6h0M128.6 52.1h0M101.5 66.9h0M133.0 41.7h0M121.3 87.1h0M105.0 81.7h0M126.8 55.1h0M104.8 94.5h0M126.7 54.9h0M112.9 51.9h0M113.2 70.2h0M109.8 73.6h0M120.7 74.4h0M129.0 51.6h0M102.6 68.2h0M98.4 71.0h0M98.7 75.8h0M98.3 73.8h0M108.7 83.3h0M117.1 87.1h0M122.0 36.3h0M127.5 63.7h0M105.6 43.7h0M127.2 65.2h0M121.1 35.5h0M114.1 54.6h0M105.4 45.9h0M113.3 50.1h0M124.0 32.5h0M114.7 51.4h0" stroke="#2b2e80" stroke-width="1.1" stroke-linecap="square" fill="none"/><path d="M76.1 64.8h0M92.2 61.2h0M96.9 56.9h0M97.4 52.5h0M69.5 61.2h0M78.5 65.5h0M82.0 69.8h0M65.7 65.7h0M68.3 71.1h0M78.9 57.6h0M71.3 52.2h0M75.1 69.2h0M74.5 54.5h0M96.9 54.1h0M71.4 69.2h0M78.4 56.1h0M82.3 70.4h0M77.5 66.3h0M65.2 57.0h0M73.5 48.7h0M76.6 49.1h0M82.7 71.4h0M68.7 53.6h0M65.2 58.0h0M76.9 71.4h0M86.9 55.8h0M70.2 77.7h0M75.9 72.1h0M84.2 58.8h0M96.9 52.3h0M83.4 61.3h0M86.7 58.4h0M76.8 60.8h0M76.4 78.8h0M73.9 74.8h0M96.7 46.7h0M86.2 61.4h0M67.2 68.0h0M98.9 53.3h0M72.8 62.6h0M79.7 63.6h0M71.8 68.5h0M77.4 52.7h0M69.9 65.5h0M75.3 80.6h0M71.9 66.6h0M81.8 60.7h0M68.0 64.3h0M78.6 57.9h0M90.2 51.2h0M102.8 48.7h0M70.7 77.5h0M67.0 68.4h0M63.2 61.9h0M89.8 55.9h0M92.9 58.0h0M67.8 60.8h0M71.6 77.7h0M72.0 65.0h0M71.5 59.7h0M89.5 48.1h0M77.0 70.8h0M85.1 64.0h0M69.4 58.8h0" stroke="#5d9db2" stroke-width="1.1" stroke-linecap="square" fill="none"/><path d="M65.8 121.2h0M55.7 92.7h0M71.4 116.2h0M77.7 120.6h0M69.6 114.8h0M36.4 80.3h0M48.7 79.1h0M55.2 98.4h0M46.8 77.0h0M48.3 111.9h0M42.2 83.8h0M70.3 118.3h0M57.3 117.2h0M76.0 120.5h0M69.8 101.5h0M37.6 114.1h0M109.1 125.7h0M32.0 81.6h0M47.2 118.7h0M32.2 86.7h0M58.2 126.4h0M64.0 122.3h0M55.2 90.3h0M42.3 86.2h0M43.2 72.2h0M49.4 117.7h0M46.5 95.2h0M83.8 80.0h0M34.2 76.3h0M52.3 86.9h0M32.9 104.1h0M44.7 69.9h0M57.5 111.7h0M59.2 119.0h0M77.5 128.8h0M56.3 106.3h0M41.6 103.4h0M42.8 114.1h0M52.6 95.0h0M40.7 105.4h0M29.1 77.9h0M57.2 85.1h0M52.3 122.3h0M38.5 106.0h0M59.2 111.9h0M61.3 123.2h0M54.8 123.2h0M66.6 118.8h0M47.5 110.6h0M38.1 84.3h0M42.5 103.6h0M72.0 104.5h0M63.6 120.5h0M73.7 126.0h0M54.0 105.1h0M67.0 126.4h0M41.9 103.0h0M41.3 70.1h0M78.4 121.2h0M34.6 81.1h0M91.5 76.3h0M45.8 73.8h0M55.9 94.3h0M88.1 138.8h0M63.5 113.7h0M38.9 88.5h0M34.5 101.5h0M41.1 85.7h0M59.9 80.8h0M61.8 122.2h0M39.9 75.2h0M83.1 138.2h0M57.4 102.5h0M78.1 122.3h0M35.0 97.0h0M59.0 125.5h0M40.6 71.9h0M71.1 122.5h0M63.5 115.9h0M60.5 127.1h0M49.5 96.0h0M34.2 86.4h0M68.4 103.1h0M39.8 93.9h0M51.4 122.1h0M67.9 114.2h0M63.2 117.8h0M67.9 122.1h0M54.2 93.0h0M29.9 79.2h0M33.2 98.2h0M46.7 124.1h0M49.5 105.1h0M45.8 85.9h0M88.4 140.6h0M97.2 141.1h0M50.6 108.6h0M26.8 85.5h0M28.8 78.3h0M41.5 119.3h0M33.5 106.9h0M76.5 120.3h0M53.2 79.5h0M28.6 83.8h0M67.1 118.4h0M34.3 77.1h0M101.7 83.6h0M59.5 97.6h0M92.5 84.4h0M56.8 92.6h0M68.7 118.7h0M29.1 84.5h0M66.1 116.1h0M60.2 94.5h0M50.6 83.2h0M76.8 126.9h0M45.4 82.3h0M73.1 108.5h0M49.8 110.1h0M40.0 73.6h0M81.2 116.2h0M65.5 109.9h0M39.5 94.2h0M59.3 119.9h0M53.6 114.2h0M50.0 101.0h0M48.7 106.8h0" stroke="#a1161c" stroke-width="1.1" stroke-linecap="square" fill="none"/><path d="M106.9 123.6h0M102.7 122.3h0M105.8 138.2h0M123.1 127.7h0M105.3 137.1h0M100.8 116.9h0M94.1 123.9h0M108.0 126.8h0M80.5 99.0h0M96.1 124.7h0M86.0 142.5h0M105.0 125.4h0M91.8 111.0h0M95.8 134.6h0M84.7 111.2h0M121.2 127.5h0M104.5 144.0h0M99.0 120.5h0M101.7 139.7h0M111.6 140.5h0M107.6 143.6h0M89.1 123.6h0M72.1 99.3h0M86.6 132.6h0M115.8 131.9h0M92.6 136.3h0M80.9 128.2h0M94.3 144.3h0M94.1 115.6h0M105.5 146.1h0M88.0 113.3h0M82.3 112.0h0M103.9 131.0h0M83.9 131.1h0M102.1 139.7h0M110.4 123.1h0M99.9 148.5h0M94.6 129.3h0M117.5 124.6h0M89.9 136.6h0M100.8 133.2h0M83.7 97.8h0M109.3 142.7h0M114.4 121.7h0M110.8 135.5h0M94.3 113.2h0M84.9 124.6h0M105.3 126.3h0M112.4 122.2h0M83.7 127.6h0M80.7 86.8h0M88.1 126.5h0M107.2 143.1h0M94.5 122.4h0M94.8 125.3h0M85.9 121.5h0M72.5 97.7h0M83.9 102.1h0M75.2 102.6h0M83.6 108.9h0M100.1 121.4h0M99.4 129.0h0M86.0 132.5h0M106.8 122.0h0M100.4 123.3h0M95.8 118.1h0M80.4 105.4h0M87.6 140.2h0M94.6 143.3h0M94.9 111.0h0M87.7 134.2h0M87.8 120.6h0M114.4 121.7h0M83.6 105.4h0M97.4 132.0h0M76.7 94.0h0M106.2 129.0h0" stroke="#8b7f8e" stroke-width="1.1" stroke-linecap="square" fill="none"/><path d="M125.1 71.9h0M84.5 65.1h0M97.5 105.3h0M93.7 87.2h0M126.2 103.4h0M120.0 101.6h0M110.8 103.3h0M106.3 94.5h0M122.0 114.0h0M111.3 88.1h0M113.0 98.9h0M114.3 95.2h0M107.9 109.9h0M121.9 107.6h0M103.9 101.7h0M125.9 85.8h0M99.7 74.9h0M76.3 103.1h0M116.1 123.7h0M90.0 66.0h0M118.0 80.4h0M124.7 73.3h0M100.3 91.9h0M110.3 93.5h0M112.5 70.3h0M126.6 76.9h0M101.3 77.7h0M120.3 93.1h0M85.0 117.6h0M120.7 88.2h0M106.8 66.0h0M110.8 70.3h0M127.4 89.0h0M130.2 103.0h0M124.1 74.4h0M113.8 98.5h0M97.9 90.0h0M128.2 105.8h0M107.3 67.0h0M92.0 82.2h0M100.1 102.5h0M102.3 108.3h0M98.7 104.8h0M123.6 113.2h0M103.0 84.7h0M119.2 90.7h0M101.1 89.7h0M110.5 77.7h0M84.9 123.8h0M91.8 85.2h0M91.6 106.9h0M105.2 95.5h0M102.0 100.9h0M95.3 105.9h0M122.0 108.8h0M99.5 80.3h0M112.5 118.4h0M90.5 123.6h0M97.5 99.9h0M90.7 69.0h0M117.6 102.2h0M106.6 115.1h0M102.5 109.8h0M125.0 82.6h0M113.6 80.3h0M118.8 120.1h0M81.1 98.5h0M99.2 62.9h0M112.6 112.0h0M94.7 91.7h0M111.9 102.4h0M121.8 92.3h0M108.9 98.3h0M124.7 80.7h0M76.3 96.9h0M107.9 100.0h0M102.4 80.2h0M113.7 112.0h0M62.5 84.4h0M101.8 65.3h0M92.1 100.8h0M123.2 106.5h0M124.4 103.7h0M132.6 103.3h0M112.4 101.2h0M128.0 88.3h0M111.8 89.0h0M108.0 78.5h0M90.0 99.2h0M111.9 117.2h0M119.9 102.9h0M103.0 95.9h0M129.9 84.1h0M126.1 98.1h0M50.7 71.5h0M66.8 72.9h0M78.6 99.1h0M108.5 99.9h0M131.0 83.0h0M87.4 133.2h0M104.1 82.7h0M112.2 72.4h0M84.8 71.1h0M89.7 94.4h0M128.5 112.6h0M111.5 96.0h0M116.1 113.3h0M104.2 142.1h0M111.3 88.7h0M105.0 107.4h0M112.8 99.5h0M91.0 69.5h0M87.7 77.9h0M117.1 116.1h0M93.7 95.1h0M113.8 108.2h0M87.8 91.6h0M97.2 89.2h0M91.6 87.6h0M124.4 110.1h0M117.9 79.9h0M92.2 72.3h0M83.8 69.2h0M102.4 96.0h0M95.7 100.8h0M112.9 120.8h0M104.7 58.4h0M125.7 101.8h0M90.2 67.5h0M112.5 104.1h0M91.0 102.1h0M88.4 81.3h0M108.9 107.4h0M83.2 68.2h0M113.2 74.4h0M83.9 125.5h0M100.3 80.0h0M131.8 99.7h0M115.9 103.3h0M83.9 73.4h0M119.5 83.8h0M116.9 68.8h0M122.4 94.6h0M112.7 100.1h0M130.9 85.9h0M113.1 64.2h0M125.2 106.4h0M112.8 78.5h0M114.6 103.0h0M97.1 106.6h0M120.4 88.9h0M100.1 106.6h0M102.8 107.8h0M119.4 119.1h0M109.6 107.5h0M126.4 105.3h0M108.3 135.6h0M95.7 87.7h0M123.6 117.5h0M94.3 114.3h0M123.1 122.5h0M127.9 110.6h0M114.0 108.6h0M103.7 107.8h0M95.7 62.1h0M120.4 68.2h0M124.3 97.0h0M97.5 63.7h0M105.3 110.2h0M108.1 128.0h0M119.9 120.3h0M127.7 116.0h0M84.6 79.9h0M89.3 91.2h0M114.9 70.9h0" stroke="#1d5f5e" stroke-width="1.1" stroke-linecap="square" fill="none"/><path d="M107.5 45.7h0M102.2 86.2h0M132.0 39.4h0M128.8 53.1h0M128.1 57.8h0M107.9 49.5h0M125.4 73.6h0M126.7 56.4h0M123.4 32.8h0M123.4 33.3h0M118.5 54.2h0M122.4 34.9h0M125.0 57.3h0M127.1 58.5h0M127.6 51.0h0M118.0 43.4h0M110.8 50.8h0M120.7 61.3h0M96.3 75.8h0M108.4 69.3h0M121.3 37.4h0M125.3 55.5h0M123.6 34.8h0M108.3 65.1h0M121.5 34.5h0M122.2 36.6h0M109.4 97.3h0M100.8 66.0h0M131.1 37.2h0M119.3 84.8h0M127.7 67.0h0M128.8 52.2h0M95.1 71.7h0M128.6 48.4h0M116.6 89.4h0M103.2 62.8h0M114.4 66.3h0M121.7 36.6h0M120.6 59.3h0M105.1 62.7h0M113.9 69.6h0M108.7 65.3h0M98.2 66.9h0M101.9 81.8h0M103.0 68.5h0M100.4 80.1h0M118.3 81.8h0M113.0 94.9h0" stroke="#2b2e80" stroke-width="1.1" stroke-linecap="square" fill="none"/><path d="M82.2 84.0h0M68.9 73.0h0M78.7 57.7h0M70.3 61.6h0M89.9 53.2h0M96.8 45.0h0M86.1 62.6h0M97.5 48.0h0M83.2 64.9h0M66.8 90.9h0M95.7 49.1h0M78.9 58.0h0M62.9 62.5h0M97.5 54.1h0M77.2 50.4h0M73.2 58.6h0M87.0 64.1h0M88.5 60.4h0M75.2 76.8h0M88.3 63.3h0M81.1 59.6h0M67.8 74.4h0M81.3 63.5h0M63.7 71.4h0M81.9 49.6h0M65.3 62.7h0M85.3 54.6h0M82.9 53.3h0M69.7 73.5h0M75.3 74.0h0M69.7 74.2h0M79.2 50.6h0M80.2 50.1h0M78.5 69.7h0M84.7 53.2h0M75.7 64.2h0M64.4 56.4h0M80.1 66.7h0M73.7 57.7h0M78.1 70.9h0M80.9 52.3h0M96.9 53.0h0M79.5 60.9h0M76.1 58.0h0M96.3 49.2h0M81.8 65.4h0M69.9 76.8h0M85.7 48.3h0M80.8 71.0h0M65.5 61.6h0M76.3 75.7h0M66.2 55.9h0M79.2 72.6h0" stroke="#5d9db2" stroke-width="1.1" stroke-linecap="square" fill="none"/><path d="M64.9 122.0h0M41.7 92.2h0M63.3 92.8h0M77.5 113.1h0M77.1 97.7h0M67.1 120.6h0M52.1 100.7h0M47.1 97.7h0M64.0 128.3h0M38.5 113.9h0M67.0 116.0h0M41.3 70.5h0M33.7 83.7h0M56.6 128.6h0M75.4 121.0h0M41.2 102.7h0M66.5 127.9h0M62.6 103.0h0M34.9 68.9h0M52.3 108.5h0M61.4 112.4h0M44.9 98.3h0M76.9 124.9h0M54.7 83.7h0M57.3 98.2h0M56.8 93.8h0M38.4 87.2h0M72.4 124.1h0M41.0 85.6h0M49.8 90.4h0M46.6 86.2h0M46.6 76.5h0M65.7 125.5h0M62.5 109.8h0M58.2 129.1h0M61.4 108.0h0M44.8 80.9h0M60.0 100.8h0M46.5 113.4h0M35.6 99.2h0M58.3 107.3h0M72.3 129.5h0M36.7 95.8h0M52.0 109.3h0M54.4 99.9h0M61.8 111.3h0M45.5 82.4h0M68.7 112.1h0M47.3 93.1h0M42.5 117.2h0M56.6 91.2h0M49.3 104.5h0M62.8 104.9h0M45.5 117.8h0M29.3 84.6h0M43.6 98.6h0M59.6 100.3h0M32.0 87.1h0M62.0 88.5h0M36.1 100.0h0M77.4 112.5h0M70.2 112.6h0M85.1 132.5h0M33.2 95.1h0M32.0 98.0h0M33.3 91.7h0M51.6 81.5h0M45.5 97.3h0M62.3 125.0h0M78.8 97.2h0M47.9 105.8h0M42.4 108.0h0M36.9 101.0h0M34.4 75.2h0M28.8 93.5h0M70.4 119.1h0M37.5 68.9h0M40.8 101.5h0M82.7 132.1h0M49.6 101.4h0M38.8 80.5h0M65.0 106.4h0M51.6 125.2h0M67.5 116.7h0M74.7 119.3h0M52.0 114.6h0M49.1 103.9h0M46.6 88.7h0M63.1 120.6h0M30.9 93.6h0M45.7 121.4h0M82.9 141.8h0M46.4 122.1h0M65.1 117.2h0M61.6 94.8h0M64.0 101.9h0M59.2 125.1h0M70.1 80.9h0M67.8 124.4h0M38.1 79.2h0M36.3 87.8h0M35.9 103.3h0M45.4 100.1h0M54.9 79.5h0M50.6 83.6h0M60.5 81.0h0M44.3 111.2h0M38.2 99.4h0M44.0 77.3h0M80.4 107.9h0M59.5 103.0h0M64.5 109.0h0M42.3 91.3h0M63.0 118.2h0M59.4 101.3h0M55.5 124.6h0M69.9 115.6h0M96.6 114.5h0M90.8 102.6h0M60.1 126.5h0M72.9 119.2h0M60.7 91.1h0M38.3 105.6h0M67.6 116.2h0M54.8 112.8h0M78.7 128.4h0M72.6 88.3h0M57.0 87.8h0M46.6 101.6h0M81.1 106.8h0M38.4 98.9h0M49.2 81.4h0M64.8 120.3h0M52.4 120.2h0M64.2 125.5h0M61.7 126.5h0M52.3 125.3h0M84.5 79.8h0M61.9 90.0h0M32.0 81.3h0M66.2 111.9h0M49.8 105.9h0M43.3 81.4h0M55.9 84.1h0M46.7 100.0h0M87.8 140.6h0M71.0 120.4h0" stroke="#a1161c" stroke-width="1.1" stroke-linecap="square" fill="none"/><path d="M102.9 138.5h0M86.2 127.2h0M102.9 118.8h0M111.8 126.5h0M84.8 123.4h0M83.6 110.3h0M97.6 113.3h0M95.0 123.5h0M79.8 106.2h0M85.8 109.0h0M90.4 124.9h0M90.1 126.2h0M102.2 146.4h0M107.6 125.6h0M77.7 92.8h0M103.7 134.5h0M93.3 127.8h0M88.1 115.9h0M82.7 123.1h0M80.9 106.3h0M110.3 131.1h0M108.4 138.5h0M114.3 137.2h0M113.2 125.2h0M89.1 120.8h0M87.0 121.6h0M83.6 109.6h0M78.8 97.6h0M103.5 141.4h0M93.3 137.8h0M90.2 141.8h0M82.5 99.0h0M111.8 134.1h0M106.3 135.8h0M101.6 145.8h0M106.0 135.8h0M94.9 130.2h0M89.1 109.4h0M89.1 104.2h0M105.0 134.7h0M91.9 110.8h0M97.5 117.7h0M88.0 132.7h0M92.3 132.0h0M103.8 136.4h0M82.4 83.3h0M98.9 117.3h0M110.3 143.2h0M103.8 123.2h0M92.0 122.8h0M88.7 129.1h0M91.4 137.5h0M90.7 112.6h0M86.5 114.8h0M119.0 127.1h0M85.2 134.7h0M88.9 133.5h0M76.0 84.7h0M93.8 139.7h0M112.8 140.2h0M86.5 123.4h0M104.9 129.6h0M97.7 118.6h0M70.4 96.7h0M90.3 121.5h0M97.5 144.7h0M104.8 133.3h0M114.9 137.7h0M91.9 113.2h0M91.7 128.3h0M87.3 111.9h0M83.1 104.3h0M93.3 131.3h0M93.4 110.2h0M85.8 110.4h0M76.8 103.1h0M83.3 112.3h0M110.6 130.7h0M85.8 106.6h0M108.6 127.9h0" stroke="#8b7f8e" stroke-width="1.1" stroke-linecap="square" fill="none"/><path d="M95.3 85.6h0M125.7 103.3h0M120.3 107.2h0M127.8 88.0h0M113.8 106.7h0M128.0 80.1h0M106.2 101.1h0M131.2 105.9h0M122.1 119.4h0M96.2 80.6h0M114.1 80.8h0M110.7 122.4h0M88.5 67.2h0M108.5 68.1h0M98.2 121.1h0M113.9 75.6h0M121.6 94.7h0M121.5 114.6h0M120.2 107.4h0M108.6 118.3h0M125.0 103.9h0M119.1 69.4h0M119.5 69.6h0M116.4 99.0h0M125.8 110.2h0M115.6 108.9h0M102.6 95.6h0M128.8 102.5h0M116.0 112.8h0M108.2 104.3h0M115.3 91.7h0M95.8 91.3h0M98.9 98.7h0M118.2 81.1h0M104.7 69.0h0M111.2 71.8h0M114.5 61.0h0M129.9 91.9h0M89.4 94.0h0M82.2 122.8h0M69.8 83.8h0M103.4 99.9h0M87.8 64.4h0M99.0 97.6h0M93.1 74.6h0M83.4 68.9h0M96.2 109.9h0M125.1 84.9h0M90.1 83.6h0M115.3 86.7h0M116.3 72.9h0M114.6 74.9h0M111.1 87.1h0M121.5 118.1h0M103.1 61.1h0M120.1 115.0h0M115.8 128.9h0M107.8 78.5h0M89.5 83.5h0M95.3 68.9h0M98.8 71.7h0M129.8 108.8h0M118.5 107.1h0M109.0 73.8h0M106.6 142.4h0M121.9 84.2h0M113.6 86.3h0M99.8 105.9h0M119.2 113.8h0M95.3 106.0h0M120.7 79.6h0M119.2 104.9h0M117.6 73.9h0M105.9 77.9h0M86.1 82.6h0M112.9 106.3h0M118.2 109.2h0M95.5 67.1h0M102.1 111.8h0M100.7 108.3h0M101.7 59.1h0M95.5 60.1h0M120.9 118.6h0M94.8 97.6h0M117.9 90.6h0M86.6 121.6h0M108.2 106.5h0M119.1 112.3h0M121.7 103.4h0M115.8 79.9h0M109.5 82.5h0M116.8 67.8h0M104.3 59.3h0M66.0 92.0h0M119.7 99.3h0M92.4 68.3h0M119.9 102.5h0M126.9 92.1h0M128.3 100.7h0M91.8 70.8h0M110.4 77.1h0M120.5 97.6h0M112.1 107.2h0M116.6 67.1h0M116.7 124.1h0M101.5 110.0h0M122.0 99.9h0M107.1 76.8h0M88.6 139.9h0M101.6 62.9h0M125.9 98.7h0M113.6 112.5h0M120.9 99.6h0M107.2 105.5h0M104.7 83.6h0M121.4 123.0h0M75.9 110.0h0M115.0 62.4h0M94.9 85.7h0M119.1 124.2h0M99.8 112.0h0M128.9 101.1h0M130.5 86.9h0M88.6 137.9h0M96.9 60.4h0M101.1 85.9h0M117.1 91.5h0M124.1 117.4h0M92.3 83.7h0M89.6 87.3h0M113.3 117.4h0M123.0 90.4h0M96.1 95.1h0M92.8 104.0h0M107.4 97.3h0M113.5 82.9h0M115.7 90.2h0M72.0 80.2h0M103.9 115.2h0M114.4 111.4h0M118.0 120.7h0M113.3 74.9h0M123.5 102.8h0M102.2 113.1h0M111.6 84.9h0M124.1 93.4h0M93.4 94.2h0M75.1 105.0h0M91.6 89.9h0M104.5 105.1h0M111.1 109.7h0M113.9 97.0h0M95.4 91.8h0M101.5 94.8h0M108.1 86.4h0M109.2 115.4h0M86.1 65.7h0M117.6 66.5h0M96.6 86.1h0M108.6 122.6h0M129.6 109.9h0M116.1 66.6h0M95.6 94.2h0M129.6 84.6h0M95.2 83.4h0M102.6 85.3h0M113.7 88.4h0M100.6 59.7h0M121.1 124.5h0M102.0 112.4h0M122.1 72.0h0M121.1 103.5h0M107.4 69.8h0M101.3 99.4h0M113.5 103.9h0M98.9 91.9h0" stroke="#1d5f5e" stroke-width="1.1" stroke-linecap="square" fill="none"/><path d="M108.0 91.2h0M101.0 70.6h0M120.5 35.6h0M109.7 65.1h0M122.1 81.3h0M133.1 41.3h0M119.5 34.3h0M99.2 83.4h0M120.2 37.8h0M106.8 78.5h0M108.9 95.1h0M98.2 80.1h0M117.7 41.1h0M125.5 73.9h0M108.6 68.7h0M128.1 35.8h0M103.7 85.0h0M108.0 70.7h0M108.0 64.6h0M127.0 50.1h0M107.7 45.9h0M128.0 67.6h0M106.8 47.4h0M104.4 68.1h0M103.9 65.2h0M133.2 45.4h0M120.3 82.3h0M119.0 83.3h0M119.8 38.0h0M130.8 38.6h0M109.4 66.0h0M121.5 87.8h0M128.3 48.3h0M110.8 48.8h0M128.0 56.2h0M126.0 56.1h0M128.6 35.3h0M107.8 45.5h0M111.4 91.3h0M98.2 82.4h0M118.0 91.1h0M128.2 47.9h0M107.6 78.5h0M131.4 39.8h0M127.6 63.5h0M121.8 57.8h0M128.3 63.6h0M95.4 69.4h0M125.6 58.3h0M124.6 33.2h0M131.9 44.2h0M108.2 65.9h0M129.8 69.6h0M118.3 82.4h0M130.2 35.5h0M101.9 89.5h0M130.1 35.6h0M95.0 72.9h0M121.5 84.2h0M119.7 83.5h0M108.0 82.4h0M126.4 74.9h0M120.3 75.9h0M109.0 49.6h0" stroke="#2b2e80" stroke-width="1.1" stroke-linecap="square" fill="none"/><path d="M76.0 53.2h0M72.8 65.6h0M78.5 61.5h0M64.8 62.3h0M84.4 61.0h0M84.7 49.1h0M68.8 70.5h0M93.5 45.2h0M73.8 60.8h0M94.5 50.7h0M92.4 52.6h0M78.6 87.3h0M92.5 52.4h0M95.6 50.4h0M100.0 45.1h0M68.6 66.2h0M95.0 45.0h0M79.2 53.3h0M83.3 68.6h0M74.5 76.8h0M87.5 64.6h0M92.5 62.8h0M81.2 48.6h0M83.7 62.9h0M71.2 67.3h0M74.8 85.2h0M79.9 61.4h0M75.0 56.6h0M94.2 49.9h0M89.3 53.9h0M68.8 61.8h0M84.8 55.8h0M67.9 63.6h0M74.5 65.7h0M83.5 47.8h0M80.8 63.5h0M95.5 59.3h0M72.8 63.3h0M66.2 63.0h0M63.8 64.6h0M93.6 48.0h0M105.8 45.5h0M78.1 60.5h0M70.9 51.3h0M74.9 62.3h0M98.6 51.2h0M98.9 52.2h0M66.4 61.7h0M78.8 55.8h0M67.8 72.6h0M83.7 91.6h0M98.2 48.5h0M86.0 50.8h0M69.7 70.0h0M70.5 81.7h0" stroke="#5d9db2" stroke-width="1.1" stroke-linecap="square" fill="none"/><path d="M49.2 107.3h0M69.5 111.4h0M51.6 121.7h0M46.6 76.9h0M104.0 131.8h0M96.4 136.2h0M48.6 119.8h0M69.4 128.1h0M69.2 94.8h0M48.1 86.6h0M69.5 109.4h0M99.2 140.8h0M60.1 126.2h0M59.9 95.7h0M46.2 80.9h0M45.7 89.7h0M45.2 103.2h0M58.3 113.9h0M60.2 101.9h0M85.3 86.7h0M66.4 109.1h0M42.1 107.6h0M48.8 104.4h0M66.5 112.5h0M38.6 79.1h0M44.6 112.0h0M65.0 123.4h0M72.6 121.7h0M70.1 129.5h0M66.5 117.2h0M53.8 85.2h0M32.2 99.7h0M43.2 85.7h0M48.8 88.2h0M43.9 87.9h0M44.5 95.8h0M42.6 91.2h0M38.0 76.6h0M52.0 119.1h0M89.3 143.4h0M56.1 121.3h0M46.7 80.2h0M45.5 74.8h0M33.5 75.5h0M57.3 120.1h0M31.8 92.2h0M72.6 116.2h0M44.5 119.9h0M36.5 113.2h0M42.8 81.9h0M77.1 98.5h0M53.4 93.2h0M51.7 99.7h0M46.5 85.3h0M34.9 76.6h0M38.7 109.4h0M37.8 116.7h0M105.8 138.0h0M78.0 94.5h0M52.0 79.2h0M39.6 69.5h0M66.4 109.3h0M45.9 99.2h0M35.4 97.2h0M36.3 103.6h0M47.5 112.9h0M66.0 103.8h0M43.0 84.6h0M62.1 84.2h0M51.8 105.5h0M44.9 75.3h0M41.0 84.8h0M55.6 89.6h0M48.5 88.6h0M52.3 113.3h0M30.6 103.9h0M42.4 99.6h0M55.5 108.3h0M33.4 73.9h0M40.0 90.1h0M43.3 114.5h0M41.7 95.4h0M55.2 91.2h0M50.1 82.6h0M63.0 121.1h0M66.9 114.1h0M43.4 80.7h0M30.3 73.1h0M64.2 102.5h0M42.4 99.1h0M59.8 126.4h0M31.7 94.4h0M51.0 111.8h0M47.1 108.8h0M33.5 85.7h0M34.4 73.0h0M35.7 96.1h0M49.3 85.4h0M37.7 74.4h0M53.5 109.3h0M111.2 78.0h0M71.5 77.8h0M60.8 113.7h0M35.2 91.8h0M58.9 107.7h0M41.6 71.3h0M55.9 122.9h0M44.7 96.7h0M34.7 98.7h0M49.6 96.7h0M75.5 123.2h0M63.9 123.1h0M40.3 84.7h0M51.6 88.8h0M89.3 139.4h0M31.4 72.7h0M32.0 75.1h0M72.6 127.5h0M33.6 99.3h0M52.8 87.9h0M36.1 96.9h0M49.6 124.2h0M44.4 97.5h0M50.8 76.5h0M65.7 113.0h0" stroke="#a1161c" stroke-width="1.1" stroke-linecap="square" fill="none"/><path d="M88.5 136.9h0M100.3 119.2h0M72.2 101.2h0M104.1 129.3h0M94.9 126.3h0M86.6 125.2h0M100.5 139.9h0M82.3 131.2h0M90.9 138.2h0M85.8 92.7h0M103.9 126.5h0M86.6 101.9h0M102.6 136.0h0M81.0 106.3h0M107.9 131.5h0M109.3 138.3h0M90.8 108.4h0M90.4 111.3h0M85.0 116.7h0M100.9 131.2h0M89.4 113.1h0M86.8 138.4h0M96.4 142.9h0M90.3 125.6h0M83.8 134.4h0M92.7 138.2h0M92.0 137.2h0M85.4 125.3h0M103.8 140.0h0M87.1 125.5h0M99.6 119.7h0M85.1 108.4h0M113.3 129.4h0M88.8 143.2h0M107.5 122.3h0M87.3 117.7h0M101.1 135.6h0M107.1 131.7h0M95.9 109.3h0M106.2 147.2h0M92.2 130.2h0M103.7 127.4h0M111.5 136.0h0M94.1 110.6h0M96.3 125.1h0M81.8 107.8h0M120.7 125.4h0M88.0 134.2h0M109.5 127.7h0M108.0 134.8h0M119.5 126.0h0M88.3 108.1h0M83.8 121.0h0M86.3 121.9h0M93.0 123.3h0M99.5 144.7h0M90.3 117.4h0M92.1 133.1h0M92.0 141.0h0M81.6 118.8h0M110.4 138.9h0M69.9 101.7h0M85.1 108.8h0M115.4 123.8h0M97.8 124.7h0M102.6 142.3h0M87.3 126.2h0M106.6 125.7h0M91.1 136.7h0M119.0 125.8h0M108.3 136.6h0M113.6 126.1h0M88.3 131.6h0M87.8 136.3h0M106.2 125.1h0M108.6 119.5h0M83.2 108.0h0M93.9 131.5h0M83.7 106.1h0M109.3 129.4h0M87.5 132.6h0M98.2 114.8h0M96.7 141.4h0" stroke="#8b7f8e" stroke-width="1.1" stroke-linecap="square" fill="none"/><path d="M91.2 81.3h0M95.0 62.7h0M92.7 76.8h0M91.0 64.0h0M123.0 118.3h0M103.5 102.7h0M101.2 98.7h0M87.2 66.9h0M117.4 106.4h0M86.8 124.9h0M94.3 103.1h0M119.1 124.1h0M114.9 90.4h0M120.2 67.9h0M98.7 105.2h0M124.5 114.1h0M85.0 67.7h0M116.4 102.5h0M113.3 84.7h0M115.2 117.1h0M132.4 93.9h0M108.7 81.9h0M122.2 94.8h0M87.1 75.4h0M128.4 78.5h0M117.4 119.6h0M119.5 81.3h0M107.0 138.3h0M108.8 114.5h0M102.2 96.1h0M109.7 60.9h0M96.8 111.6h0M107.6 108.6h0M124.5 85.3h0M96.6 101.6h0M108.2 118.5h0M92.0 85.8h0M117.3 119.0h0M123.5 93.2h0M75.8 112.7h0M81.7 108.4h0M87.4 73.6h0M89.6 78.0h0M110.4 92.8h0M128.6 79.5h0M96.4 104.7h0M113.3 114.3h0M102.6 85.0h0M87.2 76.4h0M104.8 102.6h0M125.0 100.8h0M102.7 71.3h0M106.5 110.6h0M115.4 120.0h0M123.9 99.5h0M70.2 104.5h0M87.4 61.9h0M113.0 69.6h0M91.6 60.6h0M120.7 111.8h0M100.9 93.7h0M116.2 107.7h0M108.7 73.0h0M107.4 83.9h0M116.5 119.0h0M91.9 92.0h0M127.4 97.1h0M115.7 118.6h0M89.4 88.6h0M115.3 96.5h0M97.0 99.6h0M110.7 105.3h0M98.1 62.6h0M118.5 102.7h0M104.7 65.5h0M84.4 76.7h0M115.2 103.2h0M98.5 109.2h0M109.2 110.9h0M97.7 94.2h0M117.3 116.6h0M122.5 100.9h0M125.9 71.2h0M90.5 95.7h0M93.2 85.3h0M89.4 91.4h0M111.8 64.9h0M92.8 80.0h0M105.8 95.3h0M111.6 91.6h0M127.2 108.4h0M101.9 89.5h0M114.7 62.6h0M122.5 105.1h0M92.7 92.5h0M114.6 114.8h0M91.9 88.1h0M107.7 102.9h0M125.0 88.1h0M101.3 100.5h0M87.0 83.3h0M118.4 108.8h0M99.6 82.9h0M112.9 70.9h0M85.0 111.7h0M127.5 112.3h0M117.7 120.8h0M84.0 83.1h0M105.7 106.6h0M123.5 79.1h0M102.1 98.8h0M102.5 142.3h0M128.2 116.9h0M120.4 98.9h0M111.9 104.3h0M90.9 68.8h0M110.3 79.7h0M109.6 98.3h0M104.7 62.2h0M130.0 101.2h0M89.8 73.2h0M105.9 107.0h0M121.4 78.2h0M117.3 70.0h0M102.7 116.0h0M130.2 110.4h0M87.6 81.9h0M124.7 110.7h0M122.5 96.9h0M85.0 85.1h0M122.2 95.3h0M96.0 99.7h0M89.7 80.2h0M104.2 67.3h0M123.7 109.1h0M107.3 113.2h0M117.2 72.7h0M86.7 81.4h0M126.4 82.5h0M120.8 90.4h0M93.3 71.2h0M92.6 80.0h0M101.2 81.2h0M125.9 101.6h0M129.3 97.2h0M115.3 97.5h0M72.4 77.2h0M103.9 86.7h0M99.3 102.0h0M122.2 117.4h0M99.1 79.6h0M94.2 90.8h0M84.0 86.0h0M111.0 109.3h0M100.4 111.6h0M125.3 117.7h0M104.1 106.7h0M75.8 95.8h0M88.0 77.3h0M117.6 81.9h0M125.5 106.5h0M125.8 99.8h0M117.1 102.0h0M127.0 95.7h0M131.1 89.2h0M124.4 105.6h0M117.6 67.4h0M117.3 119.1h0M88.5 72.4h0M93.4 62.9h0M130.8 102.8h0M91.5 90.7h0M88.4 66.3h0M124.7 87.4h0" stroke="#1d5f5e" stroke-width="1.1" stroke-linecap="square" fill="none"/><path d="M109.8 81.1h0M126.4 35.1h0M129.8 36.0h0M129.1 50.5h0M101.2 82.8h0M122.8 36.1h0M118.6 95.3h0M127.6 56.6h0M130.0 62.7h0M123.2 34.0h0M120.6 83.5h0M124.3 58.3h0M108.7 79.7h0M111.1 50.7h0M126.0 60.7h0M126.9 56.0h0M118.5 91.6h0M126.0 54.2h0M108.5 78.4h0M104.8 82.2h0M128.2 33.8h0M117.3 43.2h0M103.5 70.8h0M115.6 83.6h0M124.0 67.0h0M116.3 40.3h0M111.6 86.1h0M123.2 61.4h0M130.3 41.8h0M114.3 90.7h0M128.9 69.2h0M101.9 71.3h0M127.8 54.2h0M119.9 52.4h0M110.5 71.9h0M129.4 49.2h0M121.0 37.0h0M113.2 91.1h0M130.9 43.6h0M109.2 95.6h0M112.4 70.6h0M127.7 65.1h0M126.4 61.6h0M128.9 44.2h0M128.7 65.9h0M131.4 43.8h0" stroke="#2b2e80" stroke-width="1.1" stroke-linecap="square" fill="none"/><path d="M100.4 46.2h0M72.1 76.0h0M73.0 61.9h0M66.2 56.1h0M80.8 57.7h0M77.0 79.8h0M91.4 57.6h0M79.6 51.3h0M83.9 57.8h0M83.5 48.5h0M63.7 63.0h0M87.9 54.7h0M73.0 62.1h0M92.3 57.0h0M86.9 51.0h0M69.6 61.5h0M82.3 63.5h0M64.2 67.6h0M64.7 72.8h0M73.4 64.0h0M97.7 51.7h0M97.4 52.9h0M78.8 96.1h0M72.2 81.2h0M99.1 50.2h0M87.9 54.9h0M71.9 65.0h0M80.5 65.5h0M98.4 48.4h0M87.3 58.9h0M66.1 66.0h0M71.3 70.0h0M84.0 48.8h0M92.0 45.4h0M77.8 68.0h0M81.7 54.5h0M105.2 45.1h0M80.6 67.3h0M69.9 57.8h0M73.0 68.7h0M84.5 61.7h0M71.8 70.5h0M68.5 63.4h0M88.9 52.1h0M78.6 54.6h0M102.6 47.4h0M79.7 56.0h0M66.8 65.4h0M82.5 54.7h0M78.8 55.1h0M79.7 62.7h0" stroke="#5d9db2" stroke-width="1.1" stroke-linecap="square" fill="none"/><path d="M52.1 80.1h0M37.6 114.5h0M39.6 74.3h0M52.3 89.2h0M32.0 78.5h0M47.3 101.0h0M34.8 88.9h0M49.0 119.3h0M37.8 109.7h0M72.6 114.2h0M66.3 115.1h0M50.8 119.2h0M65.1 129.0h0M46.4 86.3h0M63.8 122.8h0M41.8 105.9h0M29.9 84.1h0M40.8 80.5h0M43.7 102.7h0M33.3 79.0h0M58.4 111.7h0M73.6 125.6h0M32.5 96.5h0M53.0 115.4h0M64.9 105.2h0M51.2 114.8h0M31.2 81.4h0M45.2 116.9h0M40.0 81.8h0M34.8 94.9h0M32.1 80.3h0M57.8 122.6h0M38.4 70.0h0M50.9 105.1h0M35.0 102.1h0M61.5 103.6h0M31.1 95.1h0M76.2 123.1h0M56.3 117.6h0M38.6 110.2h0M61.0 123.5h0M52.7 99.8h0M54.9 123.2h0M32.1 78.2h0M98.5 111.2h0M94.4 103.8h0M56.7 107.0h0M71.3 124.8h0M54.1 96.0h0M62.5 122.9h0M55.8 105.6h0M51.4 95.0h0M37.6 72.4h0M32.9 109.9h0M33.4 81.8h0M51.4 103.0h0M89.3 138.2h0M74.2 119.5h0M58.0 121.9h0M44.3 104.2h0M69.0 124.4h0M50.9 74.5h0M44.0 73.3h0M30.9 74.5h0M72.3 115.9h0M71.6 128.8h0M41.9 77.9h0M74.9 126.2h0M62.6 107.2h0M69.2 112.5h0M43.8 91.6h0M45.9 94.8h0M36.8 81.7h0M41.9 97.5h0M29.8 74.3h0M59.5 112.1h0M30.3 80.1h0M32.9 78.0h0M83.0 129.4h0M45.5 96.8h0M39.2 107.6h0M78.7 125.5h0M53.4 98.8h0M60.9 114.1h0M50.9 107.3h0M63.3 110.4h0M78.0 114.9h0M46.7 78.1h0M91.7 85.0h0M40.4 98.5h0M62.1 118.7h0M44.2 109.9h0M53.2 113.7h0M36.1 82.9h0M42.8 71.9h0M38.1 96.7h0M37.3 76.2h0M58.2 89.1h0M38.8 68.7h0M46.8 95.2h0M43.0 114.0h0M58.1 121.1h0M51.6 76.2h0M36.1 85.8h0M44.3 96.8h0M51.4 102.0h0M71.0 128.7h0M62.6 115.6h0M40.6 89.9h0M58.2 122.8h0M28.5 81.4h0M65.4 118.1h0M100.7 148.9h0M39.1 112.7h0M68.8 104.3h0M41.4 94.1h0M36.6 78.1h0M60.0 120.0h0M40.0 76.2h0M62.3 125.0h0M33.6 80.8h0M65.2 116.6h0M47.4 87.0h0M75.2 85.9h0M68.5 121.9h0M84.6 134.8h0M52.6 111.3h0M69.0 124.5h0M56.9 121.9h0M54.5 109.0h0M109.6 143.7h0M39.6 95.6h0M59.1 114.4h0M95.9 140.3h0M53.2 93.1h0M62.0 108.1h0M54.9 92.6h0M47.0 108.5h0M28.0 81.5h0M37.2 95.0h0M80.0 98.0h0M60.5 112.0h0M47.1 88.5h0M73.8 82.2h0M42.9 111.8h0M58.9 110.2h0" stroke="#a1161c" stroke-width="1.1" stroke-linecap="square" fill="none"/><path d="M83.5 112.5h0M96.8 115.1h0M94.3 132.1h0M117.4 125.8h0M85.9 124.5h0M95.8 115.3h0M86.6 107.8h0M111.2 125.6h0M89.5 115.6h0M104.6 142.9h0M102.1 145.8h0M99.1 145.1h0M87.1 104.4h0M84.9 111.4h0M85.8 141.8h0M83.9 107.5h0M81.1 97.8h0M103.8 126.4h0M88.9 114.5h0M93.9 119.2h0M71.2 96.0h0M90.2 115.9h0M116.8 129.5h0M100.3 149.8h0M108.4 129.0h0M105.7 123.3h0M112.9 142.1h0M97.1 130.8h0M111.3 129.0h0M93.5 146.7h0M114.1 136.8h0M82.2 132.4h0M90.4 147.8h0M98.4 119.3h0M74.6 97.2h0M116.3 129.1h0M104.3 139.5h0M93.5 143.9h0M73.8 104.1h0M112.4 131.8h0M94.5 136.3h0M102.5 133.1h0M106.9 121.1h0M86.0 125.2h0M95.3 135.0h0M119.1 132.0h0M97.7 124.1h0M95.0 135.7h0M82.1 102.6h0M89.1 138.3h0M85.0 134.4h0M89.8 128.6h0M117.8 134.9h0M119.2 135.6h0M71.7 101.4h0M99.6 131.6h0M84.4 100.3h0M82.7 102.3h0M94.2 120.1h0M110.9 136.5h0M95.5 114.1h0M112.9 132.7h0M97.4 127.0h0M97.4 116.3h0M108.0 141.7h0M106.1 121.4h0M120.4 126.0h0M70.7 100.0h0M82.9 112.5h0M110.2 144.9h0M104.8 135.3h0M94.2 136.5h0M88.4 118.1h0M107.6 147.2h0M95.3 137.2h0M82.0 108.6h0M109.4 141.1h0M77.7 101.6h0M118.1 127.4h0M92.4 113.3h0M105.1 138.4h0M82.5 124.5h0M97.9 116.6h0M114.1 126.3h0M72.3 99.7h0M110.1 130.0h0M89.9 120.3h0M97.9 138.0h0" stroke="#8b7f8e" stroke-width="1.1" stroke-linecap="square" fill="none"/><path d="M93.2 96.4h0M123.5 110.3h0M125.2 101.8h0M117.0 110.7h0M91.8 83.3h0M100.5 110.0h0M111.5 107.1h0M107.6 112.8h0M96.5 64.2h0M97.4 133.1h0M83.1 108.8h0M111.6 107.3h0M119.1 107.6h0M114.1 103.7h0M117.0 67.2h0M103.3 62.4h0M116.1 91.5h0M104.3 60.1h0M65.8 81.3h0M112.3 105.6h0M102.8 98.3h0M118.9 105.7h0M84.9 67.6h0M124.1 101.4h0M107.9 75.4h0M99.0 60.0h0M84.1 79.1h0M105.3 104.2h0M83.3 68.8h0M114.1 124.1h0M117.9 99.9h0M110.6 124.7h0M113.5 109.4h0M123.0 121.3h0M96.2 106.9h0M129.9 99.2h0M98.7 148.8h0M121.0 122.1h0M84.3 75.0h0M98.5 106.1h0M117.0 68.2h0M112.3 116.8h0M90.0 66.2h0M123.3 72.6h0M125.0 99.9h0M91.4 72.2h0M119.3 87.5h0M109.8 93.0h0M96.4 71.0h0M112.3 91.2h0M91.0 85.8h0M108.2 106.7h0M99.2 84.4h0M114.1 64.7h0M88.1 85.3h0M103.9 97.9h0M96.8 90.7h0M92.2 74.9h0M108.6 98.6h0M95.4 84.7h0M104.8 83.7h0M92.6 84.0h0M100.3 62.3h0M123.8 85.8h0M93.8 61.6h0M91.3 102.4h0M115.8 106.8h0M125.5 81.2h0M122.2 92.1h0M115.2 79.4h0M112.2 88.8h0M96.9 90.5h0M87.3 80.1h0M109.1 97.6h0M92.7 66.8h0M107.6 90.3h0M109.5 73.1h0M87.2 80.6h0M97.1 79.2h0M124.1 92.5h0M108.0 92.2h0M96.8 63.6h0M87.0 66.6h0M120.1 77.9h0M91.9 99.5h0M104.4 82.7h0M93.2 73.8h0M114.4 108.8h0M91.3 78.8h0M114.7 103.0h0M94.8 94.3h0M90.7 86.0h0M114.6 100.7h0M113.6 81.3h0M95.3 93.8h0M119.0 80.4h0M92.5 120.4h0M119.2 109.9h0M127.0 121.5h0M126.1 107.4h0M118.2 69.5h0M68.9 80.9h0M89.9 86.1h0M118.9 123.6h0M99.3 91.3h0M93.5 59.0h0M124.5 93.1h0M92.1 118.2h0M107.4 110.6h0M87.9 87.4h0M99.7 102.5h0M107.9 98.4h0M128.6 78.7h0M110.2 69.3h0M93.5 72.3h0M97.6 77.0h0M101.9 115.0h0M112.0 110.8h0M114.6 88.7h0M119.2 69.0h0M124.0 97.7h0M94.9 73.8h0M96.8 67.9h0M113.5 100.1h0M126.0 105.3h0M99.2 80.2h0M102.5 110.9h0M119.7 113.1h0M95.5 71.7h0M91.9 106.9h0M119.8 102.3h0M123.2 76.6h0M128.1 88.0h0M118.4 120.9h0M111.7 70.6h0M86.6 93.6h0M83.2 125.8h0M120.6 124.8h0M104.9 107.6h0M99.9 78.8h0M110.4 104.8h0M66.1 78.2h0M125.4 97.6h0M89.0 88.0h0M105.9 98.5h0M91.3 80.3h0M119.2 79.1h0M112.6 90.9h0M116.8 113.7h0M114.8 110.4h0M92.2 83.7h0M118.1 65.1h0M87.7 62.1h0M94.2 73.7h0M113.2 118.5h0M106.9 65.7h0M124.3 117.6h0M95.0 100.4h0M128.7 88.4h0M92.4 63.2h0M94.2 74.8h0M119.7 113.4h0M92.5 68.9h0M108.0 75.1h0M110.3 97.7h0M101.5 63.0h0M100.2 94.3h0M110.3 82.9h0M114.6 73.9h0M92.9 79.3h0" stroke="#1d5f5e" stroke-width="1.1" stroke-linecap="square" fill="none"/><path d="M128.7 64.6h0M129.4 66.1h0M106.6 89.1h0M110.3 49.2h0M121.7 74.7h0M125.8 34.4h0M128.1 60.0h0M116.6 43.7h0M108.8 70.0h0M129.3 34.7h0M122.7 64.7h0M106.1 78.5h0M105.1 65.6h0M99.9 85.0h0M130.8 44.6h0M120.0 88.3h0M108.4 93.5h0M111.6 83.8h0M110.2 49.1h0M131.1 38.4h0M103.7 90.1h0M100.2 67.2h0M120.8 40.0h0M117.2 51.9h0M111.6 47.2h0M128.6 35.7h0M99.1 68.6h0M117.6 38.4h0M114.5 94.8h0M105.2 63.9h0M129.3 64.7h0M107.6 84.4h0M132.2 40.0h0M131.1 45.6h0M119.1 40.7h0M118.3 36.8h0M116.6 52.5h0M106.3 74.3h0M114.5 84.6h0M109.5 51.1h0M99.0 77.4h0M129.9 48.0h0M130.5 41.7h0M111.2 94.7h0M118.6 42.5h0M100.9 82.2h0M126.4 63.3h0M132.5 42.5h0M130.1 45.6h0" stroke="#2b2e80" stroke-width="1.1" stroke-linecap="square" fill="none"/><path d="M81.9 52.4h0M74.8 70.9h0M85.8 50.9h0M74.9 62.2h0M91.1 48.0h0M82.3 67.9h0M74.1 54.7h0M79.4 54.9h0M67.9 61.8h0M78.0 88.1h0M88.8 61.8h0M92.3 52.3h0M68.4 68.3h0M67.5 70.5h0M78.9 64.5h0M86.5 63.9h0M99.7 55.0h0M73.2 52.6h0M91.4 60.4h0M83.7 107.3h0M89.1 49.0h0M87.8 60.4h0M81.3 48.0h0M71.2 66.9h0M77.0 56.9h0M80.7 57.1h0M89.2 49.3h0M89.2 61.1h0M105.1 50.7h0M75.8 54.0h0M77.3 47.3h0M69.9 75.3h0M103.0 50.0h0M82.3 53.6h0M66.1 63.5h0M70.2 57.5h0M88.8 59.3h0M68.3 51.7h0M101.1 45.9h0M73.2 65.2h0M98.3 49.7h0M94.1 56.3h0M93.3 47.1h0M63.5 87.9h0M71.9 61.5h0M64.1 69.7h0M74.1 57.1h0M78.1 77.2h0M90.7 45.4h0M87.9 52.3h0M76.4 69.8h0M91.7 56.9h0M99.6 45.0h0M82.1 52.3h0M70.1 63.8h0M81.3 66.1h0M68.2 70.0h0M78.6 57.4h0M69.6 75.5h0M72.6 68.9h0M94.6 56.4h0M76.2 78.4h0M78.6 59.5h0" stroke="#5d9db2" stroke-width="1.1" stroke-linecap="square" fill="none"/><path d="M45.2 84.1h0M53.6 80.9h0M52.1 102.0h0M43.6 107.4h0M55.5 87.7h0M58.0 110.7h0M69.8 126.1h0M47.7 95.2h0M39.1 95.3h0M45.0 83.6h0M52.7 115.1h0M92.0 121.0h0M76.4 128.0h0M50.2 118.2h0M71.7 99.3h0M51.0 113.1h0M44.8 95.2h0M80.1 130.8h0M52.6 121.9h0M89.0 142.3h0M36.7 104.3h0M63.7 104.1h0M70.9 113.2h0M59.0 112.2h0M68.5 112.0h0M41.9 94.7h0M29.3 75.8h0M79.6 132.9h0M73.0 121.3h0M44.9 116.1h0M58.0 94.9h0M51.5 90.6h0M52.8 105.1h0M37.9 70.8h0M48.3 90.2h0M51.1 80.5h0M44.9 112.6h0M63.5 80.3h0M35.7 88.2h0M39.5 73.9h0M58.5 127.2h0M46.8 105.2h0M53.0 94.9h0M37.1 80.6h0M45.0 117.4h0M44.2 99.2h0M33.6 80.4h0M41.2 106.5h0M49.4 110.3h0M48.6 119.5h0M45.3 88.2h0M29.6 78.7h0M55.3 107.5h0M80.8 107.0h0M41.1 113.4h0M47.3 92.3h0M72.5 121.9h0M34.2 89.7h0M71.8 123.9h0M32.3 89.2h0M37.3 99.0h0M77.1 126.1h0M63.5 91.7h0M28.4 80.1h0M73.8 120.2h0M30.3 87.4h0M63.0 106.3h0M56.4 117.4h0M32.6 94.9h0M49.5 91.1h0M54.0 117.3h0M61.0 109.3h0M50.6 105.2h0M37.9 102.7h0M65.0 129.0h0M35.2 87.9h0M30.9 94.6h0M37.5 100.0h0M49.5 76.3h0M36.6 85.2h0M42.4 119.4h0M68.1 103.4h0M51.7 96.3h0M101.2 148.7h0M53.1 119.7h0M46.9 98.8h0M49.0 101.4h0M28.7 76.9h0M32.5 84.0h0M61.5 115.2h0M56.3 92.4h0M57.0 116.6h0M55.6 89.9h0M34.6 101.8h0M44.7 114.6h0M61.6 103.6h0M39.9 72.0h0M40.1 95.7h0M108.8 120.9h0M35.0 85.7h0M59.9 120.8h0M34.9 100.2h0M46.6 105.3h0M57.0 94.1h0M56.9 108.1h0M39.8 70.9h0M52.3 117.6h0M58.8 127.2h0M44.4 111.1h0M38.9 91.1h0M52.7 79.0h0M59.5 108.1h0M74.9 103.3h0M38.4 69.9h0M47.6 88.8h0M35.8 107.5h0M55.5 102.8h0M38.3 96.3h0M70.7 122.5h0M60.9 124.5h0M71.6 125.2h0M28.1 92.5h0M50.3 117.5h0M69.7 129.5h0M35.0 84.2h0M47.5 77.9h0M106.8 109.4h0M39.1 116.2h0M78.0 124.8h0M28.3 86.3h0" stroke="#a1161c" stroke-width="1.1" stroke-linecap="square" fill="none"/><path d="M115.3 132.3h0M113.9 126.1h0M105.0 128.9h0M106.4 127.8h0M107.0 136.3h0M87.0 125.4h0M101.8 144.8h0M113.3 139.4h0M93.2 120.8h0M92.9 109.6h0M115.3 128.1h0M106.1 133.4h0M76.6 92.3h0M86.7 134.2h0M87.4 119.9h0" stroke="#8b7f8e" stroke-width="1.1" stroke-linecap="square" fill="none"/><path d="M96.9 98.1h0M110.9 75.4h0M95.3 84.1h0M88.1 128.1h0M121.0 70.4h0M105.8 109.1h0M117.1 82.3h0M113.5 81.6h0M116.5 102.3h0M95.9 103.9h0M116.0 100.0h0M127.8 115.7h0M125.4 122.4h0M120.2 86.3h0M94.3 66.7h0M102.7 96.8h0M100.6 150.5h0M97.0 103.5h0M99.3 79.9h0M101.1 100.5h0M115.3 108.1h0M126.9 103.6h0M123.9 121.0h0M128.0 92.6h0M112.3 98.7h0M121.7 115.4h0M106.2 124.9h0M112.8 95.4h0M100.6 76.1h0M129.2 89.3h0M109.0 63.1h0M65.4 75.9h0M125.0 84.7h0M88.0 115.4h0M124.8 104.1h0M101.5 73.3h0M127.8 105.2h0M125.6 98.1h0M127.2 109.1h0M86.6 87.4h0M106.0 75.6h0M120.4 81.9h0M101.5 110.6h0M119.3 87.9h0M96.0 85.8h0M122.2 94.3h0M129.3 89.0h0M111.1 64.9h0M127.5 114.1h0" stroke="#1d5f5e" stroke-width="1.1" stroke-linecap="square" fill="none"/><path d="M114.8 71.4h0M129.4 47.0h0M107.9 79.2h0M127.1 53.8h0M115.5 72.2h0M128.2 66.7h0M118.5 57.7h0M115.9 77.2h0M128.3 67.4h0M128.7 68.1h0M118.1 39.6h0M100.9 91.7h0M109.4 73.0h0M117.0 80.4h0M113.6 69.0h0M124.6 62.4h0M116.8 71.9h0M106.5 78.3h0M114.6 88.5h0" stroke="#2b2e80" stroke-width="1.1" stroke-linecap="square" fill="none"/><path d="M69.0 80.2h0M74.8 65.4h0M94.5 45.7h0M82.6 52.2h0M87.2 46.0h0M95.0 58.8h0M74.5 73.5h0M77.6 59.5h0M75.8 75.7h0M61.5 82.0h0M75.6 71.1h0M96.1 51.7h0" stroke="#5d9db2" stroke-width="1.1" stroke-linecap="square" fill="none"/><path d="M60.6 98.9h0M37.5 102.5h0M48.8 106.0h0M67.4 130.6h0M88.0 97.9h0M106.9 141.7h0M57.2 115.2h0M65.4 127.6h0M55.1 86.4h0M59.9 112.0h0M97.0 107.1h0M59.8 97.6h0M39.1 105.7h0M45.9 71.3h0M48.2 92.8h0M51.0 94.7h0M56.5 120.1h0M82.4 124.7h0M44.2 115.8h0M69.9 126.8h0M51.7 87.9h0M36.6 85.3h0M35.1 83.2h0M49.8 81.7h0M54.5 118.8h0M54.2 85.2h0M54.2 96.6h0M72.1 123.3h0M42.8 93.7h0M51.1 82.9h0M55.2 87.1h0M49.0 108.5h0M34.3 108.1h0M53.2 106.8h0" stroke="#a1161c" stroke-width="1.1" stroke-linecap="square" fill="none"/><text x="-0.2" y="10.7" font-size="13" fill="#111" font-weight="bold" style="letter-spacing:0">a</text><text x="13.3" y="21.6" font-size="8.5">Tumor-infiltrating CD4<tspan font-size="5.5" dy="-2.5">+</tspan><tspan dy="2.5">​</tspan> T cells</text><circle cx="146" cy="66.0" r="3.1" fill="#a1161c"/><text x="153.3" y="68.7" font-size="7.5" style="letter-spacing:0.1px">T<tspan font-size="4.8" dy="1.8">reg</tspan><tspan dy="-1.8"> </tspan>cells</text><circle cx="146" cy="79.0" r="3.1" fill="#8b7f8e"/><text x="153.3" y="81.7" font-size="7.5" style="letter-spacing:0.1px">CD4<tspan font-size="4.8" dy="-3">+</tspan><tspan dy="3">​</tspan> T<tspan font-size="4.8" dy="1.8">N</tspan><tspan dy="-1.8"> </tspan></text><circle cx="146" cy="91.8" r="3.1" fill="#1d5f5e"/><text x="153.3" y="94.5" font-size="7.5" style="letter-spacing:0.1px">CD4<tspan font-size="4.8" dy="-3">+</tspan><tspan dy="3">​</tspan> T<tspan font-size="4.8" dy="1.8">M</tspan><tspan dy="-1.8"> </tspan></text><circle cx="146" cy="104.9" r="3.1" fill="#5d9db2"/><text x="153.3" y="107.6" font-size="7.5" style="letter-spacing:0.1px">CD4<tspan font-size="4.8" dy="-3">+</tspan><tspan dy="3">​</tspan> T<tspan font-size="4.8" dy="1.8">FH</tspan><tspan dy="-1.8"> </tspan></text><circle cx="146" cy="117.8" r="3.1" fill="#2b2e80"/><text x="153.3" y="120.5" font-size="7.5" style="letter-spacing:0.1px">CD4<tspan font-size="4.8" dy="-3">+</tspan><tspan dy="3">​</tspan> T<tspan font-size="4.8" dy="1.8">EM</tspan><tspan dy="-1.8"> </tspan></text><path d="M35.0 132.89999999999998V150.7H52.0" stroke="#3d5470" stroke-width="1.2" fill="none"/><path d="M32.8 134.89999999999998L35.0 130.89999999999998L37.2 134.89999999999998Z" fill="#3d5470"/><path d="M50.0 148.5L54.0 150.7L50.0 152.89999999999998Z" fill="#3d5470"/><text x="28.1" y="158.6" font-size="8.4" transform="rotate(-90 28.1 158.6)" style="letter-spacing:0">UMAP 2</text><text x="30.4" y="162.9" font-size="8.2" style="letter-spacing:0">UMAP 1</text><path d="M214.6 75.0L217.8 68.5L224.3 65.3L233.9 64.5L241.9 66.1L243.5 60.5L250.0 54.1L258.0 49.3L269.2 46.1L282.1 44.5L290.1 42.8L290.9 38.0L294.9 34.8L303.0 34.0L309.4 36.4L311.8 42.8L311.0 52.5L308.6 58.9L307.8 66.9L309.4 78.2L311.0 89.4L311.0 99.1L309.4 108.7L307.8 119.9L304.6 129.6L299.7 139.2L291.7 144.0L282.1 145.6L274.1 142.4L267.6 136.0L262.8 131.2L256.4 132.8L246.8 131.2L237.1 126.4L229.1 119.9L222.7 111.9L217.8 100.7L214.6 87.8Z" fill="#d6d6d6" stroke="#e2e2e2" stroke-width="2.2" stroke-linejoin="round"/><path d="M218.0 76.2L220.9 70.2L226.9 67.2L235.9 66.5L243.3 67.9L244.8 62.7L250.8 56.7L258.3 52.3L268.7 49.3L280.7 47.8L288.1 46.3L288.9 41.8L292.6 38.8L300.1 38.1L306.1 40.3L308.3 46.3L307.6 55.2L305.3 61.2L304.6 68.7L306.1 79.1L307.6 89.6L307.6 98.6L306.1 107.5L304.6 118.0L301.6 126.9L297.1 135.9L289.6 140.4L280.7 141.9L273.2 138.9L267.2 132.9L262.8 128.4L256.8 129.9L247.8 128.4L238.9 123.9L231.4 118.0L225.4 110.5L220.9 100.1L218.0 88.1Z" fill="none" stroke="#ececec" stroke-width="0.6"/><path d="M221.7 77.5L224.5 72.1L229.9 69.3L238.1 68.6L244.9 70.0L246.3 65.2L251.8 59.8L258.6 55.7L268.2 53.0L279.1 51.6L285.9 50.2L286.6 46.1L290.0 43.4L296.8 42.7L302.3 44.8L304.3 50.2L303.6 58.4L301.6 63.9L300.9 70.7L302.3 80.3L303.6 89.8L303.6 98.0L302.3 106.2L300.9 115.7L298.2 123.9L294.1 132.1L287.3 136.2L279.1 137.6L272.2 134.9L266.8 129.4L262.7 125.3L257.2 126.7L249.0 125.3L240.9 121.2L234.0 115.7L228.6 108.9L224.5 99.4L221.7 88.4Z" fill="none" stroke="#ececec" stroke-width="0.6"/><path d="M226.0 79.1L228.4 74.2L233.3 71.7L240.6 71.1L246.8 72.3L248.0 68.1L252.9 63.2L259.0 59.5L267.5 57.1L277.3 55.9L283.4 54.6L284.0 51.0L287.0 48.5L293.1 47.9L298.0 49.8L299.8 54.6L299.2 62.0L297.4 66.8L296.8 73.0L298.0 81.5L299.2 90.0L299.2 97.4L298.0 104.7L296.8 113.2L294.4 120.6L290.7 127.9L284.6 131.5L277.3 132.8L271.2 130.3L266.3 125.4L262.6 121.8L257.7 123.0L250.4 121.8L243.1 118.1L237.0 113.2L232.1 107.1L228.4 98.6L226.0 88.8Z" fill="none" stroke="#ececec" stroke-width="0.6"/><path d="M230.7 80.8L232.9 76.5L237.1 74.4L243.5 73.9L248.8 74.9L249.8 71.2L254.1 67.0L259.4 63.8L266.8 61.7L275.3 60.6L280.6 59.6L281.1 56.4L283.7 54.3L289.0 53.7L293.3 55.3L294.9 59.6L294.3 65.9L292.7 70.2L292.2 75.5L293.3 82.9L294.3 90.3L294.3 96.7L293.3 103.0L292.2 110.4L290.1 116.8L286.9 123.2L281.6 126.3L275.3 127.4L270.0 125.3L265.7 121.0L262.5 117.9L258.3 118.9L251.9 117.9L245.6 114.7L240.3 110.4L236.0 105.1L232.9 97.7L230.7 89.2Z" fill="none" stroke="#ececec" stroke-width="0.6"/><path d="M235.9 82.6L237.7 79.1L241.2 77.3L246.5 76.9L251.0 77.8L251.8 74.7L255.4 71.1L259.8 68.5L266.0 66.7L273.0 65.8L277.5 65.0L277.9 62.3L280.1 60.5L284.5 60.1L288.1 61.4L289.4 65.0L288.9 70.3L287.6 73.8L287.2 78.2L288.1 84.4L288.9 90.6L288.9 95.9L288.1 101.2L287.2 107.4L285.4 112.7L282.8 118.0L278.3 120.6L273.0 121.5L268.6 119.7L265.1 116.2L262.4 113.5L258.9 114.4L253.6 113.5L248.3 110.9L243.9 107.4L240.4 102.9L237.7 96.8L235.9 89.7Z" fill="none" stroke="#ececec" stroke-width="0.6"/><ellipse cx="232" cy="92" rx="12" ry="20" transform="rotate(-25 232 92)" fill="none" stroke="#ececec" stroke-width="0.6"/><ellipse cx="232" cy="92" rx="9" ry="15" transform="rotate(-25 232 92)" fill="none" stroke="#ececec" stroke-width="0.6"/><ellipse cx="232" cy="90" rx="5" ry="9" transform="rotate(-25 232 90)" fill="none" stroke="#ececec" stroke-width="0.6"/><ellipse cx="282" cy="80" rx="14" ry="21" transform="rotate(10 282 80)" fill="none" stroke="#ececec" stroke-width="0.6"/><ellipse cx="282" cy="82" rx="10" ry="16" transform="rotate(10 282 82)" fill="none" stroke="#ececec" stroke-width="0.6"/><ellipse cx="282" cy="84" rx="6" ry="10" transform="rotate(10 282 84)" fill="none" stroke="#ececec" stroke-width="0.6"/><ellipse cx="268" cy="115" rx="7" ry="17" transform="rotate(-10 268 115)" fill="none" stroke="#ececec" stroke-width="0.6"/><ellipse cx="268" cy="115" rx="4" ry="11" transform="rotate(-10 268 115)" fill="none" stroke="#ececec" stroke-width="0.6"/><ellipse cx="300" cy="40" rx="6" ry="5" transform="rotate(0 300 40)" fill="none" stroke="#ececec" stroke-width="0.6"/><ellipse cx="300" cy="40" rx="3" ry="2.5" transform="rotate(0 300 40)" fill="none" stroke="#ececec" stroke-width="0.6"/><ellipse cx="255" cy="70" rx="5" ry="10" transform="rotate(30 255 70)" fill="none" stroke="#ececec" stroke-width="0.6"/><path d="M225.7 92.3h0M232.5 79.1h0M223.3 88.9h0M237.2 94.0h0M218.3 78.3h0M235.5 88.2h0M241.8 90.3h0M228.3 84.0h0M241.2 76.9h0M221.1 78.5h0M231.1 87.0h0M228.0 86.4h0M234.4 91.1h0M236.3 84.9h0M224.4 96.5h0M222.3 88.2h0M222.9 89.8h0M227.2 89.8h0M245.8 77.1h0M228.2 72.7h0M231.6 92.3h0M231.2 89.3h0M226.0 77.3h0M229.1 77.7h0M236.8 76.9h0M233.3 84.2h0M231.9 78.5h0M234.3 82.4h0M238.9 88.0h0M227.2 79.1h0M235.8 87.9h0M236.3 78.6h0M235.0 88.8h0M232.3 87.0h0M228.2 80.5h0M223.3 85.3h0M239.6 97.2h0M239.4 92.3h0M236.9 89.9h0M234.3 92.0h0M237.2 78.7h0M235.4 104.2h0M235.5 93.5h0M229.2 74.2h0M249.7 94.6h0M234.2 91.9h0M226.7 78.3h0M231.1 89.4h0M238.6 89.1h0M236.3 97.2h0M229.8 94.6h0M234.1 80.7h0M217.3 83.0h0M233.5 89.8h0M233.0 73.6h0M232.9 91.4h0M244.2 103.3h0M230.8 75.7h0M229.0 88.9h0M244.8 84.8h0M237.5 98.8h0M237.9 101.8h0M224.6 83.8h0M239.9 96.1h0M234.5 86.8h0M218.0 84.7h0M224.7 83.1h0M231.4 81.7h0M234.2 84.7h0M228.9 87.9h0M235.9 92.1h0M226.6 85.3h0M230.5 103.0h0M236.3 80.8h0M222.2 76.9h0M231.7 87.3h0M241.7 82.4h0M237.7 83.9h0M223.0 91.7h0M237.7 119.3h0M238.0 87.9h0M219.6 68.5h0M222.5 73.3h0M223.4 66.5h0M231.0 98.6h0M232.7 71.8h0M226.5 97.3h0M229.7 75.5h0M223.5 82.0h0M221.2 83.4h0M239.1 88.6h0M239.6 80.0h0M225.0 78.1h0M223.5 75.3h0M224.5 96.4h0M240.7 89.3h0M237.6 84.7h0M226.9 88.6h0M223.2 77.6h0M215.2 77.9h0M230.6 87.3h0M234.1 99.2h0M233.5 90.4h0M232.3 76.0h0M223.8 97.4h0M232.5 98.8h0M236.1 93.6h0M224.4 66.6h0M230.5 78.5h0M224.4 84.3h0M237.7 91.4h0M227.5 69.5h0M232.2 91.3h0M227.4 90.0h0M235.6 93.9h0M222.3 81.2h0M234.1 102.7h0M234.7 82.1h0M231.6 86.4h0M230.1 83.7h0M222.8 76.3h0M234.2 101.5h0M232.9 85.2h0M229.2 87.1h0M228.8 79.7h0M232.0 87.5h0M222.8 81.3h0M220.4 79.7h0M226.0 81.6h0M227.4 88.4h0M235.8 83.7h0M226.6 81.2h0M233.4 94.0h0M223.0 77.4h0M218.9 80.0h0M228.2 98.8h0M230.7 83.1h0M234.2 76.7h0M237.2 90.8h0M215.5 76.9h0M229.5 96.0h0M230.8 72.4h0M233.4 80.1h0M225.6 82.4h0M220.3 71.6h0M219.6 78.2h0M241.7 102.3h0M241.8 76.1h0M219.8 87.0h0M234.3 105.1h0M229.5 78.4h0M236.9 88.1h0M219.7 85.7h0M228.9 86.8h0M229.1 82.8h0M228.3 80.6h0M232.4 101.0h0M233.7 88.7h0M221.5 88.7h0M228.2 73.1h0M233.6 79.9h0M231.4 83.8h0M236.4 95.5h0M235.0 100.2h0M222.0 80.2h0M228.7 75.2h0M232.2 94.6h0M228.0 68.0h0M240.9 100.5h0M234.7 80.9h0M225.8 85.1h0M223.2 86.8h0M228.4 85.3h0M234.7 81.0h0M227.6 98.6h0M222.8 85.0h0M227.8 83.5h0M224.0 86.5h0M237.9 75.3h0M234.4 95.8h0M237.0 90.5h0M225.4 67.3h0M226.4 89.3h0M238.2 95.6h0M231.2 82.8h0M229.2 84.1h0M234.2 91.0h0M224.7 80.1h0M230.7 97.4h0M240.6 91.0h0M237.9 90.8h0M232.9 91.6h0M224.0 87.0h0M229.7 94.0h0M226.7 86.6h0M238.0 96.3h0M222.0 80.2h0M229.0 74.6h0M229.7 80.1h0M221.4 71.0h0M231.2 80.0h0M234.9 105.7h0M249.1 113.6h0M230.4 82.0h0M237.7 99.2h0M231.9 89.9h0M228.4 77.0h0M228.4 81.5h0M227.8 96.5h0M233.6 84.9h0M216.6 71.5h0M231.9 83.9h0M221.6 89.8h0M222.5 89.7h0M232.3 88.6h0M231.8 86.9h0M222.8 85.7h0M226.5 85.3h0M234.1 90.5h0M231.1 83.3h0M245.2 88.0h0M223.8 93.6h0M231.9 95.7h0M224.4 87.9h0M228.9 85.5h0M233.5 96.0h0M247.1 111.1h0M238.2 100.0h0M244.7 109.0h0M241.3 106.3h0M243.0 96.4h0M233.4 95.6h0M237.0 102.9h0M236.2 103.7h0M247.5 101.2h0M249.3 119.6h0M235.7 95.6h0M240.1 99.5h0M243.3 95.2h0M234.4 97.4h0M238.8 99.6h0M240.5 103.8h0M243.2 112.9h0M245.5 104.5h0M235.1 101.3h0M251.3 120.0h0M237.7 102.2h0M235.8 100.8h0M237.9 106.7h0M247.0 103.1h0M234.6 97.2h0M242.6 105.4h0M233.9 101.9h0M245.4 112.2h0M244.9 106.0h0M242.0 108.6h0M249.6 119.2h0M236.8 106.0h0M245.5 101.9h0M246.8 102.9h0M241.2 103.5h0M233.8 102.9h0M251.9 105.5h0M247.4 110.6h0M247.5 111.1h0M240.3 105.2h0M244.2 101.9h0M236.6 107.3h0M242.3 110.8h0M235.8 101.0h0M246.3 116.1h0M242.4 107.1h0M243.1 107.8h0M250.1 112.6h0M241.1 117.5h0M240.9 104.1h0M249.7 100.2h0M252.1 108.0h0M240.1 111.0h0M244.1 103.8h0M232.7 108.6h0M237.5 99.7h0M247.5 100.9h0M239.6 105.0h0M236.6 102.9h0M243.4 107.7h0M239.9 106.5h0M239.0 111.9h0M240.2 108.8h0M237.1 104.7h0M238.5 98.2h0M250.4 100.8h0M239.2 101.7h0M252.4 111.2h0M238.2 97.1h0M242.4 110.7h0M236.1 99.8h0M235.2 103.7h0M239.8 102.0h0M251.8 122.9h0M244.5 96.2h0M243.5 105.8h0M245.2 112.6h0M239.7 104.7h0M240.4 106.1h0M249.2 108.1h0M235.8 106.0h0M242.1 112.5h0M245.9 110.9h0M235.1 94.6h0M244.4 106.5h0M239.2 97.1h0M239.9 101.7h0M240.9 109.5h0M240.1 99.9h0M244.9 108.1h0M248.3 122.5h0M249.8 109.0h0M247.4 119.7h0M255.0 122.7h0M251.1 118.8h0M246.8 116.2h0M249.0 114.9h0M250.2 116.4h0M251.0 123.7h0M252.2 119.7h0M249.3 111.9h0M249.7 120.2h0M247.0 123.0h0M249.0 119.5h0M249.0 113.0h0M256.2 113.4h0M252.8 115.8h0M250.8 114.8h0M248.8 121.7h0M255.8 114.6h0M250.0 121.8h0M248.1 120.8h0M247.6 120.4h0M251.3 122.8h0M286.8 66.6h0M288.9 68.2h0M283.1 99.0h0M287.0 74.5h0M289.9 84.0h0M272.1 73.8h0M292.9 78.8h0M282.8 76.2h0M269.1 71.2h0M283.3 83.0h0M285.0 54.7h0M288.8 90.5h0M285.8 97.0h0M279.0 72.2h0M279.3 100.2h0M268.4 74.5h0M274.0 85.4h0M293.2 79.0h0M271.2 78.5h0M282.6 61.4h0M289.2 75.3h0M289.6 65.7h0M293.2 64.9h0M293.8 60.5h0M292.7 77.9h0M269.4 74.7h0M286.1 68.9h0M276.5 82.3h0M287.3 43.7h0M276.6 84.3h0M280.8 92.3h0M269.2 108.8h0M286.5 85.0h0M287.1 93.0h0M283.3 72.9h0M288.0 86.7h0M268.9 63.9h0M284.4 82.1h0M281.6 88.0h0M278.2 98.8h0M277.4 74.3h0M281.7 89.3h0M283.5 98.8h0M274.4 92.9h0M287.3 68.5h0M274.7 104.3h0M288.3 75.8h0M264.1 67.4h0M275.3 79.7h0M297.2 92.6h0M285.8 69.5h0M272.2 75.6h0M269.8 114.5h0M279.4 72.1h0M289.6 82.8h0M268.1 93.1h0M281.9 63.9h0M282.3 86.3h0M276.6 87.6h0M289.6 71.0h0M270.9 48.5h0M276.9 94.2h0M285.4 98.0h0M295.5 83.3h0M293.1 63.8h0M285.4 85.8h0M281.4 74.7h0M271.9 79.8h0M291.9 77.8h0M286.8 73.1h0M285.5 68.6h0M284.5 78.1h0M285.0 73.4h0M272.6 74.2h0M285.2 100.3h0M276.5 88.8h0M286.0 85.9h0M268.1 81.2h0M270.5 92.2h0M285.6 88.6h0M259.6 83.1h0M289.7 66.2h0M288.4 82.5h0M281.3 71.3h0M274.1 73.2h0M304.6 87.5h0M284.2 72.7h0M277.5 72.5h0M271.9 88.8h0M276.7 89.7h0M269.6 89.0h0M279.1 87.8h0M282.4 69.4h0M291.6 76.9h0M282.1 69.4h0M283.6 75.8h0M282.3 84.5h0M279.1 62.3h0M282.1 91.5h0M289.3 67.7h0M284.8 85.5h0M282.1 85.5h0M277.9 82.0h0M289.5 75.6h0M270.0 76.4h0M287.1 58.7h0M274.2 85.8h0M279.6 80.8h0M268.9 88.5h0M295.2 80.6h0M278.2 65.2h0M287.7 82.7h0M271.8 92.9h0M285.5 88.4h0M267.5 75.9h0M289.0 66.7h0M284.7 98.3h0M290.9 73.2h0M273.1 89.9h0M285.7 96.1h0M290.6 80.8h0M282.4 57.5h0M281.5 108.0h0M278.6 73.6h0M285.1 85.5h0M272.1 69.3h0M267.4 101.9h0M273.3 88.8h0M291.3 105.4h0M288.1 101.5h0M272.2 73.9h0M276.0 75.4h0M305.7 64.7h0M288.5 66.4h0M288.2 97.5h0M271.8 103.4h0M278.3 95.4h0M284.8 73.9h0M278.3 78.0h0M285.5 82.5h0M300.0 81.7h0M279.1 70.8h0M278.5 61.8h0M271.0 89.0h0M281.9 78.1h0M281.1 93.1h0M283.9 90.1h0M277.3 76.0h0M275.2 77.6h0M275.5 74.3h0M280.2 77.2h0M280.1 73.8h0M292.1 78.2h0M272.6 80.6h0M275.2 65.6h0M285.8 60.6h0M255.1 78.0h0M293.3 62.1h0M272.5 85.3h0M267.6 66.4h0M272.1 75.7h0M263.3 87.2h0M279.1 83.3h0M283.7 54.6h0M283.2 64.0h0M283.2 70.0h0M279.0 77.0h0M285.1 90.3h0M273.2 78.1h0M291.2 88.2h0M275.6 77.4h0M275.9 90.5h0M280.3 84.5h0M301.7 67.5h0M277.4 58.0h0M266.4 87.4h0M279.2 99.6h0M267.7 66.4h0M289.7 94.5h0M285.7 91.7h0M281.3 79.9h0M279.1 89.9h0M278.9 83.5h0M295.2 69.2h0M273.7 85.4h0M279.3 77.7h0M296.4 88.4h0M275.0 92.2h0M303.5 71.2h0M275.5 80.3h0M270.6 104.4h0M286.1 76.2h0M286.8 71.5h0M276.0 80.2h0M305.3 57.6h0M280.9 96.6h0M282.0 103.8h0M284.2 82.5h0M282.1 69.7h0M296.7 68.8h0M281.3 73.6h0M280.4 52.6h0M277.7 81.0h0M280.0 90.2h0M281.3 72.2h0M281.7 88.3h0M277.7 60.7h0M270.3 90.7h0M291.0 71.3h0M279.8 90.0h0M293.0 74.5h0M275.6 96.1h0M296.0 102.0h0M271.0 83.4h0M278.8 78.8h0M277.0 73.3h0M276.4 101.1h0M285.4 86.2h0M283.1 71.2h0M276.1 94.2h0M282.6 104.4h0M283.1 80.2h0M267.3 82.0h0M263.7 95.0h0M276.1 79.0h0M271.7 71.9h0M270.9 91.7h0M285.9 66.6h0M266.1 76.0h0M280.0 66.2h0M286.1 78.8h0M283.3 73.3h0M277.7 73.7h0M266.9 84.7h0M288.5 60.4h0M278.9 93.7h0M279.6 95.6h0M278.9 79.6h0M273.1 67.2h0M269.0 66.5h0M281.6 86.5h0M289.8 83.5h0M272.2 83.4h0M275.4 100.7h0M293.9 94.5h0M273.4 71.9h0M284.3 72.0h0M283.4 88.9h0M287.0 84.1h0M276.2 68.6h0M276.7 95.4h0M290.9 94.1h0M282.2 88.5h0M284.2 96.5h0M291.5 63.4h0M287.5 86.1h0M276.1 85.4h0M283.4 79.8h0M267.5 78.5h0M285.5 80.4h0M267.4 82.7h0M286.2 83.3h0M285.2 76.6h0M274.5 85.1h0M277.8 81.6h0M304.7 93.8h0M286.1 61.2h0M279.9 89.1h0M276.1 76.0h0M262.0 82.8h0M274.6 87.0h0M292.1 80.4h0M288.1 84.6h0M280.1 76.4h0M271.1 93.7h0M290.4 69.7h0M289.4 72.8h0M266.2 91.6h0M268.0 91.8h0M280.3 90.9h0M275.6 107.2h0M274.7 102.6h0M274.2 106.8h0M271.0 106.1h0M280.5 97.5h0M275.2 93.9h0M271.6 100.1h0M271.3 90.9h0M272.9 99.5h0M274.6 103.7h0M264.1 109.3h0M272.1 91.8h0M271.1 101.5h0M277.4 95.1h0M273.8 85.2h0M273.8 97.1h0M270.8 105.1h0M282.0 106.3h0M269.1 110.2h0M271.3 97.7h0M270.1 101.6h0M275.8 99.2h0M272.0 96.9h0M271.0 105.8h0M270.4 96.8h0M272.0 92.0h0M271.9 86.3h0M275.0 102.3h0M271.5 110.4h0M268.9 102.4h0M275.4 93.7h0M271.8 105.1h0M273.3 100.3h0M280.0 99.7h0M264.7 92.1h0M277.2 97.0h0M267.6 82.3h0M274.6 110.0h0M266.8 80.7h0M275.5 93.7h0M271.5 95.4h0M268.5 101.5h0M277.6 100.9h0M270.2 106.3h0M272.5 102.6h0M268.4 103.2h0M276.7 108.3h0M273.1 101.5h0M270.1 105.0h0M276.9 106.6h0M271.1 88.3h0M272.7 96.4h0M269.3 102.8h0M277.7 101.1h0M278.5 101.1h0M268.2 93.4h0M271.3 103.4h0M277.6 99.1h0M278.0 91.5h0M272.4 109.8h0M275.2 106.3h0M263.7 84.8h0M268.7 106.0h0M281.0 93.1h0M268.1 90.0h0M268.6 102.4h0M271.5 112.8h0M276.6 92.6h0M274.2 96.8h0M276.9 105.2h0M271.3 105.1h0M275.8 97.3h0M274.3 103.4h0M271.4 92.7h0M279.3 98.1h0M270.1 101.7h0M265.8 98.5h0M266.3 94.7h0M264.2 92.4h0M277.4 96.6h0M281.0 80.3h0M283.9 78.8h0M284.4 61.4h0M296.1 67.5h0M290.8 77.0h0M280.6 70.5h0M284.2 73.6h0M287.0 62.6h0M287.3 74.5h0M285.6 73.3h0M284.4 69.7h0M288.7 70.9h0M293.3 75.6h0M291.2 74.3h0M287.8 63.2h0M292.2 80.3h0M288.1 68.5h0M286.9 77.1h0M288.4 64.3h0M286.2 65.5h0M286.0 64.8h0M282.8 78.8h0M292.2 60.6h0M282.2 67.4h0M285.1 61.9h0M291.4 60.6h0M290.4 74.1h0M285.2 66.2h0M287.3 70.9h0M276.8 62.7h0M289.6 69.4h0M285.0 64.2h0M283.6 65.6h0M300.7 62.7h0M294.5 72.9h0M288.1 71.2h0M285.2 79.5h0M289.5 69.9h0M286.4 71.2h0M281.5 68.2h0M284.0 73.7h0M290.0 59.1h0M286.0 75.8h0M280.7 63.1h0M291.9 69.3h0M284.8 62.9h0M287.9 66.8h0M288.1 72.5h0M290.5 68.1h0M284.5 70.2h0M294.3 75.2h0M292.2 73.1h0M291.0 71.0h0M297.7 81.0h0M294.5 78.2h0M295.1 74.4h0M293.9 69.9h0M296.2 75.3h0M287.3 79.9h0M301.0 85.6h0M292.0 75.7h0M292.0 67.7h0M298.0 75.6h0M288.8 67.4h0M300.0 89.2h0M291.7 56.4h0M291.9 80.1h0M292.0 70.2h0M295.7 74.0h0M295.4 75.4h0M295.4 83.3h0M296.3 81.6h0M295.7 73.6h0M294.2 73.6h0M289.0 73.9h0M290.3 63.6h0M293.9 82.3h0M291.4 63.6h0M294.9 73.3h0M295.3 71.0h0M291.4 69.6h0M294.1 73.1h0M291.6 72.6h0M294.2 78.7h0M287.2 65.4h0M295.0 81.8h0M294.8 78.6h0M294.2 70.1h0M297.2 76.4h0M291.9 69.7h0M290.2 66.1h0M291.7 70.7h0M296.0 75.7h0M295.1 80.1h0M296.9 73.2h0M275.9 122.5h0M264.2 112.9h0M285.1 135.8h0M275.9 131.6h0M297.1 134.8h0M264.8 127.8h0M282.4 127.1h0M279.8 112.6h0M279.5 131.4h0M286.8 115.4h0M283.7 125.7h0M285.0 117.7h0M276.5 111.4h0M278.0 113.1h0M270.1 105.4h0M287.1 108.1h0M271.9 117.6h0M291.1 129.3h0M278.2 108.8h0M277.3 109.9h0M277.2 122.3h0M273.6 111.1h0M279.2 117.8h0M275.7 111.0h0M273.2 111.3h0M284.7 115.8h0M259.4 123.5h0M280.5 110.2h0M279.2 90.9h0M269.5 128.4h0M295.9 137.5h0M275.9 118.4h0M286.4 107.0h0M293.2 111.5h0M283.5 107.7h0M283.6 117.9h0M288.6 107.7h0M280.9 134.3h0M272.7 121.2h0M284.1 113.6h0M260.4 70.5h0M268.8 65.4h0M263.6 55.2h0M262.6 72.7h0M268.3 53.9h0M249.6 58.0h0M263.0 58.7h0M260.2 64.1h0M267.4 63.3h0M269.5 53.5h0M264.8 64.6h0M253.1 69.5h0M252.4 53.3h0M278.0 69.8h0M264.3 70.1h0M268.9 55.2h0M264.9 70.4h0M261.0 62.4h0M259.2 66.4h0M258.7 58.5h0M254.6 56.4h0M263.3 64.8h0M259.7 55.7h0M264.1 64.2h0M269.7 59.0h0M259.5 65.1h0M271.2 61.7h0M261.5 56.3h0M259.7 67.7h0M267.1 68.7h0M270.9 123.5h0M269.9 90.0h0M275.9 134.6h0M266.1 112.7h0M259.3 101.3h0M262.4 128.3h0M262.5 126.6h0M286.3 89.9h0M302.0 83.7h0M290.3 103.3h0M272.4 53.9h0M270.6 73.9h0M271.9 135.8h0M262.9 111.9h0M286.0 70.5h0M270.1 60.2h0M299.6 71.2h0M270.7 79.4h0M295.1 126.2h0M281.0 98.2h0M251.1 130.5h0M250.4 81.4h0M267.8 114.5h0M285.8 79.6h0M299.8 135.4h0M246.4 106.2h0M273.6 81.3h0M273.4 77.1h0M285.9 103.7h0M305.5 84.4h0M295.5 107.8h0M287.8 139.8h0M249.1 90.5h0M269.5 108.4h0M257.8 82.0h0M253.7 84.3h0M290.3 55.7h0M255.2 107.7h0M283.0 116.3h0M260.5 122.6h0M289.6 119.4h0M252.3 91.1h0M246.0 127.1h0" stroke="#d42a2a" stroke-width="1.85" stroke-linecap="square" fill="none"/><ellipse cx="236" cy="96" rx="19.5" ry="43" transform="rotate(-28 236 96)" fill="none" stroke="#2a2a2a" stroke-width="1.15" stroke-dasharray="3 1.8"/><text x="199.2" y="10.7" font-size="13" fill="#111" font-weight="bold">b</text><text x="207.9" y="21.8" font-size="8.5">Tumor-infiltrating CD4<tspan font-size="5.5" dy="-2.5">+</tspan><tspan dy="2.5">​</tspan> T cells</text><text x="208.0" y="51.0" font-size="8.6">T<tspan font-size="5.5" dy="2">reg</tspan><tspan dy="-2"> </tspan>cells</text><circle cx="319.3" cy="84.1" r="2.6" fill="#d42a2a"/><text x="325.3" y="86.6" font-size="7.2">IL-23R<tspan font-size="4.8" dy="-3">+</tspan><tspan dy="3">​</tspan></text><path d="M213.1 132.9V150.8H230.2" stroke="#3d5470" stroke-width="1.2" fill="none"/><path d="M210.9 134.9L213.1 130.9L215.29999999999998 134.9Z" fill="#3d5470"/><path d="M228.2 148.60000000000002L232.2 150.8L228.2 153.0Z" fill="#3d5470"/><text x="206.3" y="158.6" font-size="8.4" transform="rotate(-90 206.3 158.6)" style="letter-spacing:0">UMAP 2</text><text x="208.6" y="162.9" font-size="8.2" style="letter-spacing:0">UMAP 1</text><text x="365.6" y="10.9" font-size="13" fill="#111" font-weight="bold">c</text><text x="378.0" y="22.0" font-size="8.2">Percentage of IL-23R<tspan font-size="5.2" dy="-2.5">+</tspan><tspan dy="2.5">​</tspan></text><text x="416.0" y="37.3" font-size="8.2" text-anchor="middle">CD4<tspan font-size="5.2" dy="-2.5">+</tspan><tspan dy="2.5">​</tspan> T cells</text><path d="M416.00 41.60A42.00 42.00 0 1 1 407.27 124.68L411.74 103.65A20.50 20.50 0 1 0 416.00 63.10Z" fill="#9c1a1e" stroke="#3a3a3a" stroke-width="0.35"/><path d="M407.27 124.68A42.00 42.00 0 0 1 375.84 95.88L396.40 89.59A20.50 20.50 0 0 0 411.74 103.65Z" fill="#1c5e5c" stroke="#3a3a3a" stroke-width="0.35"/><path d="M375.84 95.88A42.00 42.00 0 0 1 383.83 56.60L400.30 70.42A20.50 20.50 0 0 0 396.40 89.59Z" fill="#262a73" stroke="#3a3a3a" stroke-width="0.35"/><path d="M383.83 56.60A42.00 42.00 0 0 1 410.66 41.94L413.40 63.27A20.50 20.50 0 0 0 400.30 70.42Z" fill="#5b9bb1" stroke="#3a3a3a" stroke-width="0.35"/><path d="M410.66 41.94A42.00 42.00 0 0 1 416.00 41.60L416.00 63.10A20.50 20.50 0 0 0 413.40 63.27Z" fill="#8a7d8c" stroke="#3a3a3a" stroke-width="0.35"/><circle cx="416" cy="83.6" r="42" fill="none" stroke="#444" stroke-width="0.5"/><circle cx="416" cy="83.6" r="20.5" fill="none" stroke="#444" stroke-width="0.5"/><rect x="465.2" y="60.2" width="10.2" height="5.2" fill="#9c1a1e" stroke="#333" stroke-width="0.4"/><text x="478.8" y="65.6" font-size="7.4" style="letter-spacing:0.1px">T<tspan font-size="5.0" dy="2.0">reg</tspan><tspan dy="-2.0"> </tspan>cells</text><rect x="465.2" y="71.2" width="10.2" height="5.2" fill="#8a7d8c" stroke="#333" stroke-width="0.4"/><text x="478.8" y="76.6" font-size="7.4" style="letter-spacing:0.1px">CD4<tspan font-size="4.6" dy="-3">+</tspan><tspan dy="3">​</tspan> T<tspan font-size="5.0" dy="2.0">N</tspan><tspan dy="-2.0"> </tspan></text><rect x="465.2" y="82.2" width="10.2" height="5.2" fill="#1c5e5c" stroke="#333" stroke-width="0.4"/><text x="478.8" y="87.6" font-size="7.4" style="letter-spacing:0.1px">CD4<tspan font-size="4.6" dy="-3">+</tspan><tspan dy="3">​</tspan> T<tspan font-size="5.0" dy="2.0">M</tspan><tspan dy="-2.0"> </tspan></text><rect x="465.2" y="93.2" width="10.2" height="5.2" fill="#5b9bb1" stroke="#333" stroke-width="0.4"/><text x="478.8" y="98.6" font-size="7.4" style="letter-spacing:0.1px">CD4<tspan font-size="4.6" dy="-3">+</tspan><tspan dy="3">​</tspan> T<tspan font-size="5.0" dy="2.0">FH</tspan><tspan dy="-2.0"> </tspan></text><rect x="465.2" y="104.2" width="10.2" height="5.2" fill="#262a73" stroke="#333" stroke-width="0.4"/><text x="478.8" y="109.6" font-size="7.4" style="letter-spacing:0.1px">CD4<tspan font-size="4.6" dy="-3">+</tspan><tspan dy="3">​</tspan> T<tspan font-size="5.0" dy="2.0">EM</tspan><tspan dy="-2.0"> </tspan></text><text x="565.3" y="37.8" font-size="8.2" text-anchor="middle">T cells</text><path d="M565.80 42.60A42.80 42.80 0 0 1 568.49 42.68L567.13 64.24A21.20 21.20 0 0 0 565.80 64.20Z" fill="#86cfee" stroke="#3a3a3a" stroke-width="0.35"/><path d="M568.49 42.68A42.80 42.80 0 0 1 569.23 42.74L567.50 64.27A21.20 21.20 0 0 0 567.13 64.24Z" fill="#8fd5bb" stroke="#3a3a3a" stroke-width="0.35"/><path d="M569.23 42.74A42.80 42.80 0 0 1 572.50 43.13L569.12 64.46A21.20 21.20 0 0 0 567.50 64.27Z" fill="#4a6cc0" stroke="#3a3a3a" stroke-width="0.35"/><path d="M572.50 43.13A42.80 42.80 0 0 1 574.55 43.50L570.14 64.65A21.20 21.20 0 0 0 569.12 64.46Z" fill="#d6d6d6" stroke="#3a3a3a" stroke-width="0.35"/><path d="M574.55 43.50A42.80 42.80 0 0 1 579.03 44.69L572.35 65.24A21.20 21.20 0 0 0 570.14 64.65Z" fill="#a7dcc0" stroke="#3a3a3a" stroke-width="0.35"/><path d="M579.03 44.69A42.80 42.80 0 0 1 594.88 54.00L580.20 69.84A21.20 21.20 0 0 0 572.35 65.24Z" fill="#2c4a3d" stroke="#3a3a3a" stroke-width="0.35"/><path d="M594.88 54.00A42.80 42.80 0 0 1 599.76 59.35L582.62 72.49A21.20 21.20 0 0 0 580.20 69.84Z" fill="#1f8f55" stroke="#3a3a3a" stroke-width="0.35"/><path d="M599.76 59.35A42.80 42.80 0 0 1 607.43 75.48L586.42 80.49A21.20 21.20 0 0 0 582.62 72.49Z" fill="#f2f2f2" stroke="#3a3a3a" stroke-width="0.35"/><path d="M607.43 75.48A42.80 42.80 0 0 1 597.41 114.26L581.46 99.70A21.20 21.20 0 0 0 586.42 80.49Z" fill="#1d1d1d" stroke="#3a3a3a" stroke-width="0.35"/><path d="M597.41 114.26A42.80 42.80 0 0 1 533.01 112.91L549.56 99.03A21.20 21.20 0 0 0 581.46 99.70Z" fill="#9c1a1e" stroke="#3a3a3a" stroke-width="0.35"/><path d="M533.01 112.91A42.80 42.80 0 0 1 524.87 72.89L545.53 79.20A21.20 21.20 0 0 0 549.56 99.03Z" fill="#1c5e5c" stroke="#3a3a3a" stroke-width="0.35"/><path d="M524.87 72.89A42.80 42.80 0 0 1 530.91 60.61L548.52 73.12A21.20 21.20 0 0 0 545.53 79.20Z" fill="#8a7d8c" stroke="#3a3a3a" stroke-width="0.35"/><path d="M530.91 60.61A42.80 42.80 0 0 1 560.95 42.88L563.40 64.34A21.20 21.20 0 0 0 548.52 73.12Z" fill="#262a73" stroke="#3a3a3a" stroke-width="0.35"/><path d="M560.95 42.88A42.80 42.80 0 0 1 565.80 42.60L565.80 64.20A21.20 21.20 0 0 0 563.40 64.34Z" fill="#4f8ca6" stroke="#3a3a3a" stroke-width="0.35"/><circle cx="565.8" cy="85.4" r="42.8" fill="none" stroke="#444" stroke-width="0.5"/><circle cx="565.8" cy="85.4" r="21.2" fill="none" stroke="#444" stroke-width="0.5"/><rect x="620.7" y="29.6" width="10.2" height="5" fill="#86cfee" stroke="#333" stroke-width="0.35"/><text x="634.4" y="34.6" font-size="6.9">CD8<tspan font-size="4.3" dy="-2.7">+</tspan><tspan dy="2.7">​</tspan> TEMRA</text><rect x="620.7" y="38.7" width="10.2" height="5" fill="#8fd5bb" stroke="#333" stroke-width="0.35"/><text x="634.4" y="43.7" font-size="6.9">CD8<tspan font-size="4.3" dy="-2.7">+</tspan><tspan dy="2.7">​</tspan> NK-like</text><rect x="620.7" y="47.8" width="10.2" height="5" fill="#4a6cc0" stroke="#333" stroke-width="0.35"/><text x="634.4" y="52.8" font-size="6.9">CD8<tspan font-size="4.3" dy="-2.7">+</tspan><tspan dy="2.7">​</tspan> T<tspan font-size="4.8" dy="1.9">EM</tspan><tspan dy="-1.9"> </tspan></text><rect x="620.7" y="56.9" width="10.2" height="5" fill="#d6d6d6" stroke="#333" stroke-width="0.35"/><text x="634.4" y="61.9" font-size="6.9">CD8<tspan font-size="4.3" dy="-2.7">+</tspan><tspan dy="2.7">​</tspan> INF stim</text><rect x="620.7" y="66.0" width="10.2" height="5" fill="#a7dcc0" stroke="#333" stroke-width="0.35"/><text x="634.4" y="71.0" font-size="6.9">CD8<tspan font-size="4.3" dy="-2.7">+</tspan><tspan dy="2.7">​</tspan> T<tspan font-size="4.8" dy="1.9">N</tspan><tspan dy="-1.9"> </tspan></text><rect x="620.7" y="75.1" width="10.2" height="5" fill="#2c4a3d" stroke="#333" stroke-width="0.35"/><text x="634.4" y="80.1" font-size="6.9">CD8<tspan font-size="4.3" dy="-2.7">+</tspan><tspan dy="2.7">​</tspan> T<tspan font-size="4.8" dy="1.9">M</tspan><tspan dy="-1.9"> </tspan></text><rect x="620.7" y="84.2" width="10.2" height="5" fill="#1f8f55" stroke="#333" stroke-width="0.35"/><text x="634.4" y="89.2" font-size="6.9">CD8<tspan font-size="4.3" dy="-2.7">+</tspan><tspan dy="2.7">​</tspan> T<tspan font-size="4.8" dy="1.9">EX</tspan><tspan dy="-1.9"> </tspan></text><rect x="620.7" y="93.3" width="10.2" height="5" fill="#f2f2f2" stroke="#333" stroke-width="0.35"/><text x="634.4" y="98.3" font-size="6.9">CD8<tspan font-size="4.3" dy="-2.7">+</tspan><tspan dy="2.7">​</tspan> T<tspan font-size="4.8" dy="1.9">RM</tspan><tspan dy="-1.9"> </tspan></text><rect x="620.7" y="102.4" width="10.2" height="5" fill="#1d1d1d" stroke="#333" stroke-width="0.35"/><text x="634.4" y="107.4" font-size="6.9">CD8<tspan font-size="4.3" dy="-2.7">+</tspan><tspan dy="2.7">​</tspan> MAIT</text><rect x="620.7" y="111.5" width="10.2" height="5" fill="#9c1a1e" stroke="#333" stroke-width="0.35"/><text x="634.4" y="116.5" font-size="6.9">T<tspan font-size="4.8" dy="1.9">reg</tspan><tspan dy="-1.9"> </tspan>cells</text><rect x="620.7" y="120.6" width="10.2" height="5" fill="#1c5e5c" stroke="#333" stroke-width="0.35"/><text x="634.4" y="125.6" font-size="6.9">CD4<tspan font-size="4.3" dy="-2.7">+</tspan><tspan dy="2.7">​</tspan> T<tspan font-size="4.8" dy="1.9">M</tspan><tspan dy="-1.9"> </tspan></text><rect x="620.7" y="129.7" width="10.2" height="5" fill="#8a7d8c" stroke="#333" stroke-width="0.35"/><text x="634.4" y="134.7" font-size="6.9">CD4<tspan font-size="4.3" dy="-2.7">+</tspan><tspan dy="2.7">​</tspan> T<tspan font-size="4.8" dy="1.9">N</tspan><tspan dy="-1.9"> </tspan></text><rect x="620.7" y="138.8" width="10.2" height="5" fill="#262a73" stroke="#333" stroke-width="0.35"/><text x="634.4" y="143.8" font-size="6.9">CD4<tspan font-size="4.3" dy="-2.7">+</tspan><tspan dy="2.7">​</tspan> T<tspan font-size="4.8" dy="1.9">EM</tspan><tspan dy="-1.9"> </tspan></text><rect x="620.7" y="147.9" width="10.2" height="5" fill="#4f8ca6" stroke="#333" stroke-width="0.35"/><text x="634.4" y="152.9" font-size="6.9">CD4<tspan font-size="4.3" dy="-2.7">+</tspan><tspan dy="2.7">​</tspan> T<tspan font-size="4.8" dy="1.9">FH</tspan><tspan dy="-1.9"> </tspan></text><text x="0.3" y="186.9" font-size="13" fill="#111" font-weight="bold">d</text><text x="76.6" y="206.7" font-size="8.4" text-anchor="middle" font-style="italic">IL23R</text><rect x="57.3" y="225.5" width="40.1" height="128.8" fill="none" stroke="#bdbdbd" stroke-width="0.6"/><line x1="57.3" y1="354.3" x2="97.4" y2="354.3" stroke="#333" stroke-width="0.7"/><text x="54.0" y="252.1" font-size="7.2" text-anchor="end">T<tspan font-size="4.6" dy="1.6">reg</tspan><tspan dy="-1.6"> </tspan>cells</text><text x="54.0" y="292.7" font-size="7.2" text-anchor="end">eT<tspan font-size="4.6" dy="1.6">reg</tspan><tspan dy="-1.6"> </tspan>cells 1</text><text x="54.0" y="333.1" font-size="7.2" text-anchor="end">eT<tspan font-size="4.6" dy="1.6">reg</tspan><tspan dy="-1.6"> </tspan>cells 2</text><circle cx="77.4" cy="249.6" r="0.45" fill="#555"/><circle cx="77.4" cy="290.4" r="15.2" fill="#3c55b4" stroke="#222" stroke-width="0.5"/><circle cx="77.4" cy="330.6" r="3.2" fill="#b9a9d9" stroke="#333" stroke-width="0.4"/><text x="138.7" y="219.5" font-size="7.6" text-anchor="middle">Percent</text><text x="138.7" y="229.5" font-size="7.6" text-anchor="middle">expression</text><circle cx="138.7" cy="243" r="4.7" fill="#111"/><circle cx="138.7" cy="259.4" r="9.1" fill="#111"/><text x="162.2" y="262.0" font-size="7.2">20</text><circle cx="138.7" cy="289.3" r="13.9" fill="#111"/><text x="162.2" y="291.9" font-size="7.2">30</text><circle cx="138.7" cy="331.7" r="19" fill="#111"/><text x="162.2" y="334.3" font-size="7.2">40</text><text x="206.0" y="219.5" font-size="7.6" text-anchor="middle">Average</text><text x="206.0" y="229.5" font-size="7.6" text-anchor="middle">expression</text><defs><linearGradient id="gd" x1="0" y1="0" x2="0" y2="1"><stop offset="0" stop-color="#3a4ea8"/><stop offset="0.45" stop-color="#7a63b4"/><stop offset="0.75" stop-color="#b8a8d6"/><stop offset="1" stop-color="#e0e0e0"/></linearGradient></defs><rect x="200.7" y="254.7" width="10.8" height="53.3" fill="url(#gd)"/><line x1="209.5" y1="258.3" x2="211.5" y2="258.3" stroke="#fff" stroke-width="0.6"/><text x="213.6" y="260.8" font-size="7.2">1.0</text><line x1="209.5" y1="287.5" x2="211.5" y2="287.5" stroke="#fff" stroke-width="0.6"/><text x="213.6" y="290.0" font-size="7.2">0</text><line x1="209.5" y1="305.8" x2="211.5" y2="305.8" stroke="#fff" stroke-width="0.6"/><text x="213.6" y="308.3" font-size="7.2">−0.5</text><text x="296.6" y="187.1" font-size="13" fill="#111" font-weight="bold">e</text><text x="312.6" y="190.6" font-size="8.3" style="letter-spacing:0.2px">IL-23A + IL-12B/IL-23R + IL-12RB1 ligand–receptor interaction</text><rect x="414.60" y="199.90" width="14.20" height="13.42" fill="#ffffff" stroke="#2a2a2a" stroke-width="0.7"/><rect x="428.80" y="199.90" width="14.20" height="13.42" fill="#ffffff" stroke="#2a2a2a" stroke-width="0.7"/><rect x="443.00" y="199.90" width="14.20" height="13.42" fill="#ffffff" stroke="#2a2a2a" stroke-width="0.7"/><rect x="457.20" y="199.90" width="14.20" height="13.42" fill="#ffffff" stroke="#2a2a2a" stroke-width="0.7"/><rect x="471.40" y="199.90" width="14.20" height="13.42" fill="#ffffff" stroke="#2a2a2a" stroke-width="0.7"/><rect x="485.60" y="199.90" width="14.20" height="13.42" fill="#ffffff" stroke="#2a2a2a" stroke-width="0.7"/><rect x="499.80" y="199.90" width="14.20" height="13.42" fill="#ffffff" stroke="#2a2a2a" stroke-width="0.7"/><rect x="514.00" y="199.90" width="14.20" height="13.42" fill="#ffffff" stroke="#2a2a2a" stroke-width="0.7"/><rect x="528.20" y="199.90" width="14.20" height="13.42" fill="#ffffff" stroke="#2a2a2a" stroke-width="0.7"/><rect x="414.60" y="213.32" width="14.20" height="13.42" fill="#ffffff" stroke="#2a2a2a" stroke-width="0.7"/><rect x="428.80" y="213.32" width="14.20" height="13.42" fill="#ffffff" stroke="#2a2a2a" stroke-width="0.7"/><rect x="443.00" y="213.32" width="14.20" height="13.42" fill="#ffffff" stroke="#2a2a2a" stroke-width="0.7"/><rect x="457.20" y="213.32" width="14.20" height="13.42" fill="#ffffff" stroke="#2a2a2a" stroke-width="0.7"/><rect x="471.40" y="213.32" width="14.20" height="13.42" fill="#ffffff" stroke="#2a2a2a" stroke-width="0.7"/><rect x="485.60" y="213.32" width="14.20" height="13.42" fill="#ffffff" stroke="#2a2a2a" stroke-width="0.7"/><rect x="499.80" y="213.32" width="14.20" height="13.42" fill="#ffffff" stroke="#2a2a2a" stroke-width="0.7"/><rect x="514.00" y="213.32" width="14.20" height="13.42" fill="#ffffff" stroke="#2a2a2a" stroke-width="0.7"/><rect x="528.20" y="213.32" width="14.20" height="13.42" fill="#ffffff" stroke="#2a2a2a" stroke-width="0.7"/><rect x="414.60" y="226.74" width="14.20" height="13.42" fill="#ffffff" stroke="#2a2a2a" stroke-width="0.7"/><rect x="428.80" y="226.74" width="14.20" height="13.42" fill="#ffffff" stroke="#2a2a2a" stroke-width="0.7"/><rect x="443.00" y="226.74" width="14.20" height="13.42" fill="#ffffff" stroke="#2a2a2a" stroke-width="0.7"/><rect x="457.20" y="226.74" width="14.20" height="13.42" fill="#ffffff" stroke="#2a2a2a" stroke-width="0.7"/><rect x="471.40" y="226.74" width="14.20" height="13.42" fill="#ffffff" stroke="#2a2a2a" stroke-width="0.7"/><rect x="485.60" y="226.74" width="14.20" height="13.42" fill="#ffffff" stroke="#2a2a2a" stroke-width="0.7"/><rect x="499.80" y="226.74" width="14.20" height="13.42" fill="#ffffff" stroke="#2a2a2a" stroke-width="0.7"/><rect x="514.00" y="226.74" width="14.20" height="13.42" fill="#ffffff" stroke="#2a2a2a" stroke-width="0.7"/><rect x="528.20" y="226.74" width="14.20" height="13.42" fill="#ffffff" stroke="#2a2a2a" stroke-width="0.7"/><rect x="414.60" y="240.16" width="14.20" height="13.42" fill="#f6ecf6" stroke="#2a2a2a" stroke-width="0.7"/><rect x="428.80" y="240.16" width="14.20" height="13.42" fill="#8e78c4" stroke="#2a2a2a" stroke-width="0.7"/><rect x="443.00" y="240.16" width="14.20" height="13.42" fill="#6d59b4" stroke="#2a2a2a" stroke-width="0.7"/><rect x="457.20" y="240.16" width="14.20" height="13.42" fill="#c8b6de" stroke="#2a2a2a" stroke-width="0.7"/><rect x="471.40" y="240.16" width="14.20" height="13.42" fill="#6253b0" stroke="#2a2a2a" stroke-width="0.7"/><rect x="485.60" y="240.16" width="14.20" height="13.42" fill="#ebdeef" stroke="#2a2a2a" stroke-width="0.7"/><rect x="499.80" y="240.16" width="14.20" height="13.42" fill="#c3b1db" stroke="#2a2a2a" stroke-width="0.7"/><rect x="514.00" y="240.16" width="14.20" height="13.42" fill="#ffffff" stroke="#2a2a2a" stroke-width="0.7"/><rect x="528.20" y="240.16" width="14.20" height="13.42" fill="#f7eef7" stroke="#2a2a2a" stroke-width="0.7"/><rect x="414.60" y="253.58" width="14.20" height="13.42" fill="#ffffff" stroke="#2a2a2a" stroke-width="0.7"/><rect x="428.80" y="253.58" width="14.20" height="13.42" fill="#ffffff" stroke="#2a2a2a" stroke-width="0.7"/><rect x="443.00" y="253.58" width="14.20" height="13.42" fill="#ffffff" stroke="#2a2a2a" stroke-width="0.7"/><rect x="457.20" y="253.58" width="14.20" height="13.42" fill="#ffffff" stroke="#2a2a2a" stroke-width="0.7"/><rect x="471.40" y="253.58" width="14.20" height="13.42" fill="#ffffff" stroke="#2a2a2a" stroke-width="0.7"/><rect x="485.60" y="253.58" width="14.20" height="13.42" fill="#ffffff" stroke="#2a2a2a" stroke-width="0.7"/><rect x="499.80" y="253.58" width="14.20" height="13.42" fill="#ffffff" stroke="#2a2a2a" stroke-width="0.7"/><rect x="514.00" y="253.58" width="14.20" height="13.42" fill="#ffffff" stroke="#2a2a2a" stroke-width="0.7"/><rect x="528.20" y="253.58" width="14.20" height="13.42" fill="#ffffff" stroke="#2a2a2a" stroke-width="0.7"/><rect x="414.60" y="267.00" width="14.20" height="13.42" fill="#f6ecf6" stroke="#2a2a2a" stroke-width="0.7"/><rect x="428.80" y="267.00" width="14.20" height="13.42" fill="#6253b0" stroke="#2a2a2a" stroke-width="0.7"/><rect x="443.00" y="267.00" width="14.20" height="13.42" fill="#4f50ac" stroke="#2a2a2a" stroke-width="0.7"/><rect x="457.20" y="267.00" width="14.20" height="13.42" fill="#beacd9" stroke="#2a2a2a" stroke-width="0.7"/><rect x="471.40" y="267.00" width="14.20" height="13.42" fill="#384ea8" stroke="#2a2a2a" stroke-width="0.7"/><rect x="485.60" y="267.00" width="14.20" height="13.42" fill="#ebdeef" stroke="#2a2a2a" stroke-width="0.7"/><rect x="499.80" y="267.00" width="14.20" height="13.42" fill="#b5a2d5" stroke="#2a2a2a" stroke-width="0.7"/><rect x="514.00" y="267.00" width="14.20" height="13.42" fill="#ffffff" stroke="#2a2a2a" stroke-width="0.7"/><rect x="528.20" y="267.00" width="14.20" height="13.42" fill="#f7eef7" stroke="#2a2a2a" stroke-width="0.7"/><rect x="414.60" y="280.42" width="14.20" height="13.42" fill="#ffffff" stroke="#2a2a2a" stroke-width="0.7"/><rect x="428.80" y="280.42" width="14.20" height="13.42" fill="#ffffff" stroke="#2a2a2a" stroke-width="0.7"/><rect x="443.00" y="280.42" width="14.20" height="13.42" fill="#ffffff" stroke="#2a2a2a" stroke-width="0.7"/><rect x="457.20" y="280.42" width="14.20" height="13.42" fill="#ffffff" stroke="#2a2a2a" stroke-width="0.7"/><rect x="471.40" y="280.42" width="14.20" height="13.42" fill="#ffffff" stroke="#2a2a2a" stroke-width="0.7"/><rect x="485.60" y="280.42" width="14.20" height="13.42" fill="#ffffff" stroke="#2a2a2a" stroke-width="0.7"/><rect x="499.80" y="280.42" width="14.20" height="13.42" fill="#ffffff" stroke="#2a2a2a" stroke-width="0.7"/><rect x="514.00" y="280.42" width="14.20" height="13.42" fill="#ffffff" stroke="#2a2a2a" stroke-width="0.7"/><rect x="528.20" y="280.42" width="14.20" height="13.42" fill="#ffffff" stroke="#2a2a2a" stroke-width="0.7"/><rect x="414.60" y="293.84" width="14.20" height="13.42" fill="#ffffff" stroke="#2a2a2a" stroke-width="0.7"/><rect x="428.80" y="293.84" width="14.20" height="13.42" fill="#ffffff" stroke="#2a2a2a" stroke-width="0.7"/><rect x="443.00" y="293.84" width="14.20" height="13.42" fill="#ffffff" stroke="#2a2a2a" stroke-width="0.7"/><rect x="457.20" y="293.84" width="14.20" height="13.42" fill="#ffffff" stroke="#2a2a2a" stroke-width="0.7"/><rect x="471.40" y="293.84" width="14.20" height="13.42" fill="#ffffff" stroke="#2a2a2a" stroke-width="0.7"/><rect x="485.60" y="293.84" width="14.20" height="13.42" fill="#ffffff" stroke="#2a2a2a" stroke-width="0.7"/><rect x="499.80" y="293.84" width="14.20" height="13.42" fill="#ffffff" stroke="#2a2a2a" stroke-width="0.7"/><rect x="514.00" y="293.84" width="14.20" height="13.42" fill="#ffffff" stroke="#2a2a2a" stroke-width="0.7"/><rect x="528.20" y="293.84" width="14.20" height="13.42" fill="#ffffff" stroke="#2a2a2a" stroke-width="0.7"/><rect x="414.60" y="307.26" width="14.20" height="13.42" fill="#f6ecf6" stroke="#2a2a2a" stroke-width="0.7"/><rect x="428.80" y="307.26" width="14.20" height="13.42" fill="#8e78c4" stroke="#2a2a2a" stroke-width="0.7"/><rect x="443.00" y="307.26" width="14.20" height="13.42" fill="#6d59b4" stroke="#2a2a2a" stroke-width="0.7"/><rect x="457.20" y="307.26" width="14.20" height="13.42" fill="#c8b6de" stroke="#2a2a2a" stroke-width="0.7"/><rect x="471.40" y="307.26" width="14.20" height="13.42" fill="#6253b0" stroke="#2a2a2a" stroke-width="0.7"/><rect x="485.60" y="307.26" width="14.20" height="13.42" fill="#efe3f1" stroke="#2a2a2a" stroke-width="0.7"/><rect x="499.80" y="307.26" width="14.20" height="13.42" fill="#c3b1db" stroke="#2a2a2a" stroke-width="0.7"/><rect x="514.00" y="307.26" width="14.20" height="13.42" fill="#ffffff" stroke="#2a2a2a" stroke-width="0.7"/><rect x="528.20" y="307.26" width="14.20" height="13.42" fill="#f7eef7" stroke="#2a2a2a" stroke-width="0.7"/><text x="410.5" y="209.0" font-size="7.0" text-anchor="end">Macrophages 2</text><text x="410.5" y="222.4" font-size="7.0" text-anchor="end">cDC1s</text><text x="410.5" y="235.9" font-size="7.0" text-anchor="end">T<tspan font-size="4.5" dy="1.5">reg</tspan><tspan dy="-1.5"> </tspan>cells</text><text x="410.5" y="249.3" font-size="7.0" text-anchor="end">Monocytes</text><text x="410.5" y="262.7" font-size="7.0" text-anchor="end">eT<tspan font-size="4.5" dy="1.5">reg</tspan><tspan dy="-1.5"> </tspan>cells 2</text><text x="410.5" y="276.1" font-size="7.0" text-anchor="end">cDC2s</text><text x="410.5" y="289.5" font-size="7.0" text-anchor="end">eT<tspan font-size="4.5" dy="1.5">reg</tspan><tspan dy="-1.5"> </tspan>cells 1</text><text x="410.5" y="302.9" font-size="7.0" text-anchor="end">Macrophages 3</text><text x="410.5" y="316.4" font-size="7.0" text-anchor="end">Macrophages 1</text><text x="424.1" y="324.5" font-size="7.0" text-anchor="end" transform="rotate(-90 424.1 324.5)">Macrophages 1</text><text x="438.3" y="324.5" font-size="7.0" text-anchor="end" transform="rotate(-90 438.3 324.5)">Macrophages 3</text><text x="452.5" y="324.5" font-size="7.0" text-anchor="end" transform="rotate(-90 452.5 324.5)">eT<tspan font-size="4.5" dy="1.5">reg</tspan><tspan dy="-1.5"> </tspan>cells 1</text><text x="466.7" y="324.5" font-size="7.0" text-anchor="end" transform="rotate(-90 466.7 324.5)">cDC2s</text><text x="480.9" y="324.5" font-size="7.0" text-anchor="end" transform="rotate(-90 480.9 324.5)">eT<tspan font-size="4.5" dy="1.5">reg</tspan><tspan dy="-1.5"> </tspan>cells 2</text><text x="495.1" y="324.5" font-size="7.0" text-anchor="end" transform="rotate(-90 495.1 324.5)">Monocytes</text><text x="509.3" y="324.5" font-size="7.0" text-anchor="end" transform="rotate(-90 509.3 324.5)">T<tspan font-size="4.5" dy="1.5">reg</tspan><tspan dy="-1.5"> </tspan>cells</text><text x="523.5" y="324.5" font-size="7.0" text-anchor="end" transform="rotate(-90 523.5 324.5)">cDC1s</text><text x="537.7" y="324.5" font-size="7.0" text-anchor="end" transform="rotate(-90 537.7 324.5)">Macrophages 2</text><text x="557.7" y="236.5" font-size="7.6">Value</text><defs><linearGradient id="ge" x1="0" y1="0" x2="0" y2="1"><stop offset="0" stop-color="#384ea8"/><stop offset="0.25" stop-color="#6a54b2"/><stop offset="0.5" stop-color="#9880c6"/><stop offset="0.75" stop-color="#cdb9de"/><stop offset="1" stop-color="#f8f0f8"/></linearGradient></defs><rect x="563.5" y="243.8" width="7.9" height="40.9" fill="url(#ge)" stroke="#777" stroke-width="0.3"/><text x="574.4" y="246.2" font-size="6.8">100</text><text x="574.4" y="256.4" font-size="6.8">75</text><text x="574.4" y="266.6" font-size="6.8">50</text><text x="574.4" y="276.9" font-size="6.8">25</text><text x="574.4" y="287.1" font-size="6.8">0</text><path d="M335.4 320.9V347.4H361.0" stroke="#3d5470" stroke-width="1.2" fill="none"/><path d="M333.2 322.9L335.4 318.9L337.59999999999997 322.9Z" fill="#3d5470"/><path d="M359.0 345.2L363.0 347.4L359.0 349.59999999999997Z" fill="#3d5470"/><text x="329.2" y="348.2" font-size="7.9" transform="rotate(-90 329.2 348.2)">Ligand</text><text x="335.2" y="358.6" font-size="8.0">Receptor</text><text x="-0.2" y="390.8" font-size="13" fill="#111" font-weight="bold">f</text><rect x="35.50" y="413.70" width="7.04" height="7.94" fill="#35b579"/><rect x="42.54" y="413.70" width="7.04" height="7.94" fill="#34628d"/><rect x="49.58" y="413.70" width="7.04" height="7.94" fill="#287e8e"/><rect x="56.62" y="413.70" width="7.04" height="7.94" fill="#3b528a"/><rect x="63.66" y="413.70" width="7.04" height="7.94" fill="#8cd545"/><rect x="70.70" y="413.70" width="7.04" height="7.94" fill="#287e8e"/><rect x="77.74" y="413.70" width="7.04" height="7.94" fill="#35b579"/><rect x="84.78" y="413.70" width="7.04" height="7.94" fill="#3b528a"/><rect x="91.82" y="413.70" width="7.04" height="7.94" fill="#414286"/><rect x="98.86" y="413.70" width="7.04" height="7.94" fill="#3b528a"/><rect x="105.90" y="413.70" width="7.04" height="7.94" fill="#414286"/><rect x="112.94" y="413.70" width="7.04" height="7.94" fill="#34628d"/><rect x="119.98" y="413.70" width="7.04" height="7.94" fill="#2e708e"/><rect x="127.02" y="413.70" width="7.04" height="7.94" fill="#3b528a"/><rect x="134.06" y="413.70" width="7.04" height="7.94" fill="#414286"/><rect x="141.10" y="413.70" width="7.04" height="7.94" fill="#3b528a"/><rect x="148.14" y="413.70" width="7.04" height="7.94" fill="#414286"/><rect x="155.18" y="413.70" width="7.04" height="7.94" fill="#3b528a"/><rect x="35.50" y="421.64" width="7.04" height="7.94" fill="#238d8c"/><rect x="42.54" y="421.64" width="7.04" height="7.94" fill="#34628d"/><rect x="49.58" y="421.64" width="7.04" height="7.94" fill="#287e8e"/><rect x="56.62" y="421.64" width="7.04" height="7.94" fill="#287e8e"/><rect x="63.66" y="421.64" width="7.04" height="7.94" fill="#238d8c"/><rect x="70.70" y="421.64" width="7.04" height="7.94" fill="#22a784"/><rect x="77.74" y="421.64" width="7.04" height="7.94" fill="#b3dd2c"/><rect x="84.78" y="421.64" width="7.04" height="7.94" fill="#3b528a"/><rect x="91.82" y="421.64" width="7.04" height="7.94" fill="#414286"/><rect x="98.86" y="421.64" width="7.04" height="7.94" fill="#34628d"/><rect x="105.90" y="421.64" width="7.04" height="7.94" fill="#3b528a"/><rect x="112.94" y="421.64" width="7.04" height="7.94" fill="#414286"/><rect x="119.98" y="421.64" width="7.04" height="7.94" fill="#414286"/><rect x="127.02" y="421.64" width="7.04" height="7.94" fill="#3b528a"/><rect x="134.06" y="421.64" width="7.04" height="7.94" fill="#414286"/><rect x="141.10" y="421.64" width="7.04" height="7.94" fill="#3b528a"/><rect x="148.14" y="421.64" width="7.04" height="7.94" fill="#414286"/><rect x="155.18" y="421.64" width="7.04" height="7.94" fill="#414286"/><rect x="35.50" y="429.58" width="7.04" height="7.94" fill="#3b528a"/><rect x="42.54" y="429.58" width="7.04" height="7.94" fill="#287e8e"/><rect x="49.58" y="429.58" width="7.04" height="7.94" fill="#22a784"/><rect x="56.62" y="429.58" width="7.04" height="7.94" fill="#219a89"/><rect x="63.66" y="429.58" width="7.04" height="7.94" fill="#238d8c"/><rect x="70.70" y="429.58" width="7.04" height="7.94" fill="#2e708e"/><rect x="77.74" y="429.58" width="7.04" height="7.94" fill="#8cd545"/><rect x="84.78" y="429.58" width="7.04" height="7.94" fill="#34628d"/><rect x="91.82" y="429.58" width="7.04" height="7.94" fill="#414286"/><rect x="98.86" y="429.58" width="7.04" height="7.94" fill="#3b528a"/><rect x="105.90" y="429.58" width="7.04" height="7.94" fill="#414286"/><rect x="112.94" y="429.58" width="7.04" height="7.94" fill="#414286"/><rect x="119.98" y="429.58" width="7.04" height="7.94" fill="#3b528a"/><rect x="127.02" y="429.58" width="7.04" height="7.94" fill="#414286"/><rect x="134.06" y="429.58" width="7.04" height="7.94" fill="#414286"/><rect x="141.10" y="429.58" width="7.04" height="7.94" fill="#3b528a"/><rect x="148.14" y="429.58" width="7.04" height="7.94" fill="#414286"/><rect x="155.18" y="429.58" width="7.04" height="7.94" fill="#287e8e"/><rect x="35.50" y="437.52" width="7.04" height="7.94" fill="#287e8e"/><rect x="42.54" y="437.52" width="7.04" height="7.94" fill="#6acc5a"/><rect x="49.58" y="437.52" width="7.04" height="7.94" fill="#22a784"/><rect x="56.62" y="437.52" width="7.04" height="7.94" fill="#287e8e"/><rect x="63.66" y="437.52" width="7.04" height="7.94" fill="#238d8c"/><rect x="70.70" y="437.52" width="7.04" height="7.94" fill="#287e8e"/><rect x="77.74" y="437.52" width="7.04" height="7.94" fill="#34628d"/><rect x="84.78" y="437.52" width="7.04" height="7.94" fill="#34628d"/><rect x="91.82" y="437.52" width="7.04" height="7.94" fill="#45307c"/><rect x="98.86" y="437.52" width="7.04" height="7.94" fill="#2e708e"/><rect x="105.90" y="437.52" width="7.04" height="7.94" fill="#34628d"/><rect x="112.94" y="437.52" width="7.04" height="7.94" fill="#414286"/><rect x="119.98" y="437.52" width="7.04" height="7.94" fill="#34628d"/><rect x="127.02" y="437.52" width="7.04" height="7.94" fill="#3b528a"/><rect x="134.06" y="437.52" width="7.04" height="7.94" fill="#414286"/><rect x="141.10" y="437.52" width="7.04" height="7.94" fill="#45307c"/><rect x="148.14" y="437.52" width="7.04" height="7.94" fill="#414286"/><rect x="155.18" y="437.52" width="7.04" height="7.94" fill="#45307c"/><rect x="35.50" y="445.46" width="7.04" height="7.94" fill="#238d8c"/><rect x="42.54" y="445.46" width="7.04" height="7.94" fill="#22a784"/><rect x="49.58" y="445.46" width="7.04" height="7.94" fill="#35b579"/><rect x="56.62" y="445.46" width="7.04" height="7.94" fill="#287e8e"/><rect x="63.66" y="445.46" width="7.04" height="7.94" fill="#238d8c"/><rect x="70.70" y="445.46" width="7.04" height="7.94" fill="#35b579"/><rect x="77.74" y="445.46" width="7.04" height="7.94" fill="#414286"/><rect x="84.78" y="445.46" width="7.04" height="7.94" fill="#34628d"/><rect x="91.82" y="445.46" width="7.04" height="7.94" fill="#414286"/><rect x="98.86" y="445.46" width="7.04" height="7.94" fill="#3b528a"/><rect x="105.90" y="445.46" width="7.04" height="7.94" fill="#414286"/><rect x="112.94" y="445.46" width="7.04" height="7.94" fill="#414286"/><rect x="119.98" y="445.46" width="7.04" height="7.94" fill="#34628d"/><rect x="127.02" y="445.46" width="7.04" height="7.94" fill="#3b528a"/><rect x="134.06" y="445.46" width="7.04" height="7.94" fill="#34628d"/><rect x="141.10" y="445.46" width="7.04" height="7.94" fill="#45307c"/><rect x="148.14" y="445.46" width="7.04" height="7.94" fill="#414286"/><rect x="155.18" y="445.46" width="7.04" height="7.94" fill="#3b528a"/><rect x="35.50" y="453.40" width="7.04" height="7.94" fill="#22a784"/><rect x="42.54" y="453.40" width="7.04" height="7.94" fill="#4bc16c"/><rect x="49.58" y="453.40" width="7.04" height="7.94" fill="#6acc5a"/><rect x="56.62" y="453.40" width="7.04" height="7.94" fill="#287e8e"/><rect x="63.66" y="453.40" width="7.04" height="7.94" fill="#2e708e"/><rect x="70.70" y="453.40" width="7.04" height="7.94" fill="#287e8e"/><rect x="77.74" y="453.40" width="7.04" height="7.94" fill="#238d8c"/><rect x="84.78" y="453.40" width="7.04" height="7.94" fill="#34628d"/><rect x="91.82" y="453.40" width="7.04" height="7.94" fill="#3b528a"/><rect x="98.86" y="453.40" width="7.04" height="7.94" fill="#287e8e"/><rect x="105.90" y="453.40" width="7.04" height="7.94" fill="#34628d"/><rect x="112.94" y="453.40" width="7.04" height="7.94" fill="#2e708e"/><rect x="119.98" y="453.40" width="7.04" height="7.94" fill="#414286"/><rect x="127.02" y="453.40" width="7.04" height="7.94" fill="#414286"/><rect x="134.06" y="453.40" width="7.04" height="7.94" fill="#3b528a"/><rect x="141.10" y="453.40" width="7.04" height="7.94" fill="#414286"/><rect x="148.14" y="453.40" width="7.04" height="7.94" fill="#414286"/><rect x="155.18" y="453.40" width="7.04" height="7.94" fill="#3b528a"/><rect x="35.50" y="461.34" width="7.04" height="7.94" fill="#8cd545"/><rect x="42.54" y="461.34" width="7.04" height="7.94" fill="#238d8c"/><rect x="49.58" y="461.34" width="7.04" height="7.94" fill="#4bc16c"/><rect x="56.62" y="461.34" width="7.04" height="7.94" fill="#35b579"/><rect x="63.66" y="461.34" width="7.04" height="7.94" fill="#34628d"/><rect x="70.70" y="461.34" width="7.04" height="7.94" fill="#287e8e"/><rect x="77.74" y="461.34" width="7.04" height="7.94" fill="#238d8c"/><rect x="84.78" y="461.34" width="7.04" height="7.94" fill="#34628d"/><rect x="91.82" y="461.34" width="7.04" height="7.94" fill="#3b528a"/><rect x="98.86" y="461.34" width="7.04" height="7.94" fill="#34628d"/><rect x="105.90" y="461.34" width="7.04" height="7.94" fill="#414286"/><rect x="112.94" y="461.34" width="7.04" height="7.94" fill="#3b528a"/><rect x="119.98" y="461.34" width="7.04" height="7.94" fill="#414286"/><rect x="127.02" y="461.34" width="7.04" height="7.94" fill="#3b528a"/><rect x="134.06" y="461.34" width="7.04" height="7.94" fill="#414286"/><rect x="141.10" y="461.34" width="7.04" height="7.94" fill="#3b528a"/><rect x="148.14" y="461.34" width="7.04" height="7.94" fill="#3b528a"/><rect x="155.18" y="461.34" width="7.04" height="7.94" fill="#414286"/><rect x="35.50" y="469.28" width="7.04" height="7.94" fill="#3b528a"/><rect x="42.54" y="469.28" width="7.04" height="7.94" fill="#45307c"/><rect x="49.58" y="469.28" width="7.04" height="7.94" fill="#414286"/><rect x="56.62" y="469.28" width="7.04" height="7.94" fill="#3b528a"/><rect x="63.66" y="469.28" width="7.04" height="7.94" fill="#414286"/><rect x="70.70" y="469.28" width="7.04" height="7.94" fill="#45307c"/><rect x="77.74" y="469.28" width="7.04" height="7.94" fill="#34628d"/><rect x="84.78" y="469.28" width="7.04" height="7.94" fill="#414286"/><rect x="91.82" y="469.28" width="7.04" height="7.94" fill="#238d8c"/><rect x="98.86" y="469.28" width="7.04" height="7.94" fill="#287e8e"/><rect x="105.90" y="469.28" width="7.04" height="7.94" fill="#414286"/><rect x="112.94" y="469.28" width="7.04" height="7.94" fill="#4bc16c"/><rect x="119.98" y="469.28" width="7.04" height="7.94" fill="#287e8e"/><rect x="127.02" y="469.28" width="7.04" height="7.94" fill="#34628d"/><rect x="134.06" y="469.28" width="7.04" height="7.94" fill="#35b579"/><rect x="141.10" y="469.28" width="7.04" height="7.94" fill="#219a89"/><rect x="148.14" y="469.28" width="7.04" height="7.94" fill="#238d8c"/><rect x="155.18" y="469.28" width="7.04" height="7.94" fill="#3b528a"/><rect x="35.50" y="477.22" width="7.04" height="7.94" fill="#414286"/><rect x="42.54" y="477.22" width="7.04" height="7.94" fill="#3b528a"/><rect x="49.58" y="477.22" width="7.04" height="7.94" fill="#45307c"/><rect x="56.62" y="477.22" width="7.04" height="7.94" fill="#3b528a"/><rect x="63.66" y="477.22" width="7.04" height="7.94" fill="#414286"/><rect x="70.70" y="477.22" width="7.04" height="7.94" fill="#414286"/><rect x="77.74" y="477.22" width="7.04" height="7.94" fill="#3b528a"/><rect x="84.78" y="477.22" width="7.04" height="7.94" fill="#2e708e"/><rect x="91.82" y="477.22" width="7.04" height="7.94" fill="#238d8c"/><rect x="98.86" y="477.22" width="7.04" height="7.94" fill="#4bc16c"/><rect x="105.90" y="477.22" width="7.04" height="7.94" fill="#238d8c"/><rect x="112.94" y="477.22" width="7.04" height="7.94" fill="#287e8e"/><rect x="119.98" y="477.22" width="7.04" height="7.94" fill="#34628d"/><rect x="127.02" y="477.22" width="7.04" height="7.94" fill="#287e8e"/><rect x="134.06" y="477.22" width="7.04" height="7.94" fill="#22a784"/><rect x="141.10" y="477.22" width="7.04" height="7.94" fill="#219a89"/><rect x="148.14" y="477.22" width="7.04" height="7.94" fill="#238d8c"/><rect x="155.18" y="477.22" width="7.04" height="7.94" fill="#287e8e"/><rect x="35.50" y="485.16" width="7.04" height="7.94" fill="#45307c"/><rect x="42.54" y="485.16" width="7.04" height="7.94" fill="#45307c"/><rect x="49.58" y="485.16" width="7.04" height="7.94" fill="#414286"/><rect x="56.62" y="485.16" width="7.04" height="7.94" fill="#34628d"/><rect x="63.66" y="485.16" width="7.04" height="7.94" fill="#414286"/><rect x="70.70" y="485.16" width="7.04" height="7.94" fill="#414286"/><rect x="77.74" y="485.16" width="7.04" height="7.94" fill="#3b528a"/><rect x="84.78" y="485.16" width="7.04" height="7.94" fill="#34628d"/><rect x="91.82" y="485.16" width="7.04" height="7.94" fill="#34628d"/><rect x="98.86" y="485.16" width="7.04" height="7.94" fill="#34628d"/><rect x="105.90" y="485.16" width="7.04" height="7.94" fill="#414286"/><rect x="112.94" y="485.16" width="7.04" height="7.94" fill="#2e708e"/><rect x="119.98" y="485.16" width="7.04" height="7.94" fill="#287e8e"/><rect x="127.02" y="485.16" width="7.04" height="7.94" fill="#287e8e"/><rect x="134.06" y="485.16" width="7.04" height="7.94" fill="#35b579"/><rect x="141.10" y="485.16" width="7.04" height="7.94" fill="#22a784"/><rect x="148.14" y="485.16" width="7.04" height="7.94" fill="#238d8c"/><rect x="155.18" y="485.16" width="7.04" height="7.94" fill="#22a784"/><rect x="35.50" y="493.10" width="7.04" height="7.94" fill="#45307c"/><rect x="42.54" y="493.10" width="7.04" height="7.94" fill="#45307c"/><rect x="49.58" y="493.10" width="7.04" height="7.94" fill="#414286"/><rect x="56.62" y="493.10" width="7.04" height="7.94" fill="#45307c"/><rect x="63.66" y="493.10" width="7.04" height="7.94" fill="#414286"/><rect x="70.70" y="493.10" width="7.04" height="7.94" fill="#3b528a"/><rect x="77.74" y="493.10" width="7.04" height="7.94" fill="#414286"/><rect x="84.78" y="493.10" width="7.04" height="7.94" fill="#34628d"/><rect x="91.82" y="493.10" width="7.04" height="7.94" fill="#34628d"/><rect x="98.86" y="493.10" width="7.04" height="7.94" fill="#3b528a"/><rect x="105.90" y="493.10" width="7.04" height="7.94" fill="#34628d"/><rect x="112.94" y="493.10" width="7.04" height="7.94" fill="#287e8e"/><rect x="119.98" y="493.10" width="7.04" height="7.94" fill="#238d8c"/><rect x="127.02" y="493.10" width="7.04" height="7.94" fill="#22a784"/><rect x="134.06" y="493.10" width="7.04" height="7.94" fill="#22a784"/><rect x="141.10" y="493.10" width="7.04" height="7.94" fill="#35b579"/><rect x="148.14" y="493.10" width="7.04" height="7.94" fill="#238d8c"/><rect x="155.18" y="493.10" width="7.04" height="7.94" fill="#22a784"/><rect x="35.50" y="501.04" width="7.04" height="7.94" fill="#45307c"/><rect x="42.54" y="501.04" width="7.04" height="7.94" fill="#45307c"/><rect x="49.58" y="501.04" width="7.04" height="7.94" fill="#45307c"/><rect x="56.62" y="501.04" width="7.04" height="7.94" fill="#414286"/><rect x="63.66" y="501.04" width="7.04" height="7.94" fill="#45307c"/><rect x="70.70" y="501.04" width="7.04" height="7.94" fill="#3b528a"/><rect x="77.74" y="501.04" width="7.04" height="7.94" fill="#414286"/><rect x="84.78" y="501.04" width="7.04" height="7.94" fill="#34628d"/><rect x="91.82" y="501.04" width="7.04" height="7.94" fill="#34628d"/><rect x="98.86" y="501.04" width="7.04" height="7.94" fill="#414286"/><rect x="105.90" y="501.04" width="7.04" height="7.94" fill="#34628d"/><rect x="112.94" y="501.04" width="7.04" height="7.94" fill="#219a89"/><rect x="119.98" y="501.04" width="7.04" height="7.94" fill="#238d8c"/><rect x="127.02" y="501.04" width="7.04" height="7.94" fill="#287e8e"/><rect x="134.06" y="501.04" width="7.04" height="7.94" fill="#22a784"/><rect x="141.10" y="501.04" width="7.04" height="7.94" fill="#219a89"/><rect x="148.14" y="501.04" width="7.04" height="7.94" fill="#35b579"/><rect x="155.18" y="501.04" width="7.04" height="7.94" fill="#238d8c"/><rect x="35.50" y="508.98" width="7.04" height="7.94" fill="#3b528a"/><rect x="42.54" y="508.98" width="7.04" height="7.94" fill="#34628d"/><rect x="49.58" y="508.98" width="7.04" height="7.94" fill="#3b528a"/><rect x="56.62" y="508.98" width="7.04" height="7.94" fill="#34628d"/><rect x="63.66" y="508.98" width="7.04" height="7.94" fill="#34628d"/><rect x="70.70" y="508.98" width="7.04" height="7.94" fill="#2e708e"/><rect x="77.74" y="508.98" width="7.04" height="7.94" fill="#3b528a"/><rect x="84.78" y="508.98" width="7.04" height="7.94" fill="#34628d"/><rect x="91.82" y="508.98" width="7.04" height="7.94" fill="#414286"/><rect x="98.86" y="508.98" width="7.04" height="7.94" fill="#3b528a"/><rect x="105.90" y="508.98" width="7.04" height="7.94" fill="#34628d"/><rect x="112.94" y="508.98" width="7.04" height="7.94" fill="#2e708e"/><rect x="119.98" y="508.98" width="7.04" height="7.94" fill="#287e8e"/><rect x="127.02" y="508.98" width="7.04" height="7.94" fill="#22a784"/><rect x="134.06" y="508.98" width="7.04" height="7.94" fill="#238d8c"/><rect x="141.10" y="508.98" width="7.04" height="7.94" fill="#8cd545"/><rect x="148.14" y="508.98" width="7.04" height="7.94" fill="#35b579"/><rect x="155.18" y="508.98" width="7.04" height="7.94" fill="#34628d"/><rect x="35.50" y="516.92" width="7.04" height="7.94" fill="#3b528a"/><rect x="42.54" y="516.92" width="7.04" height="7.94" fill="#34628d"/><rect x="49.58" y="516.92" width="7.04" height="7.94" fill="#414286"/><rect x="56.62" y="516.92" width="7.04" height="7.94" fill="#3b528a"/><rect x="63.66" y="516.92" width="7.04" height="7.94" fill="#414286"/><rect x="70.70" y="516.92" width="7.04" height="7.94" fill="#34628d"/><rect x="77.74" y="516.92" width="7.04" height="7.94" fill="#414286"/><rect x="84.78" y="516.92" width="7.04" height="7.94" fill="#238d8c"/><rect x="91.82" y="516.92" width="7.04" height="7.94" fill="#34628d"/><rect x="98.86" y="516.92" width="7.04" height="7.94" fill="#3b528a"/><rect x="105.90" y="516.92" width="7.04" height="7.94" fill="#34628d"/><rect x="112.94" y="516.92" width="7.04" height="7.94" fill="#34628d"/><rect x="119.98" y="516.92" width="7.04" height="7.94" fill="#2e708e"/><rect x="127.02" y="516.92" width="7.04" height="7.94" fill="#35b579"/><rect x="134.06" y="516.92" width="7.04" height="7.94" fill="#8cd545"/><rect x="141.10" y="516.92" width="7.04" height="7.94" fill="#287e8e"/><rect x="148.14" y="516.92" width="7.04" height="7.94" fill="#238d8c"/><rect x="155.18" y="516.92" width="7.04" height="7.94" fill="#287e8e"/><rect x="35.50" y="524.86" width="7.04" height="7.94" fill="#3b528a"/><rect x="42.54" y="524.86" width="7.04" height="7.94" fill="#414286"/><rect x="49.58" y="524.86" width="7.04" height="7.94" fill="#3b528a"/><rect x="56.62" y="524.86" width="7.04" height="7.94" fill="#34628d"/><rect x="63.66" y="524.86" width="7.04" height="7.94" fill="#414286"/><rect x="70.70" y="524.86" width="7.04" height="7.94" fill="#3b528a"/><rect x="77.74" y="524.86" width="7.04" height="7.94" fill="#414286"/><rect x="84.78" y="524.86" width="7.04" height="7.94" fill="#34628d"/><rect x="91.82" y="524.86" width="7.04" height="7.94" fill="#34628d"/><rect x="98.86" y="524.86" width="7.04" height="7.94" fill="#34628d"/><rect x="105.90" y="524.86" width="7.04" height="7.94" fill="#414286"/><rect x="112.94" y="524.86" width="7.04" height="7.94" fill="#3b528a"/><rect x="119.98" y="524.86" width="7.04" height="7.94" fill="#2e708e"/><rect x="127.02" y="524.86" width="7.04" height="7.94" fill="#4bc16c"/><rect x="134.06" y="524.86" width="7.04" height="7.94" fill="#219a89"/><rect x="141.10" y="524.86" width="7.04" height="7.94" fill="#287e8e"/><rect x="148.14" y="524.86" width="7.04" height="7.94" fill="#35b579"/><rect x="155.18" y="524.86" width="7.04" height="7.94" fill="#287e8e"/><rect x="35.50" y="532.80" width="7.04" height="7.94" fill="#414286"/><rect x="42.54" y="532.80" width="7.04" height="7.94" fill="#45307c"/><rect x="49.58" y="532.80" width="7.04" height="7.94" fill="#3b528a"/><rect x="56.62" y="532.80" width="7.04" height="7.94" fill="#414286"/><rect x="63.66" y="532.80" width="7.04" height="7.94" fill="#34628d"/><rect x="70.70" y="532.80" width="7.04" height="7.94" fill="#414286"/><rect x="77.74" y="532.80" width="7.04" height="7.94" fill="#34628d"/><rect x="84.78" y="532.80" width="7.04" height="7.94" fill="#34628d"/><rect x="91.82" y="532.80" width="7.04" height="7.94" fill="#34628d"/><rect x="98.86" y="532.80" width="7.04" height="7.94" fill="#2e708e"/><rect x="105.90" y="532.80" width="7.04" height="7.94" fill="#34628d"/><rect x="112.94" y="532.80" width="7.04" height="7.94" fill="#2e708e"/><rect x="119.98" y="532.80" width="7.04" height="7.94" fill="#34628d"/><rect x="127.02" y="532.80" width="7.04" height="7.94" fill="#4bc16c"/><rect x="134.06" y="532.80" width="7.04" height="7.94" fill="#238d8c"/><rect x="141.10" y="532.80" width="7.04" height="7.94" fill="#238d8c"/><rect x="148.14" y="532.80" width="7.04" height="7.94" fill="#35b579"/><rect x="155.18" y="532.80" width="7.04" height="7.94" fill="#287e8e"/><rect x="35.50" y="540.74" width="7.04" height="7.94" fill="#414286"/><rect x="42.54" y="540.74" width="7.04" height="7.94" fill="#414286"/><rect x="49.58" y="540.74" width="7.04" height="7.94" fill="#414286"/><rect x="56.62" y="540.74" width="7.04" height="7.94" fill="#3b528a"/><rect x="63.66" y="540.74" width="7.04" height="7.94" fill="#414286"/><rect x="70.70" y="540.74" width="7.04" height="7.94" fill="#45307c"/><rect x="77.74" y="540.74" width="7.04" height="7.94" fill="#3b528a"/><rect x="84.78" y="540.74" width="7.04" height="7.94" fill="#34628d"/><rect x="91.82" y="540.74" width="7.04" height="7.94" fill="#34628d"/><rect x="98.86" y="540.74" width="7.04" height="7.94" fill="#34628d"/><rect x="105.90" y="540.74" width="7.04" height="7.94" fill="#3b528a"/><rect x="112.94" y="540.74" width="7.04" height="7.94" fill="#34628d"/><rect x="119.98" y="540.74" width="7.04" height="7.94" fill="#287e8e"/><rect x="127.02" y="540.74" width="7.04" height="7.94" fill="#4bc16c"/><rect x="134.06" y="540.74" width="7.04" height="7.94" fill="#4bc16c"/><rect x="141.10" y="540.74" width="7.04" height="7.94" fill="#238d8c"/><rect x="148.14" y="540.74" width="7.04" height="7.94" fill="#219a89"/><rect x="155.18" y="540.74" width="7.04" height="7.94" fill="#238d8c"/><rect x="35.50" y="548.68" width="7.04" height="7.94" fill="#414286"/><rect x="42.54" y="548.68" width="7.04" height="7.94" fill="#45307c"/><rect x="49.58" y="548.68" width="7.04" height="7.94" fill="#34628d"/><rect x="56.62" y="548.68" width="7.04" height="7.94" fill="#3b528a"/><rect x="63.66" y="548.68" width="7.04" height="7.94" fill="#45307c"/><rect x="70.70" y="548.68" width="7.04" height="7.94" fill="#414286"/><rect x="77.74" y="548.68" width="7.04" height="7.94" fill="#414286"/><rect x="84.78" y="548.68" width="7.04" height="7.94" fill="#34628d"/><rect x="91.82" y="548.68" width="7.04" height="7.94" fill="#34628d"/><rect x="98.86" y="548.68" width="7.04" height="7.94" fill="#287e8e"/><rect x="105.90" y="548.68" width="7.04" height="7.94" fill="#238d8c"/><rect x="112.94" y="548.68" width="7.04" height="7.94" fill="#287e8e"/><rect x="119.98" y="548.68" width="7.04" height="7.94" fill="#238d8c"/><rect x="127.02" y="548.68" width="7.04" height="7.94" fill="#238d8c"/><rect x="134.06" y="548.68" width="7.04" height="7.94" fill="#219a89"/><rect x="141.10" y="548.68" width="7.04" height="7.94" fill="#22a784"/><rect x="148.14" y="548.68" width="7.04" height="7.94" fill="#35b579"/><rect x="155.18" y="548.68" width="7.04" height="7.94" fill="#4bc16c"/><rect x="35.50" y="556.62" width="7.04" height="7.94" fill="#45307c"/><rect x="42.54" y="556.62" width="7.04" height="7.94" fill="#45307c"/><rect x="49.58" y="556.62" width="7.04" height="7.94" fill="#45307c"/><rect x="56.62" y="556.62" width="7.04" height="7.94" fill="#3b528a"/><rect x="63.66" y="556.62" width="7.04" height="7.94" fill="#414286"/><rect x="70.70" y="556.62" width="7.04" height="7.94" fill="#3b528a"/><rect x="77.74" y="556.62" width="7.04" height="7.94" fill="#45307c"/><rect x="84.78" y="556.62" width="7.04" height="7.94" fill="#34628d"/><rect x="91.82" y="556.62" width="7.04" height="7.94" fill="#34628d"/><rect x="98.86" y="556.62" width="7.04" height="7.94" fill="#287e8e"/><rect x="105.90" y="556.62" width="7.04" height="7.94" fill="#2e708e"/><rect x="112.94" y="556.62" width="7.04" height="7.94" fill="#238d8c"/><rect x="119.98" y="556.62" width="7.04" height="7.94" fill="#238d8c"/><rect x="127.02" y="556.62" width="7.04" height="7.94" fill="#287e8e"/><rect x="134.06" y="556.62" width="7.04" height="7.94" fill="#238d8c"/><rect x="141.10" y="556.62" width="7.04" height="7.94" fill="#22a784"/><rect x="148.14" y="556.62" width="7.04" height="7.94" fill="#287e8e"/><rect x="155.18" y="556.62" width="7.04" height="7.94" fill="#35b579"/><rect x="35.50" y="564.56" width="7.04" height="7.94" fill="#471d6e"/><rect x="42.54" y="564.56" width="7.04" height="7.94" fill="#3b528a"/><rect x="49.58" y="564.56" width="7.04" height="7.94" fill="#45307c"/><rect x="56.62" y="564.56" width="7.04" height="7.94" fill="#45307c"/><rect x="63.66" y="564.56" width="7.04" height="7.94" fill="#414286"/><rect x="70.70" y="564.56" width="7.04" height="7.94" fill="#414286"/><rect x="77.74" y="564.56" width="7.04" height="7.94" fill="#3b528a"/><rect x="84.78" y="564.56" width="7.04" height="7.94" fill="#34628d"/><rect x="91.82" y="564.56" width="7.04" height="7.94" fill="#3b528a"/><rect x="98.86" y="564.56" width="7.04" height="7.94" fill="#287e8e"/><rect x="105.90" y="564.56" width="7.04" height="7.94" fill="#287e8e"/><rect x="112.94" y="564.56" width="7.04" height="7.94" fill="#238d8c"/><rect x="119.98" y="564.56" width="7.04" height="7.94" fill="#219a89"/><rect x="127.02" y="564.56" width="7.04" height="7.94" fill="#238d8c"/><rect x="134.06" y="564.56" width="7.04" height="7.94" fill="#238d8c"/><rect x="141.10" y="564.56" width="7.04" height="7.94" fill="#22a784"/><rect x="148.14" y="564.56" width="7.04" height="7.94" fill="#238d8c"/><rect x="155.18" y="564.56" width="7.04" height="7.94" fill="#22a784"/><rect x="35.50" y="572.50" width="7.04" height="7.94" fill="#3b528a"/><rect x="42.54" y="572.50" width="7.04" height="7.94" fill="#3b528a"/><rect x="49.58" y="572.50" width="7.04" height="7.94" fill="#3b528a"/><rect x="56.62" y="572.50" width="7.04" height="7.94" fill="#3b528a"/><rect x="63.66" y="572.50" width="7.04" height="7.94" fill="#3b528a"/><rect x="70.70" y="572.50" width="7.04" height="7.94" fill="#34628d"/><rect x="77.74" y="572.50" width="7.04" height="7.94" fill="#3b528a"/><rect x="84.78" y="572.50" width="7.04" height="7.94" fill="#34628d"/><rect x="91.82" y="572.50" width="7.04" height="7.94" fill="#34628d"/><rect x="98.86" y="572.50" width="7.04" height="7.94" fill="#34628d"/><rect x="105.90" y="572.50" width="7.04" height="7.94" fill="#2e708e"/><rect x="112.94" y="572.50" width="7.04" height="7.94" fill="#34628d"/><rect x="119.98" y="572.50" width="7.04" height="7.94" fill="#287e8e"/><rect x="127.02" y="572.50" width="7.04" height="7.94" fill="#287e8e"/><rect x="134.06" y="572.50" width="7.04" height="7.94" fill="#287e8e"/><rect x="141.10" y="572.50" width="7.04" height="7.94" fill="#22a784"/><rect x="148.14" y="572.50" width="7.04" height="7.94" fill="#238d8c"/><rect x="155.18" y="572.50" width="7.04" height="7.94" fill="#fde725"/><rect x="35.50" y="580.44" width="7.04" height="7.94" fill="#3b528a"/><rect x="42.54" y="580.44" width="7.04" height="7.94" fill="#3b528a"/><rect x="49.58" y="580.44" width="7.04" height="7.94" fill="#414286"/><rect x="56.62" y="580.44" width="7.04" height="7.94" fill="#3b528a"/><rect x="63.66" y="580.44" width="7.04" height="7.94" fill="#414286"/><rect x="70.70" y="580.44" width="7.04" height="7.94" fill="#2e708e"/><rect x="77.74" y="580.44" width="7.04" height="7.94" fill="#414286"/><rect x="84.78" y="580.44" width="7.04" height="7.94" fill="#2e708e"/><rect x="91.82" y="580.44" width="7.04" height="7.94" fill="#34628d"/><rect x="98.86" y="580.44" width="7.04" height="7.94" fill="#2e708e"/><rect x="105.90" y="580.44" width="7.04" height="7.94" fill="#2e708e"/><rect x="112.94" y="580.44" width="7.04" height="7.94" fill="#34628d"/><rect x="119.98" y="580.44" width="7.04" height="7.94" fill="#287e8e"/><rect x="127.02" y="580.44" width="7.04" height="7.94" fill="#238d8c"/><rect x="134.06" y="580.44" width="7.04" height="7.94" fill="#238d8c"/><rect x="141.10" y="580.44" width="7.04" height="7.94" fill="#22a784"/><rect x="148.14" y="580.44" width="7.04" height="7.94" fill="#238d8c"/><rect x="155.18" y="580.44" width="7.04" height="7.94" fill="#d8e226"/><rect x="35.50" y="588.38" width="7.04" height="7.94" fill="#45307c"/><rect x="42.54" y="588.38" width="7.04" height="7.94" fill="#45307c"/><rect x="49.58" y="588.38" width="7.04" height="7.94" fill="#34628d"/><rect x="56.62" y="588.38" width="7.04" height="7.94" fill="#414286"/><rect x="63.66" y="588.38" width="7.04" height="7.94" fill="#414286"/><rect x="70.70" y="588.38" width="7.04" height="7.94" fill="#3b528a"/><rect x="77.74" y="588.38" width="7.04" height="7.94" fill="#414286"/><rect x="84.78" y="588.38" width="7.04" height="7.94" fill="#34628d"/><rect x="91.82" y="588.38" width="7.04" height="7.94" fill="#34628d"/><rect x="98.86" y="588.38" width="7.04" height="7.94" fill="#34628d"/><rect x="105.90" y="588.38" width="7.04" height="7.94" fill="#2e708e"/><rect x="112.94" y="588.38" width="7.04" height="7.94" fill="#287e8e"/><rect x="119.98" y="588.38" width="7.04" height="7.94" fill="#287e8e"/><rect x="127.02" y="588.38" width="7.04" height="7.94" fill="#238d8c"/><rect x="134.06" y="588.38" width="7.04" height="7.94" fill="#287e8e"/><rect x="141.10" y="588.38" width="7.04" height="7.94" fill="#287e8e"/><rect x="148.14" y="588.38" width="7.04" height="7.94" fill="#22a784"/><rect x="155.18" y="588.38" width="7.04" height="7.94" fill="#b3dd2c"/><rect x="35.50" y="596.32" width="7.04" height="7.94" fill="#414286"/><rect x="42.54" y="596.32" width="7.04" height="7.94" fill="#45307c"/><rect x="49.58" y="596.32" width="7.04" height="7.94" fill="#45307c"/><rect x="56.62" y="596.32" width="7.04" height="7.94" fill="#45307c"/><rect x="63.66" y="596.32" width="7.04" height="7.94" fill="#45307c"/><rect x="70.70" y="596.32" width="7.04" height="7.94" fill="#414286"/><rect x="77.74" y="596.32" width="7.04" height="7.94" fill="#3b528a"/><rect x="84.78" y="596.32" width="7.04" height="7.94" fill="#34628d"/><rect x="91.82" y="596.32" width="7.04" height="7.94" fill="#34628d"/><rect x="98.86" y="596.32" width="7.04" height="7.94" fill="#3b528a"/><rect x="105.90" y="596.32" width="7.04" height="7.94" fill="#2e708e"/><rect x="112.94" y="596.32" width="7.04" height="7.94" fill="#238d8c"/><rect x="119.98" y="596.32" width="7.04" height="7.94" fill="#22a784"/><rect x="127.02" y="596.32" width="7.04" height="7.94" fill="#238d8c"/><rect x="134.06" y="596.32" width="7.04" height="7.94" fill="#287e8e"/><rect x="141.10" y="596.32" width="7.04" height="7.94" fill="#238d8c"/><rect x="148.14" y="596.32" width="7.04" height="7.94" fill="#22a784"/><rect x="155.18" y="596.32" width="7.04" height="7.94" fill="#6acc5a"/><rect x="35.50" y="604.26" width="7.04" height="7.94" fill="#414286"/><rect x="42.54" y="604.26" width="7.04" height="7.94" fill="#414286"/><rect x="49.58" y="604.26" width="7.04" height="7.94" fill="#414286"/><rect x="56.62" y="604.26" width="7.04" height="7.94" fill="#414286"/><rect x="63.66" y="604.26" width="7.04" height="7.94" fill="#414286"/><rect x="70.70" y="604.26" width="7.04" height="7.94" fill="#45307c"/><rect x="77.74" y="604.26" width="7.04" height="7.94" fill="#3b528a"/><rect x="84.78" y="604.26" width="7.04" height="7.94" fill="#3b528a"/><rect x="91.82" y="604.26" width="7.04" height="7.94" fill="#34628d"/><rect x="98.86" y="604.26" width="7.04" height="7.94" fill="#34628d"/><rect x="105.90" y="604.26" width="7.04" height="7.94" fill="#287e8e"/><rect x="112.94" y="604.26" width="7.04" height="7.94" fill="#2e708e"/><rect x="119.98" y="604.26" width="7.04" height="7.94" fill="#287e8e"/><rect x="127.02" y="604.26" width="7.04" height="7.94" fill="#4bc16c"/><rect x="134.06" y="604.26" width="7.04" height="7.94" fill="#287e8e"/><rect x="141.10" y="604.26" width="7.04" height="7.94" fill="#22a784"/><rect x="148.14" y="604.26" width="7.04" height="7.94" fill="#287e8e"/><rect x="155.18" y="604.26" width="7.04" height="7.94" fill="#8cd545"/><rect x="35.50" y="612.20" width="7.04" height="7.94" fill="#3b528a"/><rect x="42.54" y="612.20" width="7.04" height="7.94" fill="#414286"/><rect x="49.58" y="612.20" width="7.04" height="7.94" fill="#414286"/><rect x="56.62" y="612.20" width="7.04" height="7.94" fill="#34628d"/><rect x="63.66" y="612.20" width="7.04" height="7.94" fill="#414286"/><rect x="70.70" y="612.20" width="7.04" height="7.94" fill="#414286"/><rect x="77.74" y="612.20" width="7.04" height="7.94" fill="#3b528a"/><rect x="84.78" y="612.20" width="7.04" height="7.94" fill="#34628d"/><rect x="91.82" y="612.20" width="7.04" height="7.94" fill="#34628d"/><rect x="98.86" y="612.20" width="7.04" height="7.94" fill="#34628d"/><rect x="105.90" y="612.20" width="7.04" height="7.94" fill="#2e708e"/><rect x="112.94" y="612.20" width="7.04" height="7.94" fill="#238d8c"/><rect x="119.98" y="612.20" width="7.04" height="7.94" fill="#287e8e"/><rect x="127.02" y="612.20" width="7.04" height="7.94" fill="#22a784"/><rect x="134.06" y="612.20" width="7.04" height="7.94" fill="#287e8e"/><rect x="141.10" y="612.20" width="7.04" height="7.94" fill="#287e8e"/><rect x="148.14" y="612.20" width="7.04" height="7.94" fill="#fde725"/><rect x="155.18" y="612.20" width="7.04" height="7.94" fill="#238d8c"/><rect x="35.50" y="620.14" width="7.04" height="7.94" fill="#414286"/><rect x="42.54" y="620.14" width="7.04" height="7.94" fill="#414286"/><rect x="49.58" y="620.14" width="7.04" height="7.94" fill="#414286"/><rect x="56.62" y="620.14" width="7.04" height="7.94" fill="#34628d"/><rect x="63.66" y="620.14" width="7.04" height="7.94" fill="#34628d"/><rect x="70.70" y="620.14" width="7.04" height="7.94" fill="#45307c"/><rect x="77.74" y="620.14" width="7.04" height="7.94" fill="#3b528a"/><rect x="84.78" y="620.14" width="7.04" height="7.94" fill="#34628d"/><rect x="91.82" y="620.14" width="7.04" height="7.94" fill="#34628d"/><rect x="98.86" y="620.14" width="7.04" height="7.94" fill="#2e708e"/><rect x="105.90" y="620.14" width="7.04" height="7.94" fill="#34628d"/><rect x="112.94" y="620.14" width="7.04" height="7.94" fill="#287e8e"/><rect x="119.98" y="620.14" width="7.04" height="7.94" fill="#34628d"/><rect x="127.02" y="620.14" width="7.04" height="7.94" fill="#3b528a"/><rect x="134.06" y="620.14" width="7.04" height="7.94" fill="#287e8e"/><rect x="141.10" y="620.14" width="7.04" height="7.94" fill="#22a784"/><rect x="148.14" y="620.14" width="7.04" height="7.94" fill="#6acc5a"/><rect x="155.18" y="620.14" width="7.04" height="7.94" fill="#22a784"/><rect x="35.50" y="628.08" width="7.04" height="7.94" fill="#414286"/><rect x="42.54" y="628.08" width="7.04" height="7.94" fill="#414286"/><rect x="49.58" y="628.08" width="7.04" height="7.94" fill="#414286"/><rect x="56.62" y="628.08" width="7.04" height="7.94" fill="#414286"/><rect x="63.66" y="628.08" width="7.04" height="7.94" fill="#414286"/><rect x="70.70" y="628.08" width="7.04" height="7.94" fill="#414286"/><rect x="77.74" y="628.08" width="7.04" height="7.94" fill="#2e708e"/><rect x="84.78" y="628.08" width="7.04" height="7.94" fill="#3b528a"/><rect x="91.82" y="628.08" width="7.04" height="7.94" fill="#238d8c"/><rect x="98.86" y="628.08" width="7.04" height="7.94" fill="#34628d"/><rect x="105.90" y="628.08" width="7.04" height="7.94" fill="#34628d"/><rect x="112.94" y="628.08" width="7.04" height="7.94" fill="#238d8c"/><rect x="119.98" y="628.08" width="7.04" height="7.94" fill="#2e708e"/><rect x="127.02" y="628.08" width="7.04" height="7.94" fill="#3b528a"/><rect x="134.06" y="628.08" width="7.04" height="7.94" fill="#287e8e"/><rect x="141.10" y="628.08" width="7.04" height="7.94" fill="#34628d"/><rect x="148.14" y="628.08" width="7.04" height="7.94" fill="#6acc5a"/><rect x="155.18" y="628.08" width="7.04" height="7.94" fill="#22a784"/><rect x="35.50" y="636.02" width="7.04" height="7.94" fill="#414286"/><rect x="42.54" y="636.02" width="7.04" height="7.94" fill="#3b528a"/><rect x="49.58" y="636.02" width="7.04" height="7.94" fill="#414286"/><rect x="56.62" y="636.02" width="7.04" height="7.94" fill="#3b528a"/><rect x="63.66" y="636.02" width="7.04" height="7.94" fill="#414286"/><rect x="70.70" y="636.02" width="7.04" height="7.94" fill="#414286"/><rect x="77.74" y="636.02" width="7.04" height="7.94" fill="#34628d"/><rect x="84.78" y="636.02" width="7.04" height="7.94" fill="#34628d"/><rect x="91.82" y="636.02" width="7.04" height="7.94" fill="#238d8c"/><rect x="98.86" y="636.02" width="7.04" height="7.94" fill="#287e8e"/><rect x="105.90" y="636.02" width="7.04" height="7.94" fill="#287e8e"/><rect x="112.94" y="636.02" width="7.04" height="7.94" fill="#287e8e"/><rect x="119.98" y="636.02" width="7.04" height="7.94" fill="#22a784"/><rect x="127.02" y="636.02" width="7.04" height="7.94" fill="#34628d"/><rect x="134.06" y="636.02" width="7.04" height="7.94" fill="#34628d"/><rect x="141.10" y="636.02" width="7.04" height="7.94" fill="#34628d"/><rect x="148.14" y="636.02" width="7.04" height="7.94" fill="#6acc5a"/><rect x="155.18" y="636.02" width="7.04" height="7.94" fill="#2e708e"/><rect x="35.50" y="643.96" width="7.04" height="7.94" fill="#45307c"/><rect x="42.54" y="643.96" width="7.04" height="7.94" fill="#45307c"/><rect x="49.58" y="643.96" width="7.04" height="7.94" fill="#414286"/><rect x="56.62" y="643.96" width="7.04" height="7.94" fill="#3b528a"/><rect x="63.66" y="643.96" width="7.04" height="7.94" fill="#414286"/><rect x="70.70" y="643.96" width="7.04" height="7.94" fill="#414286"/><rect x="77.74" y="643.96" width="7.04" height="7.94" fill="#34628d"/><rect x="84.78" y="643.96" width="7.04" height="7.94" fill="#34628d"/><rect x="91.82" y="643.96" width="7.04" height="7.94" fill="#2e708e"/><rect x="98.86" y="643.96" width="7.04" height="7.94" fill="#287e8e"/><rect x="105.90" y="643.96" width="7.04" height="7.94" fill="#22a784"/><rect x="112.94" y="643.96" width="7.04" height="7.94" fill="#22a784"/><rect x="119.98" y="643.96" width="7.04" height="7.94" fill="#6acc5a"/><rect x="127.02" y="643.96" width="7.04" height="7.94" fill="#34628d"/><rect x="134.06" y="643.96" width="7.04" height="7.94" fill="#34628d"/><rect x="141.10" y="643.96" width="7.04" height="7.94" fill="#414286"/><rect x="148.14" y="643.96" width="7.04" height="7.94" fill="#287e8e"/><rect x="155.18" y="643.96" width="7.04" height="7.94" fill="#2e708e"/><rect x="35.50" y="651.90" width="7.04" height="7.94" fill="#414286"/><rect x="42.54" y="651.90" width="7.04" height="7.94" fill="#3b528a"/><rect x="49.58" y="651.90" width="7.04" height="7.94" fill="#414286"/><rect x="56.62" y="651.90" width="7.04" height="7.94" fill="#3b528a"/><rect x="63.66" y="651.90" width="7.04" height="7.94" fill="#414286"/><rect x="70.70" y="651.90" width="7.04" height="7.94" fill="#3b528a"/><rect x="77.74" y="651.90" width="7.04" height="7.94" fill="#414286"/><rect x="84.78" y="651.90" width="7.04" height="7.94" fill="#3b528a"/><rect x="91.82" y="651.90" width="7.04" height="7.94" fill="#34628d"/><rect x="98.86" y="651.90" width="7.04" height="7.94" fill="#34628d"/><rect x="105.90" y="651.90" width="7.04" height="7.94" fill="#34628d"/><rect x="112.94" y="651.90" width="7.04" height="7.94" fill="#287e8e"/><rect x="119.98" y="651.90" width="7.04" height="7.94" fill="#fde725"/><rect x="127.02" y="651.90" width="7.04" height="7.94" fill="#287e8e"/><rect x="134.06" y="651.90" width="7.04" height="7.94" fill="#2e708e"/><rect x="141.10" y="651.90" width="7.04" height="7.94" fill="#34628d"/><rect x="148.14" y="651.90" width="7.04" height="7.94" fill="#22a784"/><rect x="155.18" y="651.90" width="7.04" height="7.94" fill="#34628d"/><rect x="35.50" y="659.84" width="7.04" height="7.94" fill="#414286"/><rect x="42.54" y="659.84" width="7.04" height="7.94" fill="#414286"/><rect x="49.58" y="659.84" width="7.04" height="7.94" fill="#414286"/><rect x="56.62" y="659.84" width="7.04" height="7.94" fill="#414286"/><rect x="63.66" y="659.84" width="7.04" height="7.94" fill="#414286"/><rect x="70.70" y="659.84" width="7.04" height="7.94" fill="#414286"/><rect x="77.74" y="659.84" width="7.04" height="7.94" fill="#414286"/><rect x="84.78" y="659.84" width="7.04" height="7.94" fill="#287e8e"/><rect x="91.82" y="659.84" width="7.04" height="7.94" fill="#3b528a"/><rect x="98.86" y="659.84" width="7.04" height="7.94" fill="#414286"/><rect x="105.90" y="659.84" width="7.04" height="7.94" fill="#2e708e"/><rect x="112.94" y="659.84" width="7.04" height="7.94" fill="#287e8e"/><rect x="119.98" y="659.84" width="7.04" height="7.94" fill="#35b579"/><rect x="127.02" y="659.84" width="7.04" height="7.94" fill="#35b579"/><rect x="134.06" y="659.84" width="7.04" height="7.94" fill="#4bc16c"/><rect x="141.10" y="659.84" width="7.04" height="7.94" fill="#34628d"/><rect x="148.14" y="659.84" width="7.04" height="7.94" fill="#3b528a"/><rect x="155.18" y="659.84" width="7.04" height="7.94" fill="#219a89"/><rect x="35.50" y="667.78" width="7.04" height="7.94" fill="#471d6e"/><rect x="42.54" y="667.78" width="7.04" height="7.94" fill="#471d6e"/><rect x="49.58" y="667.78" width="7.04" height="7.94" fill="#414286"/><rect x="56.62" y="667.78" width="7.04" height="7.94" fill="#45307c"/><rect x="63.66" y="667.78" width="7.04" height="7.94" fill="#34628d"/><rect x="70.70" y="667.78" width="7.04" height="7.94" fill="#2e708e"/><rect x="77.74" y="667.78" width="7.04" height="7.94" fill="#34628d"/><rect x="84.78" y="667.78" width="7.04" height="7.94" fill="#287e8e"/><rect x="91.82" y="667.78" width="7.04" height="7.94" fill="#22a784"/><rect x="98.86" y="667.78" width="7.04" height="7.94" fill="#219a89"/><rect x="105.90" y="667.78" width="7.04" height="7.94" fill="#287e8e"/><rect x="112.94" y="667.78" width="7.04" height="7.94" fill="#238d8c"/><rect x="119.98" y="667.78" width="7.04" height="7.94" fill="#219a89"/><rect x="127.02" y="667.78" width="7.04" height="7.94" fill="#287e8e"/><rect x="134.06" y="667.78" width="7.04" height="7.94" fill="#2e708e"/><rect x="141.10" y="667.78" width="7.04" height="7.94" fill="#287e8e"/><rect x="148.14" y="667.78" width="7.04" height="7.94" fill="#2e708e"/><rect x="155.18" y="667.78" width="7.04" height="7.94" fill="#238d8c"/><rect x="35.50" y="675.72" width="7.04" height="7.94" fill="#414286"/><rect x="42.54" y="675.72" width="7.04" height="7.94" fill="#3b528a"/><rect x="49.58" y="675.72" width="7.04" height="7.94" fill="#414286"/><rect x="56.62" y="675.72" width="7.04" height="7.94" fill="#414286"/><rect x="63.66" y="675.72" width="7.04" height="7.94" fill="#3b528a"/><rect x="70.70" y="675.72" width="7.04" height="7.94" fill="#414286"/><rect x="77.74" y="675.72" width="7.04" height="7.94" fill="#3b528a"/><rect x="84.78" y="675.72" width="7.04" height="7.94" fill="#34628d"/><rect x="91.82" y="675.72" width="7.04" height="7.94" fill="#34628d"/><rect x="98.86" y="675.72" width="7.04" height="7.94" fill="#287e8e"/><rect x="105.90" y="675.72" width="7.04" height="7.94" fill="#287e8e"/><rect x="112.94" y="675.72" width="7.04" height="7.94" fill="#2e708e"/><rect x="119.98" y="675.72" width="7.04" height="7.94" fill="#22a784"/><rect x="127.02" y="675.72" width="7.04" height="7.94" fill="#219a89"/><rect x="134.06" y="675.72" width="7.04" height="7.94" fill="#238d8c"/><rect x="141.10" y="675.72" width="7.04" height="7.94" fill="#35b579"/><rect x="148.14" y="675.72" width="7.04" height="7.94" fill="#414286"/><rect x="155.18" y="675.72" width="7.04" height="7.94" fill="#414286"/><rect x="35.50" y="683.66" width="7.04" height="7.94" fill="#414286"/><rect x="42.54" y="683.66" width="7.04" height="7.94" fill="#34628d"/><rect x="49.58" y="683.66" width="7.04" height="7.94" fill="#3b528a"/><rect x="56.62" y="683.66" width="7.04" height="7.94" fill="#414286"/><rect x="63.66" y="683.66" width="7.04" height="7.94" fill="#414286"/><rect x="70.70" y="683.66" width="7.04" height="7.94" fill="#414286"/><rect x="77.74" y="683.66" width="7.04" height="7.94" fill="#3b528a"/><rect x="84.78" y="683.66" width="7.04" height="7.94" fill="#3b528a"/><rect x="91.82" y="683.66" width="7.04" height="7.94" fill="#219a89"/><rect x="98.86" y="683.66" width="7.04" height="7.94" fill="#414286"/><rect x="105.90" y="683.66" width="7.04" height="7.94" fill="#22a784"/><rect x="112.94" y="683.66" width="7.04" height="7.94" fill="#35b579"/><rect x="119.98" y="683.66" width="7.04" height="7.94" fill="#287e8e"/><rect x="127.02" y="683.66" width="7.04" height="7.94" fill="#34628d"/><rect x="134.06" y="683.66" width="7.04" height="7.94" fill="#2e708e"/><rect x="141.10" y="683.66" width="7.04" height="7.94" fill="#35b579"/><rect x="148.14" y="683.66" width="7.04" height="7.94" fill="#3b528a"/><rect x="155.18" y="683.66" width="7.04" height="7.94" fill="#3b528a"/><rect x="35.50" y="691.60" width="7.04" height="7.94" fill="#414286"/><rect x="42.54" y="691.60" width="7.04" height="7.94" fill="#414286"/><rect x="49.58" y="691.60" width="7.04" height="7.94" fill="#414286"/><rect x="56.62" y="691.60" width="7.04" height="7.94" fill="#414286"/><rect x="63.66" y="691.60" width="7.04" height="7.94" fill="#414286"/><rect x="70.70" y="691.60" width="7.04" height="7.94" fill="#414286"/><rect x="77.74" y="691.60" width="7.04" height="7.94" fill="#34628d"/><rect x="84.78" y="691.60" width="7.04" height="7.94" fill="#3b528a"/><rect x="91.82" y="691.60" width="7.04" height="7.94" fill="#219a89"/><rect x="98.86" y="691.60" width="7.04" height="7.94" fill="#34628d"/><rect x="105.90" y="691.60" width="7.04" height="7.94" fill="#4bc16c"/><rect x="112.94" y="691.60" width="7.04" height="7.94" fill="#35b579"/><rect x="119.98" y="691.60" width="7.04" height="7.94" fill="#287e8e"/><rect x="127.02" y="691.60" width="7.04" height="7.94" fill="#287e8e"/><rect x="134.06" y="691.60" width="7.04" height="7.94" fill="#287e8e"/><rect x="141.10" y="691.60" width="7.04" height="7.94" fill="#34628d"/><rect x="148.14" y="691.60" width="7.04" height="7.94" fill="#2e708e"/><rect x="155.18" y="691.60" width="7.04" height="7.94" fill="#34628d"/><path d="M35.50 413.7V699.54M42.54 413.7V699.54M49.58 413.7V699.54M56.62 413.7V699.54M63.66 413.7V699.54M70.70 413.7V699.54M77.74 413.7V699.54M84.78 413.7V699.54M91.82 413.7V699.54M98.86 413.7V699.54M105.90 413.7V699.54M112.94 413.7V699.54M119.98 413.7V699.54M127.02 413.7V699.54M134.06 413.7V699.54M141.10 413.7V699.54M148.14 413.7V699.54M155.18 413.7V699.54M162.22 413.7V699.54M35.5 413.70H162.22M35.5 421.64H162.22M35.5 429.58H162.22M35.5 437.52H162.22M35.5 445.46H162.22M35.5 453.40H162.22M35.5 461.34H162.22M35.5 469.28H162.22M35.5 477.22H162.22M35.5 485.16H162.22M35.5 493.10H162.22M35.5 501.04H162.22M35.5 508.98H162.22M35.5 516.92H162.22M35.5 524.86H162.22M35.5 532.80H162.22M35.5 540.74H162.22M35.5 548.68H162.22M35.5 556.62H162.22M35.5 564.56H162.22M35.5 572.50H162.22M35.5 580.44H162.22M35.5 588.38H162.22M35.5 596.32H162.22M35.5 604.26H162.22M35.5 612.20H162.22M35.5 620.14H162.22M35.5 628.08H162.22M35.5 636.02H162.22M35.5 643.96H162.22M35.5 651.90H162.22M35.5 659.84H162.22M35.5 667.78H162.22M35.5 675.72H162.22M35.5 683.66H162.22M35.5 691.60H162.22M35.5 699.54H162.22" stroke="#22222c" stroke-width="0.85" fill="none"/><rect x="35.5" y="413.7" width="56.32" height="55.58" fill="none" stroke="#151515" stroke-width="1.35"/><rect x="91.82" y="469.28" width="70.40" height="230.26" fill="none" stroke="#151515" stroke-width="1.35"/><rect x="35.5" y="667.78" width="156.2" height="7.94" fill="none" stroke="#1a1a1a" stroke-width="0.9"/><text x="166.3" y="420.3" font-size="7.1" font-style="italic">IRGM</text><text x="166.3" y="428.2" font-size="7.1" font-style="italic">IL10</text><text x="166.3" y="436.2" font-size="7.1" font-style="italic">IRF8</text><text x="166.3" y="444.1" font-size="7.1" font-style="italic">TCF7</text><text x="166.3" y="452.0" font-size="7.1" font-style="italic">IMMP2L</text><text x="166.3" y="460.0" font-size="7.1" font-style="italic">CXCR5</text><text x="166.3" y="467.9" font-size="7.1" font-style="italic">CCR7</text><text x="166.3" y="475.9" font-size="7.1" font-style="italic">TNS3</text><text x="166.3" y="483.8" font-size="7.1" font-style="italic">ENTPD1</text><text x="166.3" y="491.7" font-size="7.1" font-style="italic">IL2RA</text><text x="166.3" y="499.7" font-size="7.1" font-style="italic">CCR8</text><text x="166.3" y="507.6" font-size="7.1" font-style="italic">CCR1</text><text x="166.3" y="515.6" font-size="7.1" font-style="italic">IL1RN</text><text x="166.3" y="523.5" font-size="7.1" font-style="italic">CADM1</text><text x="166.3" y="531.4" font-size="7.1" font-style="italic">CCL22</text><text x="166.3" y="539.4" font-size="7.1" font-style="italic">IL1R2</text><text x="166.3" y="547.3" font-size="7.1" font-style="italic">TNFRSF9</text><text x="166.3" y="555.3" font-size="7.1" font-style="italic">IL21R</text><text x="166.3" y="563.2" font-size="7.1" font-style="italic">FOXP3</text><text x="166.3" y="571.1" font-size="7.1" font-style="italic">IRAK2</text><text x="166.3" y="579.1" font-size="7.1" font-style="italic">TMPRSS</text><text x="166.3" y="587.0" font-size="7.1" font-style="italic">ATP1A4</text><text x="166.3" y="595.0" font-size="7.1" font-style="italic">IL21R-AS11</text><text x="166.3" y="602.9" font-size="7.1" font-style="italic">IKZF4</text><text x="166.3" y="610.8" font-size="7.1" font-style="italic">IL1A</text><text x="166.3" y="618.8" font-size="7.1" font-style="italic">CSF2RB</text><text x="166.3" y="626.7" font-size="7.1" font-style="italic">IL12RB2</text><text x="166.3" y="634.7" font-size="7.1" font-style="italic">TNFRSF8</text><text x="166.3" y="642.6" font-size="7.1" font-style="italic">TNFRSF18</text><text x="166.3" y="650.5" font-size="7.1" font-style="italic">ITPK1</text><text x="166.3" y="658.5" font-size="7.1" font-style="italic">IL17RB</text><text x="166.3" y="666.4" font-size="7.1" font-style="italic">TNFRSF11A</text><text x="166.3" y="674.4" font-size="7.1" font-style="italic">IL23R</text><text x="166.3" y="682.3" font-size="7.1" font-style="italic">PPRG</text><text x="166.3" y="690.2" font-size="7.1" font-style="italic">ITGAE</text><text x="166.3" y="698.2" font-size="7.1" font-style="italic">TNFRSF4</text><text x="63.6" y="394.4" font-size="8.1" text-anchor="middle">T<tspan font-size="5.0" dy="1.8">reg</tspan><tspan dy="-1.8"> </tspan>cells</text><text x="63.6" y="404.2" font-size="8.1" text-anchor="middle">healthy</text><text x="128.3" y="394.4" font-size="8.1" text-anchor="middle">T<tspan font-size="5.0" dy="1.8">reg</tspan><tspan dy="-1.8"> </tspan>cells</text><text x="128.3" y="404.2" font-size="8.1" text-anchor="middle">CRC</text><path d="M36.8 408.5H89.4M94 408.5H162.4" stroke="#333" stroke-width="0.9"/><text x="206.3" y="534.2" font-size="8.2">Expression</text><defs><linearGradient id="gf" x1="0" y1="0" x2="0" y2="1"><stop offset="0.0" stop-color="#fde725"/><stop offset="0.1" stop-color="#bddf26"/><stop offset="0.2" stop-color="#7ad151"/><stop offset="0.3" stop-color="#44bf70"/><stop offset="0.4" stop-color="#22a884"/><stop offset="0.5" stop-color="#21918c"/><stop offset="0.6" stop-color="#2a788e"/><stop offset="0.7" stop-color="#355f8d"/><stop offset="0.8" stop-color="#414487"/><stop offset="0.9" stop-color="#482475"/><stop offset="1.0" stop-color="#440154"/></linearGradient></defs><rect x="213.2" y="541.4" width="10.2" height="54.3" fill="url(#gf)"/><path d="M213.2 543.2h1.6M221.8 543.2h1.6" stroke="#fff" stroke-width="0.5" stroke-opacity="0.8"/><text x="226.2" y="545.8" font-size="7.6">4</text><path d="M213.2 560.1h1.6M221.8 560.1h1.6" stroke="#fff" stroke-width="0.5" stroke-opacity="0.8"/><text x="226.2" y="562.7" font-size="7.6">2</text><path d="M213.2 577h1.6M221.8 577h1.6" stroke="#fff" stroke-width="0.5" stroke-opacity="0.8"/><text x="226.2" y="579.6" font-size="7.6">0</text><path d="M213.2 593.8h1.6M221.8 593.8h1.6" stroke="#fff" stroke-width="0.5" stroke-opacity="0.8"/><text x="226.2" y="596.4" font-size="7.6">−2</text><text x="272.2" y="390.2" font-size="13" fill="#111" font-weight="bold">g</text><text x="290.0" y="402.6" font-size="8.2">Tumor T<tspan font-size="5.4" dy="2">reg</tspan><tspan dy="-2"> </tspan>cells</text><text x="366.7" y="423.5" font-size="8.4" text-anchor="middle">eT<tspan font-size="5.4" dy="2">reg</tspan><tspan dy="-2"> </tspan>cells signature</text><line x1="326.0" y1="425.1" x2="407.4" y2="425.1" stroke="#3a3a3a" stroke-width="0.6"/><circle cx="366.6" cy="528.8" r="15.7" fill="none" stroke="#dedede" stroke-width="0.55"/><circle cx="366.6" cy="528.8" r="32.7" fill="none" stroke="#dedede" stroke-width="0.55"/><circle cx="366.6" cy="528.8" r="49.7" fill="none" stroke="#dedede" stroke-width="0.55"/><circle cx="366.6" cy="528.8" r="66.7" fill="none" stroke="#dedede" stroke-width="0.55"/><circle cx="366.6" cy="528.8" r="75.0" fill="none" stroke="#dedede" stroke-width="0.55"/><path d="M366.6 528.8L354.3 454.8M366.6 528.8L378.9 454.8M366.6 528.8L402.3 462.8M366.6 528.8L421.8 478.0M366.6 528.8L435.3 498.7M366.6 528.8L441.3 522.6M366.6 528.8L439.3 547.2M366.6 528.8L429.4 569.8M366.6 528.8L412.7 588.0M366.6 528.8L391.0 599.7M366.6 528.8L366.6 603.8M366.6 528.8L342.2 599.7M366.6 528.8L320.5 588.0M366.6 528.8L303.8 569.8M366.6 528.8L293.9 547.2M366.6 528.8L291.9 522.6M366.6 528.8L297.9 498.7M366.6 528.8L311.4 478.0M366.6 528.8L330.9 462.8" stroke="#dedede" stroke-width="0.55" fill="none"/><path d="M345.49 465.53A66.70 66.70 0 0 1 366.02 462.10L366.31 496.10A32.70 32.70 0 0 0 356.25 497.78Z" fill="#201a4e" stroke="#262626" stroke-width="0.45"/><path d="M366.89 496.10A32.70 32.70 0 0 1 376.95 497.78L369.15 521.16A8.05 8.05 0 0 0 366.67 520.75Z" fill="#cdd1d9" stroke="#2a2a2a" stroke-width="0.55"/><path d="M383.43 481.13A50.55 50.55 0 0 1 397.30 488.64L386.46 502.82A32.70 32.70 0 0 0 377.49 497.97Z" fill="#201a4e" stroke="#262626" stroke-width="0.45"/><path d="M398.52 488.52A51.40 51.40 0 0 1 409.38 500.31L393.82 510.68A32.70 32.70 0 0 0 386.91 503.17Z" fill="#201a4e" stroke="#262626" stroke-width="0.45"/><path d="M409.87 501.06A51.40 51.40 0 0 1 416.32 515.75L398.23 520.50A32.70 32.70 0 0 0 394.13 511.15Z" fill="#201a4e" stroke="#262626" stroke-width="0.45"/><path d="M416.54 516.62A51.40 51.40 0 0 1 417.86 532.60L399.21 531.22A32.70 32.70 0 0 0 398.37 521.05Z" fill="#201a4e" stroke="#262626" stroke-width="0.45"/><path d="M418.12 533.52A51.74 51.74 0 0 1 414.16 549.17L396.66 541.67A32.70 32.70 0 0 0 399.16 531.78Z" fill="#201a4e" stroke="#262626" stroke-width="0.45"/><path d="M413.49 549.86A51.40 51.40 0 0 1 404.72 563.28L390.85 550.74A32.70 32.70 0 0 0 396.43 542.20Z" fill="#201a4e" stroke="#262626" stroke-width="0.45"/><path d="M404.11 563.94A51.40 51.40 0 0 1 391.46 573.79L382.41 557.42A32.70 32.70 0 0 0 390.46 551.16Z" fill="#201a4e" stroke="#262626" stroke-width="0.45"/><path d="M390.83 574.52A51.74 51.74 0 0 1 375.56 579.76L372.26 561.01A32.70 32.70 0 0 0 381.91 557.69Z" fill="#201a4e" stroke="#262626" stroke-width="0.45"/><path d="M374.62 579.57A51.40 51.40 0 0 1 358.58 579.57L361.50 561.10A32.70 32.70 0 0 0 371.70 561.10Z" fill="#201a4e" stroke="#262626" stroke-width="0.45"/><path d="M357.70 579.42A51.40 51.40 0 0 1 342.53 574.22L351.29 557.69A32.70 32.70 0 0 0 360.94 561.01Z" fill="#201a4e" stroke="#262626" stroke-width="0.45"/><path d="M341.58 574.09A51.74 51.74 0 0 1 328.84 564.17L342.74 551.16A32.70 32.70 0 0 0 350.79 557.42Z" fill="#201a4e" stroke="#262626" stroke-width="0.45"/><path d="M328.48 563.28A51.40 51.40 0 0 1 319.71 549.86L336.77 542.20A32.70 32.70 0 0 0 342.35 550.74Z" fill="#201a4e" stroke="#262626" stroke-width="0.45"/><path d="M319.35 549.04A51.40 51.40 0 0 1 315.41 533.49L334.04 531.78A32.70 32.70 0 0 0 336.54 541.67Z" fill="#201a4e" stroke="#262626" stroke-width="0.45"/><path d="M315.34 532.60A51.40 51.40 0 0 1 316.66 516.62L334.83 521.05A32.70 32.70 0 0 0 333.99 531.22Z" fill="#201a4e" stroke="#262626" stroke-width="0.45"/><path d="M316.88 515.75A51.40 51.40 0 0 1 323.33 501.06L339.07 511.15A32.70 32.70 0 0 0 334.97 520.50Z" fill="#201a4e" stroke="#262626" stroke-width="0.45"/><path d="M324.52 500.78A50.55 50.55 0 0 1 335.20 489.18L346.29 503.17A32.70 32.70 0 0 0 339.38 510.68Z" fill="#201a4e" stroke="#262626" stroke-width="0.45"/><path d="M335.38 487.96A51.40 51.40 0 0 1 349.49 480.33L355.71 497.97A32.70 32.70 0 0 0 346.74 502.82Z" fill="#201a4e" stroke="#262626" stroke-width="0.45"/><text x="351.4" y="447.1" font-size="6.75" text-anchor="middle" font-style="italic">TNFRSF8</text><text x="379.3" y="455.3" font-size="6.75" text-anchor="middle" font-style="italic">IL12RB2</text><text x="403.2" y="463.5" font-size="6.75" text-anchor="middle" font-style="italic">IL1R1</text><text x="423.3" y="479.1" font-size="6.75" text-anchor="middle" font-style="italic">CTLA4</text><text x="437.1" y="500.3" font-size="6.75" text-anchor="middle" font-style="italic">FURIN</text><text x="443.3" y="524.9" font-size="6.75" text-anchor="middle" font-style="italic">CCND2</text><text x="441.2" y="550.1" font-size="6.75" text-anchor="middle" font-style="italic">LGALS1</text><text x="431.1" y="573.3" font-size="6.75" text-anchor="middle" font-style="italic">TNFRSF1B</text><text x="413.9" y="592.0" font-size="6.75" text-anchor="middle" font-style="italic">IL2RA</text><text x="391.6" y="604.1" font-size="6.75" text-anchor="middle" font-style="italic">CD83</text><text x="367.0" y="610.9" font-size="6.75" text-anchor="middle" font-style="italic">HAVCR2</text><text x="341.6" y="604.1" font-size="6.75" text-anchor="middle" font-style="italic">IL1R2</text><text x="319.3" y="592.0" font-size="6.75" text-anchor="middle" font-style="italic">LAG3</text><text x="302.1" y="573.3" font-size="6.75" text-anchor="middle" font-style="italic">LAYN</text><text x="292.0" y="550.1" font-size="6.75" text-anchor="middle" font-style="italic">TNFRSF9</text><text x="289.9" y="524.9" font-size="6.75" text-anchor="middle" font-style="italic">TNFRSF4</text><text x="296.1" y="500.3" font-size="6.75" text-anchor="middle" font-style="italic">TNFRSF18</text><text x="309.9" y="479.1" font-size="6.75" text-anchor="middle" font-style="italic">ENTPD1</text><text x="330.0" y="463.5" font-size="6.75" text-anchor="middle" font-style="italic">VDR</text><text x="592.4" y="422.5" font-size="8.4" text-anchor="middle">Transcription factors</text><line x1="550.0" y1="424.1" x2="634.8" y2="424.1" stroke="#3a3a3a" stroke-width="0.6"/><circle cx="592.6" cy="528.0" r="16.8" fill="none" stroke="#dedede" stroke-width="0.55"/><circle cx="592.6" cy="528.0" r="33.8" fill="none" stroke="#dedede" stroke-width="0.55"/><circle cx="592.6" cy="528.0" r="50.8" fill="none" stroke="#dedede" stroke-width="0.55"/><circle cx="592.6" cy="528.0" r="67.8" fill="none" stroke="#dedede" stroke-width="0.55"/><circle cx="592.6" cy="528.0" r="75.0" fill="none" stroke="#dedede" stroke-width="0.55"/><path d="M592.6 528.0L585.9 453.3M592.6 528.0L599.3 453.3M592.6 528.0L612.6 455.7M592.6 528.0L625.1 460.4M592.6 528.0L636.7 467.3M592.6 528.0L646.8 476.2M592.6 528.0L655.2 486.7M592.6 528.0L661.6 498.5M592.6 528.0L665.7 511.3M592.6 528.0L667.5 524.6M592.6 528.0L666.9 538.1M592.6 528.0L663.9 551.2M592.6 528.0L658.6 563.5M592.6 528.0L651.2 574.8M592.6 528.0L641.9 584.5M592.6 528.0L631.1 592.4M592.6 528.0L619.0 598.2M592.6 528.0L606.0 601.8M592.6 528.0L592.6 603.0M592.6 528.0L579.2 601.8M592.6 528.0L566.2 598.2M592.6 528.0L554.1 592.4M592.6 528.0L543.3 584.5M592.6 528.0L534.0 574.8M592.6 528.0L526.6 563.5M592.6 528.0L521.3 551.2M592.6 528.0L518.3 538.1M592.6 528.0L517.7 524.6M592.6 528.0L519.5 511.3M592.6 528.0L523.6 498.5M592.6 528.0L530.0 486.7M592.6 528.0L538.4 476.2M592.6 528.0L548.5 467.3M592.6 528.0L560.1 460.4M592.6 528.0L572.6 455.7" stroke="#dedede" stroke-width="0.55" fill="none"/><path d="M581.19 462.89A66.10 66.10 0 0 1 592.20 461.90L592.39 494.20A33.80 33.80 0 0 0 586.77 494.71Z" fill="#201a4e" stroke="#262626" stroke-width="0.45"/><path d="M592.81 494.20A33.80 33.80 0 0 1 598.43 494.71L595.50 511.45A16.80 16.80 0 0 0 592.70 511.20Z" fill="#cdd1d9" stroke="#2a2a2a" stroke-width="0.55"/><path d="M592.60 528.00L598.84 494.78A33.80 33.80 0 0 1 604.28 496.28Z" fill="#cdd1d9" stroke="#2a2a2a" stroke-width="0.55"/><path d="M592.60 528.00L604.67 496.43A33.80 33.80 0 0 1 609.76 498.88Z" fill="#cdd1d9" stroke="#2a2a2a" stroke-width="0.55"/><path d="M592.60 528.00L610.11 499.09A33.80 33.80 0 0 1 614.68 502.41Z" fill="#cdd1d9" stroke="#2a2a2a" stroke-width="0.55"/><path d="M592.60 528.00L614.99 502.68A33.80 33.80 0 0 1 618.90 506.77Z" fill="#cdd1d9" stroke="#2a2a2a" stroke-width="0.55"/><path d="M592.60 528.00L619.15 507.09A33.80 33.80 0 0 1 622.27 511.80Z" fill="#cdd1d9" stroke="#2a2a2a" stroke-width="0.55"/><path d="M638.68 503.56A52.16 52.16 0 0 1 642.11 511.58L624.68 517.36A33.80 33.80 0 0 0 622.46 512.17Z" fill="#201a4e" stroke="#262626" stroke-width="0.45"/><path d="M642.30 512.19A52.16 52.16 0 0 1 644.24 520.68L626.07 523.26A33.80 33.80 0 0 0 624.81 517.75Z" fill="#201a4e" stroke="#262626" stroke-width="0.45"/><path d="M644.33 521.31A52.16 52.16 0 0 1 644.72 530.02L626.37 529.31A33.80 33.80 0 0 0 626.12 523.67Z" fill="#201a4e" stroke="#262626" stroke-width="0.45"/><path d="M644.69 530.66A52.16 52.16 0 0 1 643.52 539.30L625.60 535.32A33.80 33.80 0 0 0 626.36 529.72Z" fill="#201a4e" stroke="#262626" stroke-width="0.45"/><path d="M643.38 539.92A52.16 52.16 0 0 1 640.69 548.21L623.76 541.09A33.80 33.80 0 0 0 625.51 535.72Z" fill="#201a4e" stroke="#262626" stroke-width="0.45"/><path d="M640.44 548.79A52.16 52.16 0 0 1 636.31 556.47L620.92 546.45A33.80 33.80 0 0 0 623.60 541.47Z" fill="#201a4e" stroke="#262626" stroke-width="0.45"/><path d="M635.95 557.00A52.16 52.16 0 0 1 630.52 563.81L617.17 551.21A33.80 33.80 0 0 0 620.69 546.79Z" fill="#201a4e" stroke="#262626" stroke-width="0.45"/><path d="M630.08 564.28A52.16 52.16 0 0 1 623.52 570.01L612.63 555.22A33.80 33.80 0 0 0 616.89 551.51Z" fill="#201a4e" stroke="#262626" stroke-width="0.45"/><path d="M623.00 570.38A52.16 52.16 0 0 1 615.52 574.86L607.45 558.36A33.80 33.80 0 0 0 612.30 555.47Z" fill="#201a4e" stroke="#262626" stroke-width="0.45"/><path d="M614.94 575.13A52.16 52.16 0 0 1 606.78 578.19L601.79 560.53A33.80 33.80 0 0 0 607.08 558.54Z" fill="#201a4e" stroke="#262626" stroke-width="0.45"/><path d="M606.17 578.36A52.16 52.16 0 0 1 597.59 579.92L595.84 561.64A33.80 33.80 0 0 0 601.39 560.64Z" fill="#201a4e" stroke="#262626" stroke-width="0.45"/><path d="M596.96 579.98A52.16 52.16 0 0 1 588.24 579.98L589.78 561.68A33.80 33.80 0 0 0 595.42 561.68Z" fill="#201a4e" stroke="#262626" stroke-width="0.45"/><path d="M587.61 579.92A52.16 52.16 0 0 1 579.03 578.36L583.81 560.64A33.80 33.80 0 0 0 589.36 561.64Z" fill="#201a4e" stroke="#262626" stroke-width="0.45"/><path d="M578.42 578.19A52.16 52.16 0 0 1 570.26 575.13L578.12 558.54A33.80 33.80 0 0 0 583.41 560.53Z" fill="#201a4e" stroke="#262626" stroke-width="0.45"/><path d="M569.68 574.86A52.16 52.16 0 0 1 562.20 570.38L572.90 555.47A33.80 33.80 0 0 0 577.75 558.36Z" fill="#201a4e" stroke="#262626" stroke-width="0.45"/><path d="M561.68 570.01A52.16 52.16 0 0 1 555.12 564.28L568.31 551.51A33.80 33.80 0 0 0 572.57 555.22Z" fill="#201a4e" stroke="#262626" stroke-width="0.45"/><path d="M554.68 563.81A52.16 52.16 0 0 1 549.25 557.00L564.51 546.79A33.80 33.80 0 0 0 568.03 551.21Z" fill="#201a4e" stroke="#262626" stroke-width="0.45"/><path d="M548.89 556.47A52.16 52.16 0 0 1 544.76 548.79L561.60 541.47A33.80 33.80 0 0 0 564.28 546.45Z" fill="#201a4e" stroke="#262626" stroke-width="0.45"/><path d="M544.51 548.21A52.16 52.16 0 0 1 541.82 539.92L559.69 535.72A33.80 33.80 0 0 0 561.44 541.09Z" fill="#201a4e" stroke="#262626" stroke-width="0.45"/><path d="M541.68 539.30A52.16 52.16 0 0 1 540.51 530.66L558.84 529.72A33.80 33.80 0 0 0 559.60 535.32Z" fill="#201a4e" stroke="#262626" stroke-width="0.45"/><path d="M540.48 530.02A52.16 52.16 0 0 1 540.87 521.31L559.08 523.67A33.80 33.80 0 0 0 558.83 529.31Z" fill="#201a4e" stroke="#262626" stroke-width="0.45"/><path d="M540.96 520.68A52.16 52.16 0 0 1 542.90 512.19L560.39 517.75A33.80 33.80 0 0 0 559.13 523.26Z" fill="#201a4e" stroke="#262626" stroke-width="0.45"/><path d="M543.09 511.58A52.16 52.16 0 0 1 546.52 503.56L562.74 512.17A33.80 33.80 0 0 0 560.52 517.36Z" fill="#201a4e" stroke="#262626" stroke-width="0.45"/><path d="M546.82 503.00A52.16 52.16 0 0 1 551.62 495.73L566.05 507.09A33.80 33.80 0 0 0 562.93 511.80Z" fill="#201a4e" stroke="#262626" stroke-width="0.45"/><path d="M552.02 495.23A52.16 52.16 0 0 1 558.04 488.93L570.21 502.68A33.80 33.80 0 0 0 566.30 506.77Z" fill="#201a4e" stroke="#262626" stroke-width="0.45"/><path d="M558.52 488.51A52.16 52.16 0 0 1 565.57 483.39L575.09 499.09A33.80 33.80 0 0 0 570.52 502.41Z" fill="#201a4e" stroke="#262626" stroke-width="0.45"/><path d="M565.52 482.04A53.35 53.35 0 0 1 573.55 478.17L580.53 496.43A33.80 33.80 0 0 0 575.44 498.88Z" fill="#201a4e" stroke="#262626" stroke-width="0.45"/><path d="M573.57 476.34A55.05 55.05 0 0 1 582.44 473.90L586.36 494.78A33.80 33.80 0 0 0 580.92 496.28Z" fill="#201a4e" stroke="#262626" stroke-width="0.45"/><text x="579.0" y="442.7" font-size="6.75" text-anchor="middle" font-style="italic">ZBTB32</text><text x="602.4" y="439.3" font-size="6.75" text-anchor="middle" font-style="italic">KLF2</text><text x="612.5" y="452.2" font-size="6.75" text-anchor="middle" font-style="italic">LEF1</text><text x="625.6" y="462.0" font-size="6.75" text-anchor="middle" font-style="italic">ZFP36L2</text><text x="637.3" y="468.9" font-size="6.75" text-anchor="middle" font-style="italic">KLF3</text><text x="647.5" y="477.9" font-size="6.75" text-anchor="middle" font-style="italic">RASA3</text><text x="656.0" y="488.6" font-size="6.75" text-anchor="middle" font-style="italic">MAPKBP1</text><text x="662.5" y="500.6" font-size="6.75" text-anchor="middle" font-style="italic">HDAC7</text><text x="666.7" y="513.5" font-size="6.75" text-anchor="middle" font-style="italic">NDFIP2</text><text x="668.5" y="527.0" font-size="6.75" text-anchor="middle" font-style="italic">TRIB1</text><text x="667.9" y="540.6" font-size="6.75" text-anchor="middle" font-style="italic">HSP90B1</text><text x="664.9" y="553.9" font-size="6.75" text-anchor="middle" font-style="italic">PTPN7</text><text x="659.5" y="566.4" font-size="6.75" text-anchor="middle" font-style="italic">CDK6</text><text x="652.0" y="577.8" font-size="6.75" text-anchor="middle" font-style="italic">GFI1</text><text x="642.6" y="587.7" font-size="6.75" text-anchor="middle" font-style="italic">CTNNB1</text><text x="631.6" y="595.7" font-size="6.75" text-anchor="middle" font-style="italic">BATF</text><text x="620.6" y="605.2" font-size="6.75" text-anchor="middle" font-style="italic">GADD45G</text><text x="605.9" y="613.4" font-size="6.75" text-anchor="middle" font-style="italic">CFLAR</text><text x="590.8" y="621.6" font-size="6.75" text-anchor="middle" font-style="italic">REL</text><text x="579.5" y="613.4" font-size="6.75" text-anchor="middle" font-style="italic">EPAS1</text><text x="566.2" y="605.2" font-size="6.75" text-anchor="middle" font-style="italic">TNIP3</text><text x="553.6" y="595.7" font-size="6.75" text-anchor="middle" font-style="italic">MAP2K3</text><text x="542.6" y="587.7" font-size="6.75" text-anchor="middle" font-style="italic">BCL3</text><text x="533.2" y="577.8" font-size="6.75" text-anchor="middle" font-style="italic">TRAF3</text><text x="525.7" y="566.4" font-size="6.75" text-anchor="middle" font-style="italic">SH2D2A</text><text x="520.3" y="553.9" font-size="6.75" text-anchor="middle" font-style="italic">OTUD5</text><text x="517.3" y="540.6" font-size="6.75" text-anchor="middle" font-style="italic">TNIP2</text><text x="516.7" y="527.0" font-size="6.75" text-anchor="middle" font-style="italic">ID2</text><text x="518.5" y="513.5" font-size="6.75" text-anchor="middle" font-style="italic">TRAF1</text><text x="522.7" y="500.6" font-size="6.75" text-anchor="middle" font-style="italic">PLAGL1</text><text x="529.2" y="488.6" font-size="6.75" text-anchor="middle" font-style="italic">RELB</text><text x="537.7" y="477.9" font-size="6.75" text-anchor="middle" font-style="italic">NFKB2</text><text x="547.9" y="468.9" font-size="6.75" text-anchor="middle" font-style="italic">RBPJ</text><text x="559.6" y="462.0" font-size="6.75" text-anchor="middle" font-style="italic">NME1</text><text x="565.8" y="451.4" font-size="6.75" text-anchor="middle" font-style="italic">BCL2L1</text><text x="367.0" y="648.5" font-size="8.4" text-anchor="middle">Cell metabolism</text><line x1="333.5" y1="650.1" x2="400.5" y2="650.1" stroke="#3a3a3a" stroke-width="0.6"/><circle cx="366.9" cy="748.0" r="15.8" fill="none" stroke="#dedede" stroke-width="0.55"/><circle cx="366.9" cy="748.0" r="32.8" fill="none" stroke="#dedede" stroke-width="0.55"/><circle cx="366.9" cy="748.0" r="49.8" fill="none" stroke="#dedede" stroke-width="0.55"/><circle cx="366.9" cy="748.0" r="66.8" fill="none" stroke="#dedede" stroke-width="0.55"/><circle cx="366.9" cy="748.0" r="75.0" fill="none" stroke="#dedede" stroke-width="0.55"/><path d="M366.9 748.0L356.2 673.8M366.9 748.0L377.6 673.8M366.9 748.0L398.1 679.8M366.9 748.0L416.0 691.3M366.9 748.0L430.0 707.5M366.9 748.0L438.9 726.9M366.9 748.0L441.9 748.0M366.9 748.0L438.9 769.1M366.9 748.0L430.0 788.5M366.9 748.0L416.0 804.7M366.9 748.0L398.1 816.2M366.9 748.0L377.6 822.2M366.9 748.0L356.2 822.2M366.9 748.0L335.7 816.2M366.9 748.0L317.8 804.7M366.9 748.0L303.8 788.5M366.9 748.0L294.9 769.1M366.9 748.0L291.9 748.0M366.9 748.0L294.9 726.9M366.9 748.0L303.8 707.5M366.9 748.0L317.8 691.3M366.9 748.0L335.7 679.8" stroke="#dedede" stroke-width="0.55" fill="none"/><path d="M348.64 683.74A66.80 66.80 0 0 1 366.32 681.20L366.61 715.20A32.80 32.80 0 0 0 357.93 716.45Z" fill="#201a4e" stroke="#262626" stroke-width="0.45"/><path d="M367.19 715.20A32.80 32.80 0 0 1 375.87 716.45L368.90 740.98A7.30 7.30 0 0 0 366.96 740.70Z" fill="#cdd1d9" stroke="#2a2a2a" stroke-width="0.55"/><path d="M381.74 699.04A51.16 51.16 0 0 1 394.18 704.72L384.39 720.25A32.80 32.80 0 0 0 376.42 716.61Z" fill="#201a4e" stroke="#262626" stroke-width="0.45"/><path d="M394.93 705.20A51.16 51.16 0 0 1 405.27 714.16L391.50 726.31A32.80 32.80 0 0 0 384.87 720.56Z" fill="#201a4e" stroke="#262626" stroke-width="0.45"/><path d="M405.86 714.84A51.16 51.16 0 0 1 413.25 726.34L396.62 734.11A32.80 32.80 0 0 0 391.88 726.74Z" fill="#201a4e" stroke="#262626" stroke-width="0.45"/><path d="M413.62 727.15A51.16 51.16 0 0 1 417.47 740.28L399.32 743.05A32.80 32.80 0 0 0 396.85 734.64Z" fill="#201a4e" stroke="#262626" stroke-width="0.45"/><path d="M417.60 741.16A51.16 51.16 0 0 1 417.60 754.84L399.41 752.38A32.80 32.80 0 0 0 399.41 743.62Z" fill="#201a4e" stroke="#262626" stroke-width="0.45"/><path d="M417.47 755.72A51.16 51.16 0 0 1 413.62 768.85L396.85 761.36A32.80 32.80 0 0 0 399.32 752.95Z" fill="#201a4e" stroke="#262626" stroke-width="0.45"/><path d="M413.25 769.66A51.16 51.16 0 0 1 405.86 781.16L391.88 769.26A32.80 32.80 0 0 0 396.62 761.89Z" fill="#201a4e" stroke="#262626" stroke-width="0.45"/><path d="M405.27 781.84A51.16 51.16 0 0 1 394.93 790.80L384.87 775.44A32.80 32.80 0 0 0 391.50 769.69Z" fill="#201a4e" stroke="#262626" stroke-width="0.45"/><path d="M394.18 791.28A51.16 51.16 0 0 1 381.74 796.96L376.42 779.39A32.80 32.80 0 0 0 384.39 775.75Z" fill="#201a4e" stroke="#262626" stroke-width="0.45"/><path d="M380.88 797.21A51.16 51.16 0 0 1 367.35 799.16L367.19 780.80A32.80 32.80 0 0 0 375.87 779.55Z" fill="#201a4e" stroke="#262626" stroke-width="0.45"/><path d="M366.45 799.16A51.16 51.16 0 0 1 352.92 797.21L357.93 779.55A32.80 32.80 0 0 0 366.61 780.80Z" fill="#201a4e" stroke="#262626" stroke-width="0.45"/><path d="M352.06 796.96A51.16 51.16 0 0 1 339.62 791.28L349.41 775.75A32.80 32.80 0 0 0 357.38 779.39Z" fill="#201a4e" stroke="#262626" stroke-width="0.45"/><path d="M338.87 790.80A51.16 51.16 0 0 1 328.53 781.84L342.30 769.69A32.80 32.80 0 0 0 348.93 775.44Z" fill="#201a4e" stroke="#262626" stroke-width="0.45"/><path d="M327.94 781.16A51.16 51.16 0 0 1 320.55 769.66L337.18 761.89A32.80 32.80 0 0 0 341.92 769.26Z" fill="#201a4e" stroke="#262626" stroke-width="0.45"/><path d="M320.18 768.85A51.16 51.16 0 0 1 316.33 755.72L334.48 752.95A32.80 32.80 0 0 0 336.95 761.36Z" fill="#201a4e" stroke="#262626" stroke-width="0.45"/><path d="M316.20 754.84A51.16 51.16 0 0 1 316.20 741.16L334.39 743.62A32.80 32.80 0 0 0 334.39 752.38Z" fill="#201a4e" stroke="#262626" stroke-width="0.45"/><path d="M316.33 740.28A51.16 51.16 0 0 1 320.18 727.15L336.95 734.64A32.80 32.80 0 0 0 334.48 743.05Z" fill="#201a4e" stroke="#262626" stroke-width="0.45"/><path d="M320.55 726.34A51.16 51.16 0 0 1 327.94 714.84L341.92 726.74A32.80 32.80 0 0 0 337.18 734.11Z" fill="#201a4e" stroke="#262626" stroke-width="0.45"/><path d="M325.72 711.69A54.90 54.90 0 0 1 336.82 702.08L348.93 720.56A32.80 32.80 0 0 0 342.30 726.31Z" fill="#201a4e" stroke="#262626" stroke-width="0.45"/><path d="M333.54 695.09A62.55 62.55 0 0 1 348.75 688.14L357.38 716.61A32.80 32.80 0 0 0 349.41 720.25Z" fill="#201a4e" stroke="#262626" stroke-width="0.45"/><text x="355.0" y="668.9" font-size="6.75" text-anchor="middle" font-style="italic">ACSL4</text><text x="377.7" y="675.2" font-size="6.75" text-anchor="middle" font-style="italic">TXNIP</text><text x="398.5" y="681.3" font-size="6.75" text-anchor="middle" font-style="italic">PARK7</text><text x="416.7" y="693.0" font-size="6.75" text-anchor="middle" font-style="italic">GPX1</text><text x="430.8" y="709.3" font-size="6.75" text-anchor="middle" font-style="italic">COX17</text><text x="439.8" y="729.0" font-size="6.75" text-anchor="middle" font-style="italic">TBC1D7</text><text x="442.9" y="750.4" font-size="6.75" text-anchor="middle" font-style="italic">ATP5G3</text><text x="439.8" y="771.8" font-size="6.75" text-anchor="middle" font-style="italic">TXN</text><text x="430.8" y="791.5" font-size="6.75" text-anchor="middle" font-style="italic">SLC27A2</text><text x="416.7" y="807.9" font-size="6.75" text-anchor="middle" font-style="italic">GALM</text><text x="398.5" y="819.6" font-size="6.75" text-anchor="middle" font-style="italic">LDHA</text><text x="377.7" y="825.7" font-size="6.75" text-anchor="middle" font-style="italic">ATOX1</text><text x="347.0" y="833.5" font-size="6.75" text-anchor="middle" font-style="italic">HYOU1</text><text x="335.3" y="819.6" font-size="6.75" text-anchor="middle" font-style="italic">PRDX5</text><text x="317.1" y="807.9" font-size="6.75" text-anchor="middle" font-style="italic">ATP5G1</text><text x="303.0" y="791.5" font-size="6.75" text-anchor="middle" font-style="italic">MFSD3</text><text x="294.0" y="771.8" font-size="6.75" text-anchor="middle" font-style="italic">ACOX3</text><text x="290.9" y="750.4" font-size="6.75" text-anchor="middle" font-style="italic">TPI1</text><text x="294.0" y="729.0" font-size="6.75" text-anchor="middle" font-style="italic">ENO1</text><text x="303.0" y="709.3" font-size="6.75" text-anchor="middle" font-style="italic">GAPDH</text><text x="317.1" y="693.0" font-size="6.75" text-anchor="middle" font-style="italic">PGAM1</text><text x="335.3" y="681.3" font-size="6.75" text-anchor="middle" font-style="italic">PKM</text><text x="591.0" y="648.8" font-size="8.4" text-anchor="middle">Trafficking and secreted mediators</text><line x1="520.1" y1="650.4" x2="661.9" y2="650.4" stroke="#3a3a3a" stroke-width="0.6"/><circle cx="591.9" cy="748.1" r="15.4" fill="none" stroke="#dedede" stroke-width="0.55"/><circle cx="591.9" cy="748.1" r="32.4" fill="none" stroke="#dedede" stroke-width="0.55"/><circle cx="591.9" cy="748.1" r="49.4" fill="none" stroke="#dedede" stroke-width="0.55"/><circle cx="591.9" cy="748.1" r="66.4" fill="none" stroke="#dedede" stroke-width="0.55"/><circle cx="591.9" cy="748.1" r="76.0" fill="none" stroke="#dedede" stroke-width="0.55"/><path d="M591.9 748.1L568.4 675.8M591.9 748.1L615.4 675.8M591.9 748.1L653.4 703.4M591.9 748.1L667.9 748.1M591.9 748.1L653.4 792.8M591.9 748.1L615.4 820.4M591.9 748.1L568.4 820.4M591.9 748.1L530.4 792.8M591.9 748.1L515.9 748.1M591.9 748.1L530.4 703.4" stroke="#dedede" stroke-width="0.55" fill="none"/><path d="M553.71 692.74A67.25 67.25 0 0 1 590.26 680.87L591.11 715.71A32.40 32.40 0 0 0 573.50 721.43Z" fill="#201a4e" stroke="#262626" stroke-width="0.45"/><path d="M592.69 715.71A32.40 32.40 0 0 1 610.30 721.43L600.64 735.42A15.40 15.40 0 0 0 592.28 732.70Z" fill="#cdd1d9" stroke="#2a2a2a" stroke-width="0.55"/><path d="M591.90 748.10L611.58 722.36A32.40 32.40 0 0 1 622.46 737.34Z" fill="#cdd1d9" stroke="#2a2a2a" stroke-width="0.55"/><path d="M591.90 748.10L622.95 738.84A32.40 32.40 0 0 1 622.95 757.36Z" fill="#cdd1d9" stroke="#2a2a2a" stroke-width="0.55"/><path d="M639.30 764.79A50.25 50.25 0 0 1 622.42 788.02L611.58 773.84A32.40 32.40 0 0 0 622.46 758.86Z" fill="#201a4e" stroke="#262626" stroke-width="0.45"/><path d="M620.92 790.16A51.10 51.10 0 0 1 593.15 799.18L592.69 780.49A32.40 32.40 0 0 0 610.30 774.77Z" fill="#201a4e" stroke="#262626" stroke-width="0.45"/><path d="M590.61 800.88A52.80 52.80 0 0 1 561.92 791.56L573.50 774.77A32.40 32.40 0 0 0 591.11 780.49Z" fill="#201a4e" stroke="#262626" stroke-width="0.45"/><path d="M560.86 788.69A51.10 51.10 0 0 1 543.70 765.07L561.34 758.86A32.40 32.40 0 0 0 572.22 773.84Z" fill="#201a4e" stroke="#262626" stroke-width="0.45"/><path d="M538.37 764.06A55.86 55.86 0 0 1 538.37 732.14L560.85 738.84A32.40 32.40 0 0 0 560.85 757.36Z" fill="#201a4e" stroke="#262626" stroke-width="0.45"/><path d="M536.49 728.59A58.75 58.75 0 0 1 556.22 701.43L572.22 722.36A32.40 32.40 0 0 0 561.34 737.34Z" fill="#201a4e" stroke="#262626" stroke-width="0.45"/><text x="568.5" y="678.6" font-size="6.75" text-anchor="middle" font-style="italic">CCL20</text><text x="615.3" y="678.6" font-size="6.75" text-anchor="middle" font-style="italic">CXCR4</text><text x="653.1" y="706.1" font-size="6.75" text-anchor="middle" font-style="italic">SELL</text><text x="667.5" y="750.5" font-size="6.75" text-anchor="middle" font-style="italic">S1PR1</text><text x="653.1" y="795.0" font-size="6.75" text-anchor="middle" font-style="italic">FBRS</text><text x="615.3" y="822.4" font-size="6.75" text-anchor="middle" font-style="italic">ICAM1</text><text x="568.5" y="822.4" font-size="6.75" text-anchor="middle" font-style="italic">CSF1</text><text x="530.7" y="795.0" font-size="6.75" text-anchor="middle" font-style="italic">CXCR6</text><text x="516.3" y="750.5" font-size="6.75" text-anchor="middle" font-style="italic">LTA</text><text x="530.7" y="706.1" font-size="6.75" text-anchor="middle" font-style="italic">CCR1</text><rect x="364" y="844.7" width="8.7" height="9" fill="#201a4e" stroke="#222" stroke-width="0.4"/><rect x="364" y="860" width="8.7" height="8.5" fill="#cdd1d9" stroke="#222" stroke-width="0.4"/><text x="376.8" y="852.0" font-size="7.2" style="letter-spacing:0.05px">Increased in <tspan font-style="italic">IL23R</tspan><tspan font-size="4.8" dy="-3">high</tspan><tspan dy="3">​</tspan> T<tspan font-size="4.8" dy="1.6">reg</tspan><tspan dy="-1.6"> </tspan>cells</text><text x="376.8" y="867.2" font-size="7.2" style="letter-spacing:0.05px">Reduced in <tspan font-style="italic">IL23R</tspan><tspan font-size="4.8" dy="-3">high</tspan><tspan dy="3">​</tspan> T<tspan font-size="4.8" dy="1.6">reg</tspan><tspan dy="-1.6"> </tspan>cells</text><text x="510.8" y="848.8" font-size="8.2">Scaled effect size</text><text x="517.0" y="862.6" font-size="7.0" text-anchor="middle">2</text><line x1="517" y1="866" x2="517" y2="868" stroke="#999" stroke-width="0.5"/><text x="531.2" y="862.6" font-size="7.0" text-anchor="middle">1</text><line x1="531.2" y1="866" x2="531.2" y2="868" stroke="#999" stroke-width="0.5"/><text x="545.3" y="862.6" font-size="7.0" text-anchor="middle">0</text><line x1="545.3" y1="866" x2="545.3" y2="868" stroke="#999" stroke-width="0.5"/><text x="560.4" y="862.6" font-size="7.0" text-anchor="middle">−1</text><line x1="560.4" y1="866" x2="560.4" y2="868" stroke="#999" stroke-width="0.5"/><text x="574.5" y="862.6" font-size="7.0" text-anchor="middle">−2</text><line x1="574.5" y1="866" x2="574.5" y2="868" stroke="#999" stroke-width="0.5"/><text x="-0.4" y="725.8" font-size="13" fill="#111" font-weight="bold">h</text><text x="15.3" y="731.5" font-size="8.2">Upregulated in <tspan font-style="italic">IL23R</tspan><tspan font-size="5.2" dy="-3.2">high</tspan><tspan dy="3.2">​</tspan> T<tspan font-size="5.2" dy="1.8">reg</tspan><tspan dy="-1.8"> </tspan>cells</text><rect x="124" y="739.8" width="60.3" height="13.5" fill="#e3e3e3" stroke="#8a8a8a" stroke-width="0.6"/><text x="154.2" y="749.6" font-size="7.8" text-anchor="middle">KEGG</text><rect x="124" y="753.3" width="60.3" height="109.5" fill="#fff" stroke="#8a8a8a" stroke-width="0.6"/><line x1="126.6" y1="753.3" x2="126.6" y2="862.8" stroke="#ececec" stroke-width="0.6"/><line x1="126.6" y1="862.8" x2="126.6" y2="865" stroke="#555" stroke-width="0.5"/><text x="126.6" y="873.5" font-size="7.0" text-anchor="middle">0</text><line x1="144.9" y1="753.3" x2="144.9" y2="862.8" stroke="#ececec" stroke-width="0.6"/><line x1="144.9" y1="862.8" x2="144.9" y2="865" stroke="#555" stroke-width="0.5"/><text x="144.9" y="873.5" font-size="7.0" text-anchor="middle">5</text><line x1="163.1" y1="753.3" x2="163.1" y2="862.8" stroke="#ececec" stroke-width="0.6"/><line x1="163.1" y1="862.8" x2="163.1" y2="865" stroke="#555" stroke-width="0.5"/><text x="163.1" y="873.5" font-size="7.0" text-anchor="middle">10</text><line x1="181.4" y1="753.3" x2="181.4" y2="862.8" stroke="#ececec" stroke-width="0.6"/><line x1="181.4" y1="862.8" x2="181.4" y2="865" stroke="#555" stroke-width="0.5"/><text x="181.4" y="873.5" font-size="7.0" text-anchor="middle">15</text><line x1="135.7" y1="753.3" x2="135.7" y2="862.8" stroke="#f4f4f4" stroke-width="0.5"/><line x1="154.0" y1="753.3" x2="154.0" y2="862.8" stroke="#f4f4f4" stroke-width="0.5"/><line x1="172.3" y1="753.3" x2="172.3" y2="862.8" stroke="#f4f4f4" stroke-width="0.5"/><rect x="126.6" y="757" width="40.6" height="23.0" fill="#46145d" stroke="#333" stroke-width="0.45"/><line x1="121.5" y1="768.5" x2="124" y2="768.5" stroke="#555" stroke-width="0.5"/><rect x="126.6" y="783.2" width="36.9" height="23.0" fill="#3d2a70" stroke="#333" stroke-width="0.45"/><line x1="121.5" y1="794.7" x2="124" y2="794.7" stroke="#555" stroke-width="0.5"/><rect x="126.6" y="808.8" width="54.8" height="23.7" fill="#2a7b8c" stroke="#333" stroke-width="0.45"/><line x1="121.5" y1="820.65" x2="124" y2="820.65" stroke="#555" stroke-width="0.5"/><rect x="126.6" y="835.4" width="25.9" height="23.0" fill="#f3e62a" stroke="#333" stroke-width="0.45"/><line x1="121.5" y1="846.9" x2="124" y2="846.9" stroke="#555" stroke-width="0.5"/><text x="117.5" y="771.1" font-size="7.2" text-anchor="end">TNF signaling pathway</text><text x="117.5" y="797.0" font-size="7.2" text-anchor="end">NF-κB signaling pathway</text><text x="117.5" y="819.7" font-size="7.2" text-anchor="end">Cytokine–cytokine</text><text x="117.5" y="828.5" font-size="7.2" text-anchor="end">receptor interaction</text><text x="117.5" y="849.9" font-size="7.2" text-anchor="end">Glycolysis/gluconeogenesis</text><text x="211.7" y="784.5" font-size="8.0"><tspan font-style="italic">P</tspan><tspan font-size="5.0" dy="1.8">adj</tspan><tspan dy="-1.8"> </tspan></text><defs><linearGradient id="gh" x1="0" y1="0" x2="0" y2="1"><stop offset="0.0" stop-color="#fde725"/><stop offset="0.1" stop-color="#bddf26"/><stop offset="0.2" stop-color="#7ad151"/><stop offset="0.3" stop-color="#44bf70"/><stop offset="0.4" stop-color="#22a884"/><stop offset="0.5" stop-color="#21918c"/><stop offset="0.6" stop-color="#2a788e"/><stop offset="0.7" stop-color="#355f8d"/><stop offset="0.8" stop-color="#414487"/><stop offset="0.9" stop-color="#482475"/><stop offset="1.0" stop-color="#440154"/></linearGradient></defs><rect x="211" y="789" width="12.4" height="56.6" fill="url(#gh)"/><line x1="221" y1="800.7" x2="223.4" y2="800.7" stroke="#fff" stroke-width="0.6"/><text x="225.5" y="803.2" font-size="7.0">0.003</text><line x1="221" y1="816" x2="223.4" y2="816" stroke="#fff" stroke-width="0.6"/><text x="225.5" y="818.5" font-size="7.0">0.002</text><line x1="221" y1="831" x2="223.4" y2="831" stroke="#fff" stroke-width="0.6"/><text x="225.5" y="833.5" font-size="7.0">0.001</text>
</svg></body></html>
